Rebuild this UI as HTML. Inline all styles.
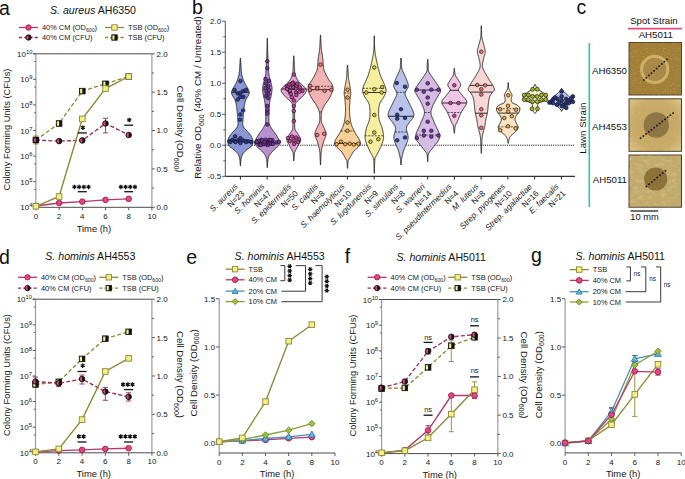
<!DOCTYPE html>
<html><head><meta charset="utf-8"><style>
html,body{margin:0;padding:0;background:#fff;}
svg{display:block;}
text{font-family:"Liberation Sans", sans-serif;}
</style></head><body>
<svg width="685" height="479" viewBox="0 0 685 479" font-family='"Liberation Sans", sans-serif'>
<rect width="685" height="479" fill="#ffffff"/>
<text x="-1.00" y="14.50" font-size="19.5" text-anchor="start" fill="#111" >a</text>
<text x="192.00" y="13.50" font-size="19.5" text-anchor="start" fill="#111" >b</text>
<text x="576.50" y="13.80" font-size="19.5" text-anchor="start" fill="#111" >c</text>
<text x="-1.00" y="264.00" font-size="19.5" text-anchor="start" fill="#111" >d</text>
<text x="186.20" y="264.30" font-size="19.5" text-anchor="start" fill="#111" >e</text>
<text x="344.80" y="263.10" font-size="19.5" text-anchor="start" fill="#111" >f</text>
<text x="531.00" y="262.20" font-size="19.5" text-anchor="start" fill="#111" >g</text>
<line x1="33.10" y1="53.80" x2="151.90" y2="53.80" stroke="#4a4a4a" stroke-width="1.0"/>
<line x1="35.90" y1="53.80" x2="35.90" y2="207.30" stroke="#9a9a9a" stroke-width="1.2"/>
<line x1="151.90" y1="53.80" x2="151.90" y2="207.30" stroke="#9a9a9a" stroke-width="1.2"/>
<line x1="35.90" y1="207.30" x2="151.90" y2="207.30" stroke="#4a4a4a" stroke-width="1.0"/>
<line x1="33.10" y1="207.30" x2="35.90" y2="207.30" stroke="#4a4a4a" stroke-width="0.9"/>
<text x="32.40" y="210.30" font-size="8" text-anchor="end" fill="#161616">10<tspan font-size="5.8" dy="-2.9">4</tspan></text>
<line x1="34.10" y1="189.42" x2="35.90" y2="189.42" stroke="#4a4a4a" stroke-width="0.8"/>
<line x1="33.10" y1="181.72" x2="35.90" y2="181.72" stroke="#4a4a4a" stroke-width="0.9"/>
<text x="32.40" y="184.72" font-size="8" text-anchor="end" fill="#161616">10<tspan font-size="5.8" dy="-2.9">5</tspan></text>
<line x1="34.10" y1="163.83" x2="35.90" y2="163.83" stroke="#4a4a4a" stroke-width="0.8"/>
<line x1="33.10" y1="156.13" x2="35.90" y2="156.13" stroke="#4a4a4a" stroke-width="0.9"/>
<text x="32.40" y="159.13" font-size="8" text-anchor="end" fill="#161616">10<tspan font-size="5.8" dy="-2.9">6</tspan></text>
<line x1="34.10" y1="138.25" x2="35.90" y2="138.25" stroke="#4a4a4a" stroke-width="0.8"/>
<line x1="33.10" y1="130.55" x2="35.90" y2="130.55" stroke="#4a4a4a" stroke-width="0.9"/>
<text x="32.40" y="133.55" font-size="8" text-anchor="end" fill="#161616">10<tspan font-size="5.8" dy="-2.9">7</tspan></text>
<line x1="34.10" y1="112.67" x2="35.90" y2="112.67" stroke="#4a4a4a" stroke-width="0.8"/>
<line x1="33.10" y1="104.97" x2="35.90" y2="104.97" stroke="#4a4a4a" stroke-width="0.9"/>
<text x="32.40" y="107.97" font-size="8" text-anchor="end" fill="#161616">10<tspan font-size="5.8" dy="-2.9">8</tspan></text>
<line x1="34.10" y1="87.08" x2="35.90" y2="87.08" stroke="#4a4a4a" stroke-width="0.8"/>
<line x1="33.10" y1="79.38" x2="35.90" y2="79.38" stroke="#4a4a4a" stroke-width="0.9"/>
<text x="32.40" y="82.38" font-size="8" text-anchor="end" fill="#161616">10<tspan font-size="5.8" dy="-2.9">9</tspan></text>
<line x1="34.10" y1="61.50" x2="35.90" y2="61.50" stroke="#4a4a4a" stroke-width="0.8"/>
<line x1="33.10" y1="53.80" x2="35.90" y2="53.80" stroke="#4a4a4a" stroke-width="0.9"/>
<text x="32.40" y="56.80" font-size="8" text-anchor="end" fill="#161616">10<tspan font-size="5.8" dy="-2.9">10</tspan></text>
<line x1="151.90" y1="207.30" x2="154.90" y2="207.30" stroke="#4a4a4a" stroke-width="0.9"/>
<text x="156.50" y="210.20" font-size="8" text-anchor="start" fill="#161616" >0.0</text>
<line x1="151.90" y1="188.11" x2="153.90" y2="188.11" stroke="#4a4a4a" stroke-width="0.9"/>
<line x1="151.90" y1="168.93" x2="154.90" y2="168.93" stroke="#4a4a4a" stroke-width="0.9"/>
<text x="156.50" y="171.83" font-size="8" text-anchor="start" fill="#161616" >0.5</text>
<line x1="151.90" y1="149.74" x2="153.90" y2="149.74" stroke="#4a4a4a" stroke-width="0.9"/>
<line x1="151.90" y1="130.55" x2="154.90" y2="130.55" stroke="#4a4a4a" stroke-width="0.9"/>
<text x="156.50" y="133.45" font-size="8" text-anchor="start" fill="#161616" >1.0</text>
<line x1="151.90" y1="111.36" x2="153.90" y2="111.36" stroke="#4a4a4a" stroke-width="0.9"/>
<line x1="151.90" y1="92.18" x2="154.90" y2="92.18" stroke="#4a4a4a" stroke-width="0.9"/>
<text x="156.50" y="95.08" font-size="8" text-anchor="start" fill="#161616" >1.5</text>
<line x1="151.90" y1="72.99" x2="153.90" y2="72.99" stroke="#4a4a4a" stroke-width="0.9"/>
<line x1="151.90" y1="53.80" x2="154.90" y2="53.80" stroke="#4a4a4a" stroke-width="0.9"/>
<text x="156.50" y="56.70" font-size="8" text-anchor="start" fill="#161616" >2.0</text>
<line x1="35.90" y1="207.30" x2="35.90" y2="210.30" stroke="#4a4a4a" stroke-width="0.9"/>
<text x="35.90" y="218.90" font-size="8" text-anchor="middle" fill="#161616" >0</text>
<line x1="59.10" y1="207.30" x2="59.10" y2="210.30" stroke="#4a4a4a" stroke-width="0.9"/>
<text x="59.10" y="218.90" font-size="8" text-anchor="middle" fill="#161616" >2</text>
<line x1="82.30" y1="207.30" x2="82.30" y2="210.30" stroke="#4a4a4a" stroke-width="0.9"/>
<text x="82.30" y="218.90" font-size="8" text-anchor="middle" fill="#161616" >4</text>
<line x1="105.50" y1="207.30" x2="105.50" y2="210.30" stroke="#4a4a4a" stroke-width="0.9"/>
<text x="105.50" y="218.90" font-size="8" text-anchor="middle" fill="#161616" >6</text>
<line x1="128.70" y1="207.30" x2="128.70" y2="210.30" stroke="#4a4a4a" stroke-width="0.9"/>
<text x="128.70" y="218.90" font-size="8" text-anchor="middle" fill="#161616" >8</text>
<line x1="151.90" y1="207.30" x2="151.90" y2="210.30" stroke="#4a4a4a" stroke-width="0.9"/>
<text x="151.90" y="218.90" font-size="8" text-anchor="middle" fill="#161616" >10</text>
<text x="93.90" y="231.60" font-size="9.4" text-anchor="middle" fill="#161616" >Time (h)</text>
<text x="0" y="0" font-size="9.3" text-anchor="middle" fill="#161616" transform="translate(10.10,129.55) rotate(-90)">Colony Forming Units (CFUs)</text>
<text x="0" y="0" font-size="9.7" text-anchor="middle" fill="#161616" transform="translate(176.60,129.05) rotate(90)">Cell Density (OD<tspan font-size="7" dy="2.4">600</tspan><tspan dy="-2.4">)</tspan></text>
<text x="50.00" y="14.20" font-size="10.6" fill="#111"><tspan font-style="italic">S. aureus</tspan> AH6350</text>
<line x1="19.00" y1="27.50" x2="38.00" y2="27.50" stroke="#b3386c" stroke-width="1.3"/>
<circle cx="28.50" cy="27.50" r="2.7" fill="#e2477f" stroke="#a11f50" stroke-width="0.9"/>
<text x="42.00" y="30.10" font-size="7.4" fill="#161616">40% CM (OD<tspan font-size="5.2" dy="1.6">600</tspan><tspan dy="-1.6">)</tspan></text>
<line x1="19.00" y1="37.50" x2="38.00" y2="37.50" stroke="#9a2c5c" stroke-width="1.3" stroke-dasharray="3.2,2"/>
<circle cx="28.50" cy="37.50" r="2.7" fill="#111" stroke="#111" stroke-width="0.8"/>
<path d="M28.50,35.40 A2.1,2.1 0 0 0 28.50,39.60 Z" fill="#e2477f"/>
<text x="42.00" y="40.10" font-size="7.4" text-anchor="start" fill="#161616" >40% CM (CFU)</text>
<line x1="105.00" y1="27.50" x2="124.00" y2="27.50" stroke="#8c8a38" stroke-width="1.3"/>
<rect x="111.80" y="24.80" width="5.4" height="5.4" fill="#f6ef86" stroke="#8a8836" stroke-width="0.9"/>
<text x="128.00" y="30.10" font-size="7.4" fill="#161616">TSB (OD<tspan font-size="5.2" dy="1.6">600</tspan><tspan dy="-1.6">)</tspan></text>
<line x1="105.00" y1="37.50" x2="124.00" y2="37.50" stroke="#8c8a38" stroke-width="1.3" stroke-dasharray="3.2,2"/>
<rect x="111.80" y="34.80" width="5.4" height="5.4" fill="#111" stroke="#111" stroke-width="0.8"/>
<rect x="112.40" y="35.40" width="2.10" height="4.20" fill="#f6ef86"/>
<text x="128.00" y="40.10" font-size="7.4" text-anchor="start" fill="#161616" >TSB (CFU)</text>
<path d="M105.50,118.30 V132.90 M102.90,118.30 H108.10 M102.90,132.90 H108.10" stroke="#9a2c5c" stroke-width="0.9" fill="none"/>
<path d="M35.90,136.00 V144.00 M33.30,136.00 H38.50 M33.30,144.00 H38.50" stroke="#8a8836" stroke-width="0.9" fill="none"/>
<polyline points="35.90,140.00 59.10,123.50 82.30,91.10 105.50,83.80 128.70,76.50" fill="none" stroke="#8c8a38" stroke-width="1.35" stroke-dasharray="4,2.2"/>
<polyline points="35.90,140.10 59.10,141.10 82.30,140.40 105.50,123.50 128.70,135.00" fill="none" stroke="#9a2c5c" stroke-width="1.35" stroke-dasharray="4,2.2"/>
<polyline points="35.90,206.00 59.10,203.00 82.30,201.60 105.50,199.90 128.70,198.90" fill="none" stroke="#b3386c" stroke-width="1.4"/>
<polyline points="35.90,206.30 59.10,196.50 82.30,118.90 105.50,88.60 128.70,76.50" fill="none" stroke="#8c8a38" stroke-width="1.4"/>
<rect x="33.10" y="137.20" width="5.6" height="5.6" fill="#111" stroke="#111" stroke-width="0.8"/>
<rect x="33.70" y="137.80" width="2.20" height="4.40" fill="#f6ef86"/>
<rect x="56.30" y="120.70" width="5.6" height="5.6" fill="#111" stroke="#111" stroke-width="0.8"/>
<rect x="56.90" y="121.30" width="2.20" height="4.40" fill="#f6ef86"/>
<rect x="79.50" y="88.30" width="5.6" height="5.6" fill="#111" stroke="#111" stroke-width="0.8"/>
<rect x="80.10" y="88.90" width="2.20" height="4.40" fill="#f6ef86"/>
<rect x="102.70" y="81.00" width="5.6" height="5.6" fill="#111" stroke="#111" stroke-width="0.8"/>
<rect x="103.30" y="81.60" width="2.20" height="4.40" fill="#f6ef86"/>
<rect x="125.90" y="73.70" width="5.6" height="5.6" fill="#111" stroke="#111" stroke-width="0.8"/>
<rect x="126.50" y="74.30" width="2.20" height="4.40" fill="#f6ef86"/>
<circle cx="35.90" cy="140.10" r="2.8" fill="#111" stroke="#111" stroke-width="0.8"/>
<path d="M35.90,137.90 A2.1999999999999997,2.1999999999999997 0 0 0 35.90,142.30 Z" fill="#e2477f"/>
<circle cx="59.10" cy="141.10" r="2.8" fill="#111" stroke="#111" stroke-width="0.8"/>
<path d="M59.10,138.90 A2.1999999999999997,2.1999999999999997 0 0 0 59.10,143.30 Z" fill="#e2477f"/>
<circle cx="82.30" cy="140.40" r="2.8" fill="#111" stroke="#111" stroke-width="0.8"/>
<path d="M82.30,138.20 A2.1999999999999997,2.1999999999999997 0 0 0 82.30,142.60 Z" fill="#e2477f"/>
<circle cx="105.50" cy="123.50" r="2.8" fill="#111" stroke="#111" stroke-width="0.8"/>
<path d="M105.50,121.30 A2.1999999999999997,2.1999999999999997 0 0 0 105.50,125.70 Z" fill="#e2477f"/>
<circle cx="128.70" cy="135.00" r="2.8" fill="#111" stroke="#111" stroke-width="0.8"/>
<path d="M128.70,132.80 A2.1999999999999997,2.1999999999999997 0 0 0 128.70,137.20 Z" fill="#e2477f"/>
<circle cx="35.90" cy="206.00" r="2.8" fill="#e2477f" stroke="#a11f50" stroke-width="0.9"/>
<circle cx="59.10" cy="203.00" r="2.8" fill="#e2477f" stroke="#a11f50" stroke-width="0.9"/>
<circle cx="82.30" cy="201.60" r="2.8" fill="#e2477f" stroke="#a11f50" stroke-width="0.9"/>
<circle cx="105.50" cy="199.90" r="2.8" fill="#e2477f" stroke="#a11f50" stroke-width="0.9"/>
<circle cx="128.70" cy="198.90" r="2.8" fill="#e2477f" stroke="#a11f50" stroke-width="0.9"/>
<rect x="33.10" y="203.50" width="5.6" height="5.6" fill="#f6ef86" stroke="#8a8836" stroke-width="0.9"/>
<rect x="56.30" y="193.70" width="5.6" height="5.6" fill="#f6ef86" stroke="#8a8836" stroke-width="0.9"/>
<rect x="79.50" y="116.10" width="5.6" height="5.6" fill="#f6ef86" stroke="#8a8836" stroke-width="0.9"/>
<rect x="102.70" y="85.80" width="5.6" height="5.6" fill="#f6ef86" stroke="#8a8836" stroke-width="0.9"/>
<rect x="125.90" y="73.70" width="5.6" height="5.6" fill="#f6ef86" stroke="#8a8836" stroke-width="0.9"/>
<path d="M82.90,125.45 L82.90,129.95 M80.95,126.58 L84.85,128.82 M84.85,126.58 L80.95,128.82 " stroke="#111" stroke-width="1.25" fill="none"/>
<line x1="77.80" y1="132.90" x2="86.80" y2="132.90" stroke="#111" stroke-width="1.3"/>
<path d="M129.30,117.75 L129.30,122.25 M127.35,118.88 L131.25,121.12 M131.25,118.88 L127.35,121.12 " stroke="#111" stroke-width="1.25" fill="none"/>
<line x1="124.20" y1="125.20" x2="133.20" y2="125.20" stroke="#111" stroke-width="1.3"/>
<path d="M74.45,184.65 L74.45,189.15 M72.50,185.78 L76.40,188.03 M76.40,185.78 L72.50,188.03 " stroke="#111" stroke-width="1.25" fill="none"/>
<path d="M79.15,184.65 L79.15,189.15 M77.20,185.78 L81.10,188.03 M81.10,185.78 L77.20,188.03 " stroke="#111" stroke-width="1.25" fill="none"/>
<path d="M83.85,184.65 L83.85,189.15 M81.90,185.78 L85.80,188.03 M85.80,185.78 L81.90,188.03 " stroke="#111" stroke-width="1.25" fill="none"/>
<path d="M88.55,184.65 L88.55,189.15 M86.60,185.78 L90.50,188.03 M90.50,185.78 L86.60,188.03 " stroke="#111" stroke-width="1.25" fill="none"/>
<line x1="77.80" y1="191.70" x2="86.80" y2="191.70" stroke="#111" stroke-width="1.3"/>
<path d="M120.85,184.65 L120.85,189.15 M118.90,185.78 L122.80,188.03 M122.80,185.78 L118.90,188.03 " stroke="#111" stroke-width="1.25" fill="none"/>
<path d="M125.55,184.65 L125.55,189.15 M123.60,185.78 L127.50,188.03 M127.50,185.78 L123.60,188.03 " stroke="#111" stroke-width="1.25" fill="none"/>
<path d="M130.25,184.65 L130.25,189.15 M128.30,185.78 L132.20,188.03 M132.20,185.78 L128.30,188.03 " stroke="#111" stroke-width="1.25" fill="none"/>
<path d="M134.95,184.65 L134.95,189.15 M133.00,185.78 L136.90,188.03 M136.90,185.78 L133.00,188.03 " stroke="#111" stroke-width="1.25" fill="none"/>
<line x1="124.20" y1="191.70" x2="133.20" y2="191.70" stroke="#111" stroke-width="1.3"/>
<line x1="32.70" y1="299.20" x2="151.90" y2="299.20" stroke="#4a4a4a" stroke-width="1.0"/>
<line x1="35.50" y1="299.20" x2="35.50" y2="452.80" stroke="#9a9a9a" stroke-width="1.2"/>
<line x1="151.90" y1="299.20" x2="151.90" y2="452.80" stroke="#9a9a9a" stroke-width="1.2"/>
<line x1="35.50" y1="452.80" x2="151.90" y2="452.80" stroke="#4a4a4a" stroke-width="1.0"/>
<line x1="32.70" y1="452.80" x2="35.50" y2="452.80" stroke="#4a4a4a" stroke-width="0.9"/>
<text x="32.00" y="455.80" font-size="8" text-anchor="end" fill="#161616">10<tspan font-size="5.8" dy="-2.9">4</tspan></text>
<line x1="33.70" y1="434.91" x2="35.50" y2="434.91" stroke="#4a4a4a" stroke-width="0.8"/>
<line x1="32.70" y1="427.20" x2="35.50" y2="427.20" stroke="#4a4a4a" stroke-width="0.9"/>
<text x="32.00" y="430.20" font-size="8" text-anchor="end" fill="#161616">10<tspan font-size="5.8" dy="-2.9">5</tspan></text>
<line x1="33.70" y1="409.31" x2="35.50" y2="409.31" stroke="#4a4a4a" stroke-width="0.8"/>
<line x1="32.70" y1="401.60" x2="35.50" y2="401.60" stroke="#4a4a4a" stroke-width="0.9"/>
<text x="32.00" y="404.60" font-size="8" text-anchor="end" fill="#161616">10<tspan font-size="5.8" dy="-2.9">6</tspan></text>
<line x1="33.70" y1="383.71" x2="35.50" y2="383.71" stroke="#4a4a4a" stroke-width="0.8"/>
<line x1="32.70" y1="376.00" x2="35.50" y2="376.00" stroke="#4a4a4a" stroke-width="0.9"/>
<text x="32.00" y="379.00" font-size="8" text-anchor="end" fill="#161616">10<tspan font-size="5.8" dy="-2.9">7</tspan></text>
<line x1="33.70" y1="358.11" x2="35.50" y2="358.11" stroke="#4a4a4a" stroke-width="0.8"/>
<line x1="32.70" y1="350.40" x2="35.50" y2="350.40" stroke="#4a4a4a" stroke-width="0.9"/>
<text x="32.00" y="353.40" font-size="8" text-anchor="end" fill="#161616">10<tspan font-size="5.8" dy="-2.9">8</tspan></text>
<line x1="33.70" y1="332.51" x2="35.50" y2="332.51" stroke="#4a4a4a" stroke-width="0.8"/>
<line x1="32.70" y1="324.80" x2="35.50" y2="324.80" stroke="#4a4a4a" stroke-width="0.9"/>
<text x="32.00" y="327.80" font-size="8" text-anchor="end" fill="#161616">10<tspan font-size="5.8" dy="-2.9">9</tspan></text>
<line x1="33.70" y1="306.91" x2="35.50" y2="306.91" stroke="#4a4a4a" stroke-width="0.8"/>
<line x1="32.70" y1="299.20" x2="35.50" y2="299.20" stroke="#4a4a4a" stroke-width="0.9"/>
<text x="32.00" y="302.20" font-size="8" text-anchor="end" fill="#161616">10<tspan font-size="5.8" dy="-2.9">10</tspan></text>
<line x1="151.90" y1="452.80" x2="154.90" y2="452.80" stroke="#4a4a4a" stroke-width="0.9"/>
<text x="156.50" y="455.70" font-size="8" text-anchor="start" fill="#161616" >0.0</text>
<line x1="151.90" y1="433.60" x2="153.90" y2="433.60" stroke="#4a4a4a" stroke-width="0.9"/>
<line x1="151.90" y1="414.40" x2="154.90" y2="414.40" stroke="#4a4a4a" stroke-width="0.9"/>
<text x="156.50" y="417.30" font-size="8" text-anchor="start" fill="#161616" >0.5</text>
<line x1="151.90" y1="395.20" x2="153.90" y2="395.20" stroke="#4a4a4a" stroke-width="0.9"/>
<line x1="151.90" y1="376.00" x2="154.90" y2="376.00" stroke="#4a4a4a" stroke-width="0.9"/>
<text x="156.50" y="378.90" font-size="8" text-anchor="start" fill="#161616" >1.0</text>
<line x1="151.90" y1="356.80" x2="153.90" y2="356.80" stroke="#4a4a4a" stroke-width="0.9"/>
<line x1="151.90" y1="337.60" x2="154.90" y2="337.60" stroke="#4a4a4a" stroke-width="0.9"/>
<text x="156.50" y="340.50" font-size="8" text-anchor="start" fill="#161616" >1.5</text>
<line x1="151.90" y1="318.40" x2="153.90" y2="318.40" stroke="#4a4a4a" stroke-width="0.9"/>
<line x1="151.90" y1="299.20" x2="154.90" y2="299.20" stroke="#4a4a4a" stroke-width="0.9"/>
<text x="156.50" y="302.10" font-size="8" text-anchor="start" fill="#161616" >2.0</text>
<line x1="35.50" y1="452.80" x2="35.50" y2="455.80" stroke="#4a4a4a" stroke-width="0.9"/>
<text x="35.50" y="464.40" font-size="8" text-anchor="middle" fill="#161616" >0</text>
<line x1="58.78" y1="452.80" x2="58.78" y2="455.80" stroke="#4a4a4a" stroke-width="0.9"/>
<text x="58.78" y="464.40" font-size="8" text-anchor="middle" fill="#161616" >2</text>
<line x1="82.06" y1="452.80" x2="82.06" y2="455.80" stroke="#4a4a4a" stroke-width="0.9"/>
<text x="82.06" y="464.40" font-size="8" text-anchor="middle" fill="#161616" >4</text>
<line x1="105.34" y1="452.80" x2="105.34" y2="455.80" stroke="#4a4a4a" stroke-width="0.9"/>
<text x="105.34" y="464.40" font-size="8" text-anchor="middle" fill="#161616" >6</text>
<line x1="128.62" y1="452.80" x2="128.62" y2="455.80" stroke="#4a4a4a" stroke-width="0.9"/>
<text x="128.62" y="464.40" font-size="8" text-anchor="middle" fill="#161616" >8</text>
<line x1="151.90" y1="452.80" x2="151.90" y2="455.80" stroke="#4a4a4a" stroke-width="0.9"/>
<text x="151.90" y="464.40" font-size="8" text-anchor="middle" fill="#161616" >10</text>
<text x="93.70" y="477.10" font-size="9.4" text-anchor="middle" fill="#161616" >Time (h)</text>
<text x="0" y="0" font-size="9.3" text-anchor="middle" fill="#161616" transform="translate(9.70,375.00) rotate(-90)">Colony Forming Units (CFUs)</text>
<text x="0" y="0" font-size="9.7" text-anchor="middle" fill="#161616" transform="translate(176.60,374.50) rotate(90)">Cell Density (OD<tspan font-size="7" dy="2.4">600</tspan><tspan dy="-2.4">)</tspan></text>
<text x="45.30" y="259.80" font-size="10.6" fill="#111"><tspan font-style="italic">S. hominis</tspan> AH4553</text>
<line x1="18.00" y1="277.30" x2="37.00" y2="277.30" stroke="#b3386c" stroke-width="1.3"/>
<circle cx="27.50" cy="277.30" r="2.7" fill="#e2477f" stroke="#a11f50" stroke-width="0.9"/>
<text x="41.00" y="279.90" font-size="7.4" fill="#161616">40% CM (OD<tspan font-size="5.2" dy="1.6">600</tspan><tspan dy="-1.6">)</tspan></text>
<line x1="18.00" y1="288.10" x2="37.00" y2="288.10" stroke="#9a2c5c" stroke-width="1.3" stroke-dasharray="3.2,2"/>
<circle cx="27.50" cy="288.10" r="2.7" fill="#111" stroke="#111" stroke-width="0.8"/>
<path d="M27.50,286.00 A2.1,2.1 0 0 0 27.50,290.20 Z" fill="#e2477f"/>
<text x="41.00" y="290.70" font-size="7.4" text-anchor="start" fill="#161616" >40% CM (CFU)</text>
<line x1="99.30" y1="277.30" x2="118.30" y2="277.30" stroke="#8c8a38" stroke-width="1.3"/>
<rect x="106.10" y="274.60" width="5.4" height="5.4" fill="#f6ef86" stroke="#8a8836" stroke-width="0.9"/>
<text x="122.30" y="279.90" font-size="7.4" fill="#161616">TSB (OD<tspan font-size="5.2" dy="1.6">600</tspan><tspan dy="-1.6">)</tspan></text>
<line x1="99.30" y1="288.10" x2="118.30" y2="288.10" stroke="#8c8a38" stroke-width="1.3" stroke-dasharray="3.2,2"/>
<rect x="106.10" y="285.40" width="5.4" height="5.4" fill="#111" stroke="#111" stroke-width="0.8"/>
<rect x="106.70" y="286.00" width="2.10" height="4.20" fill="#f6ef86"/>
<text x="122.30" y="290.70" font-size="7.4" text-anchor="start" fill="#161616" >TSB (CFU)</text>
<path d="M35.50,377.00 V386.90 M32.90,377.00 H38.10 M32.90,386.90 H38.10" stroke="#9a2c5c" stroke-width="0.9" fill="none"/>
<path d="M58.78,380.00 V386.50 M56.18,380.00 H61.38 M56.18,386.50 H61.38" stroke="#9a2c5c" stroke-width="0.9" fill="none"/>
<path d="M82.06,375.00 V384.00 M79.46,375.00 H84.66 M79.46,384.00 H84.66" stroke="#9a2c5c" stroke-width="0.9" fill="none"/>
<path d="M105.34,387.40 V400.30 M102.74,387.40 H107.94 M102.74,400.30 H107.94" stroke="#9a2c5c" stroke-width="0.9" fill="none"/>
<path d="M128.62,392.80 V401.00 M126.02,392.80 H131.22 M126.02,401.00 H131.22" stroke="#9a2c5c" stroke-width="0.9" fill="none"/>
<polyline points="35.50,384.40 58.78,381.80 82.06,358.90 105.34,338.70 128.62,331.80" fill="none" stroke="#8c8a38" stroke-width="1.35" stroke-dasharray="4,2.2"/>
<polyline points="35.50,381.50 58.78,383.30 82.06,379.00 105.34,391.60 128.62,396.80" fill="none" stroke="#9a2c5c" stroke-width="1.35" stroke-dasharray="4,2.2"/>
<polyline points="35.50,452.00 58.78,450.60 82.06,449.90 105.34,448.90 128.62,448.20" fill="none" stroke="#b3386c" stroke-width="1.4"/>
<polyline points="35.50,451.90 58.78,448.90 82.06,419.60 105.34,371.50 128.62,358.40" fill="none" stroke="#8c8a38" stroke-width="1.4"/>
<rect x="32.70" y="381.60" width="5.6" height="5.6" fill="#111" stroke="#111" stroke-width="0.8"/>
<rect x="33.30" y="382.20" width="2.20" height="4.40" fill="#f6ef86"/>
<rect x="55.98" y="379.00" width="5.6" height="5.6" fill="#111" stroke="#111" stroke-width="0.8"/>
<rect x="56.58" y="379.60" width="2.20" height="4.40" fill="#f6ef86"/>
<rect x="79.26" y="356.10" width="5.6" height="5.6" fill="#111" stroke="#111" stroke-width="0.8"/>
<rect x="79.86" y="356.70" width="2.20" height="4.40" fill="#f6ef86"/>
<rect x="102.54" y="335.90" width="5.6" height="5.6" fill="#111" stroke="#111" stroke-width="0.8"/>
<rect x="103.14" y="336.50" width="2.20" height="4.40" fill="#f6ef86"/>
<rect x="125.82" y="329.00" width="5.6" height="5.6" fill="#111" stroke="#111" stroke-width="0.8"/>
<rect x="126.42" y="329.60" width="2.20" height="4.40" fill="#f6ef86"/>
<circle cx="35.50" cy="381.50" r="2.8" fill="#111" stroke="#111" stroke-width="0.8"/>
<path d="M35.50,379.30 A2.1999999999999997,2.1999999999999997 0 0 0 35.50,383.70 Z" fill="#e2477f"/>
<circle cx="58.78" cy="383.30" r="2.8" fill="#111" stroke="#111" stroke-width="0.8"/>
<path d="M58.78,381.10 A2.1999999999999997,2.1999999999999997 0 0 0 58.78,385.50 Z" fill="#e2477f"/>
<circle cx="82.06" cy="379.00" r="2.8" fill="#111" stroke="#111" stroke-width="0.8"/>
<path d="M82.06,376.80 A2.1999999999999997,2.1999999999999997 0 0 0 82.06,381.20 Z" fill="#e2477f"/>
<circle cx="105.34" cy="391.60" r="2.8" fill="#111" stroke="#111" stroke-width="0.8"/>
<path d="M105.34,389.40 A2.1999999999999997,2.1999999999999997 0 0 0 105.34,393.80 Z" fill="#e2477f"/>
<circle cx="128.62" cy="396.80" r="2.8" fill="#111" stroke="#111" stroke-width="0.8"/>
<path d="M128.62,394.60 A2.1999999999999997,2.1999999999999997 0 0 0 128.62,399.00 Z" fill="#e2477f"/>
<circle cx="35.50" cy="452.00" r="2.8" fill="#e2477f" stroke="#a11f50" stroke-width="0.9"/>
<circle cx="58.78" cy="450.60" r="2.8" fill="#e2477f" stroke="#a11f50" stroke-width="0.9"/>
<circle cx="82.06" cy="449.90" r="2.8" fill="#e2477f" stroke="#a11f50" stroke-width="0.9"/>
<circle cx="105.34" cy="448.90" r="2.8" fill="#e2477f" stroke="#a11f50" stroke-width="0.9"/>
<circle cx="128.62" cy="448.20" r="2.8" fill="#e2477f" stroke="#a11f50" stroke-width="0.9"/>
<rect x="32.70" y="449.10" width="5.6" height="5.6" fill="#f6ef86" stroke="#8a8836" stroke-width="0.9"/>
<rect x="55.98" y="446.10" width="5.6" height="5.6" fill="#f6ef86" stroke="#8a8836" stroke-width="0.9"/>
<rect x="79.26" y="416.80" width="5.6" height="5.6" fill="#f6ef86" stroke="#8a8836" stroke-width="0.9"/>
<rect x="102.54" y="368.70" width="5.6" height="5.6" fill="#f6ef86" stroke="#8a8836" stroke-width="0.9"/>
<rect x="125.82" y="355.60" width="5.6" height="5.6" fill="#f6ef86" stroke="#8a8836" stroke-width="0.9"/>
<path d="M82.66,363.45 L82.66,367.95 M80.71,364.57 L84.61,366.82 M84.61,364.57 L80.71,366.82 " stroke="#111" stroke-width="1.25" fill="none"/>
<line x1="77.56" y1="371.50" x2="86.56" y2="371.50" stroke="#111" stroke-width="1.3"/>
<path d="M123.12,382.25 L123.12,386.75 M121.17,383.38 L125.07,385.62 M125.07,383.38 L121.17,385.62 " stroke="#111" stroke-width="1.25" fill="none"/>
<path d="M127.82,382.25 L127.82,386.75 M125.87,383.38 L129.77,385.62 M129.77,383.38 L125.87,385.62 " stroke="#111" stroke-width="1.25" fill="none"/>
<path d="M132.52,382.25 L132.52,386.75 M130.57,383.38 L134.47,385.62 M134.47,383.38 L130.57,385.62 " stroke="#111" stroke-width="1.25" fill="none"/>
<line x1="124.12" y1="389.60" x2="133.12" y2="389.60" stroke="#111" stroke-width="1.3"/>
<path d="M78.91,434.25 L78.91,438.75 M76.96,435.38 L80.86,437.62 M80.86,435.38 L76.96,437.62 " stroke="#111" stroke-width="1.25" fill="none"/>
<path d="M83.61,434.25 L83.61,438.75 M81.66,435.38 L85.56,437.62 M85.56,435.38 L81.66,437.62 " stroke="#111" stroke-width="1.25" fill="none"/>
<line x1="77.56" y1="442.00" x2="86.56" y2="442.00" stroke="#111" stroke-width="1.3"/>
<path d="M120.77,434.25 L120.77,438.75 M118.82,435.38 L122.72,437.62 M122.72,435.38 L118.82,437.62 " stroke="#111" stroke-width="1.25" fill="none"/>
<path d="M125.47,434.25 L125.47,438.75 M123.52,435.38 L127.42,437.62 M127.42,435.38 L123.52,437.62 " stroke="#111" stroke-width="1.25" fill="none"/>
<path d="M130.17,434.25 L130.17,438.75 M128.22,435.38 L132.12,437.62 M132.12,435.38 L128.22,437.62 " stroke="#111" stroke-width="1.25" fill="none"/>
<path d="M134.87,434.25 L134.87,438.75 M132.92,435.38 L136.82,437.62 M136.82,435.38 L132.92,437.62 " stroke="#111" stroke-width="1.25" fill="none"/>
<line x1="124.12" y1="442.00" x2="133.12" y2="442.00" stroke="#111" stroke-width="1.3"/>
<line x1="378.80" y1="299.50" x2="497.80" y2="299.50" stroke="#4a4a4a" stroke-width="1.0"/>
<line x1="381.60" y1="299.50" x2="381.60" y2="453.60" stroke="#9a9a9a" stroke-width="1.2"/>
<line x1="497.80" y1="299.50" x2="497.80" y2="453.60" stroke="#9a9a9a" stroke-width="1.2"/>
<line x1="381.60" y1="453.60" x2="497.80" y2="453.60" stroke="#4a4a4a" stroke-width="1.0"/>
<line x1="378.80" y1="453.60" x2="381.60" y2="453.60" stroke="#4a4a4a" stroke-width="0.9"/>
<text x="378.10" y="456.60" font-size="8" text-anchor="end" fill="#161616">10<tspan font-size="5.8" dy="-2.9">4</tspan></text>
<line x1="379.80" y1="435.65" x2="381.60" y2="435.65" stroke="#4a4a4a" stroke-width="0.8"/>
<line x1="378.80" y1="427.92" x2="381.60" y2="427.92" stroke="#4a4a4a" stroke-width="0.9"/>
<text x="378.10" y="430.92" font-size="8" text-anchor="end" fill="#161616">10<tspan font-size="5.8" dy="-2.9">5</tspan></text>
<line x1="379.80" y1="409.96" x2="381.60" y2="409.96" stroke="#4a4a4a" stroke-width="0.8"/>
<line x1="378.80" y1="402.23" x2="381.60" y2="402.23" stroke="#4a4a4a" stroke-width="0.9"/>
<text x="378.10" y="405.23" font-size="8" text-anchor="end" fill="#161616">10<tspan font-size="5.8" dy="-2.9">6</tspan></text>
<line x1="379.80" y1="384.28" x2="381.60" y2="384.28" stroke="#4a4a4a" stroke-width="0.8"/>
<line x1="378.80" y1="376.55" x2="381.60" y2="376.55" stroke="#4a4a4a" stroke-width="0.9"/>
<text x="378.10" y="379.55" font-size="8" text-anchor="end" fill="#161616">10<tspan font-size="5.8" dy="-2.9">7</tspan></text>
<line x1="379.80" y1="358.60" x2="381.60" y2="358.60" stroke="#4a4a4a" stroke-width="0.8"/>
<line x1="378.80" y1="350.87" x2="381.60" y2="350.87" stroke="#4a4a4a" stroke-width="0.9"/>
<text x="378.10" y="353.87" font-size="8" text-anchor="end" fill="#161616">10<tspan font-size="5.8" dy="-2.9">8</tspan></text>
<line x1="379.80" y1="332.91" x2="381.60" y2="332.91" stroke="#4a4a4a" stroke-width="0.8"/>
<line x1="378.80" y1="325.18" x2="381.60" y2="325.18" stroke="#4a4a4a" stroke-width="0.9"/>
<text x="378.10" y="328.18" font-size="8" text-anchor="end" fill="#161616">10<tspan font-size="5.8" dy="-2.9">9</tspan></text>
<line x1="379.80" y1="307.23" x2="381.60" y2="307.23" stroke="#4a4a4a" stroke-width="0.8"/>
<line x1="378.80" y1="299.50" x2="381.60" y2="299.50" stroke="#4a4a4a" stroke-width="0.9"/>
<text x="378.10" y="302.50" font-size="8" text-anchor="end" fill="#161616">10<tspan font-size="5.8" dy="-2.9">10</tspan></text>
<line x1="497.80" y1="453.60" x2="500.80" y2="453.60" stroke="#4a4a4a" stroke-width="0.9"/>
<text x="502.40" y="456.50" font-size="8" text-anchor="start" fill="#161616" >0.0</text>
<line x1="497.80" y1="434.34" x2="499.80" y2="434.34" stroke="#4a4a4a" stroke-width="0.9"/>
<line x1="497.80" y1="415.08" x2="500.80" y2="415.08" stroke="#4a4a4a" stroke-width="0.9"/>
<text x="502.40" y="417.98" font-size="8" text-anchor="start" fill="#161616" >0.5</text>
<line x1="497.80" y1="395.81" x2="499.80" y2="395.81" stroke="#4a4a4a" stroke-width="0.9"/>
<line x1="497.80" y1="376.55" x2="500.80" y2="376.55" stroke="#4a4a4a" stroke-width="0.9"/>
<text x="502.40" y="379.45" font-size="8" text-anchor="start" fill="#161616" >1.0</text>
<line x1="497.80" y1="357.29" x2="499.80" y2="357.29" stroke="#4a4a4a" stroke-width="0.9"/>
<line x1="497.80" y1="338.02" x2="500.80" y2="338.02" stroke="#4a4a4a" stroke-width="0.9"/>
<text x="502.40" y="340.92" font-size="8" text-anchor="start" fill="#161616" >1.5</text>
<line x1="497.80" y1="318.76" x2="499.80" y2="318.76" stroke="#4a4a4a" stroke-width="0.9"/>
<line x1="497.80" y1="299.50" x2="500.80" y2="299.50" stroke="#4a4a4a" stroke-width="0.9"/>
<text x="502.40" y="302.40" font-size="8" text-anchor="start" fill="#161616" >2.0</text>
<line x1="381.60" y1="453.60" x2="381.60" y2="456.60" stroke="#4a4a4a" stroke-width="0.9"/>
<text x="381.60" y="465.20" font-size="8" text-anchor="middle" fill="#161616" >0</text>
<line x1="404.84" y1="453.60" x2="404.84" y2="456.60" stroke="#4a4a4a" stroke-width="0.9"/>
<text x="404.84" y="465.20" font-size="8" text-anchor="middle" fill="#161616" >2</text>
<line x1="428.08" y1="453.60" x2="428.08" y2="456.60" stroke="#4a4a4a" stroke-width="0.9"/>
<text x="428.08" y="465.20" font-size="8" text-anchor="middle" fill="#161616" >4</text>
<line x1="451.32" y1="453.60" x2="451.32" y2="456.60" stroke="#4a4a4a" stroke-width="0.9"/>
<text x="451.32" y="465.20" font-size="8" text-anchor="middle" fill="#161616" >6</text>
<line x1="474.56" y1="453.60" x2="474.56" y2="456.60" stroke="#4a4a4a" stroke-width="0.9"/>
<text x="474.56" y="465.20" font-size="8" text-anchor="middle" fill="#161616" >8</text>
<line x1="497.80" y1="453.60" x2="497.80" y2="456.60" stroke="#4a4a4a" stroke-width="0.9"/>
<text x="497.80" y="465.20" font-size="8" text-anchor="middle" fill="#161616" >10</text>
<text x="439.70" y="477.90" font-size="9.4" text-anchor="middle" fill="#161616" >Time (h)</text>
<text x="0" y="0" font-size="9.3" text-anchor="middle" fill="#161616" transform="translate(355.70,375.55) rotate(-90)">Colony Forming Units (CFUs)</text>
<text x="0" y="0" font-size="9.7" text-anchor="middle" fill="#161616" transform="translate(521.20,375.05) rotate(90)">Cell Density (OD<tspan font-size="7" dy="2.4">600</tspan><tspan dy="-2.4">)</tspan></text>
<text x="396.50" y="260.50" font-size="10.6" fill="#111"><tspan font-style="italic">S. hominis</tspan> AH5011</text>
<line x1="367.60" y1="277.30" x2="386.60" y2="277.30" stroke="#b3386c" stroke-width="1.3"/>
<circle cx="377.10" cy="277.30" r="2.7" fill="#e2477f" stroke="#a11f50" stroke-width="0.9"/>
<text x="390.60" y="279.90" font-size="7.4" fill="#161616">40% CM (OD<tspan font-size="5.2" dy="1.6">600</tspan><tspan dy="-1.6">)</tspan></text>
<line x1="367.60" y1="288.10" x2="386.60" y2="288.10" stroke="#9a2c5c" stroke-width="1.3" stroke-dasharray="3.2,2"/>
<circle cx="377.10" cy="288.10" r="2.7" fill="#111" stroke="#111" stroke-width="0.8"/>
<path d="M377.10,286.00 A2.1,2.1 0 0 0 377.10,290.20 Z" fill="#e2477f"/>
<text x="390.60" y="290.70" font-size="7.4" text-anchor="start" fill="#161616" >40% CM (CFU)</text>
<line x1="448.20" y1="277.30" x2="467.20" y2="277.30" stroke="#8c8a38" stroke-width="1.3"/>
<rect x="455.00" y="274.60" width="5.4" height="5.4" fill="#f6ef86" stroke="#8a8836" stroke-width="0.9"/>
<text x="471.20" y="279.90" font-size="7.4" fill="#161616">TSB (OD<tspan font-size="5.2" dy="1.6">600</tspan><tspan dy="-1.6">)</tspan></text>
<line x1="448.20" y1="288.10" x2="467.20" y2="288.10" stroke="#8c8a38" stroke-width="1.3" stroke-dasharray="3.2,2"/>
<rect x="455.00" y="285.40" width="5.4" height="5.4" fill="#111" stroke="#111" stroke-width="0.8"/>
<rect x="455.60" y="286.00" width="2.10" height="4.20" fill="#f6ef86"/>
<text x="471.20" y="290.70" font-size="7.4" text-anchor="start" fill="#161616" >TSB (CFU)</text>
<path d="M428.08,425.70 V435.00 M425.48,425.70 H430.68 M425.48,435.00 H430.68" stroke="#a11f50" stroke-width="0.9" fill="none"/>
<path d="M474.56,393.60 V398.40 M471.96,393.60 H477.16 M471.96,398.40 H477.16" stroke="#a11f50" stroke-width="0.9" fill="none"/>
<path d="M451.32,395.00 V431.70 M448.72,395.00 H453.92 M448.72,431.70 H453.92" stroke="#8a8836" stroke-width="0.9" fill="none"/>
<path d="M474.56,381.80 V397.00 M471.96,381.80 H477.16 M471.96,397.00 H477.16" stroke="#8a8836" stroke-width="0.9" fill="none"/>
<path d="M451.32,340.00 V361.50 M448.72,340.00 H453.92 M448.72,361.50 H453.92" stroke="#8a8836" stroke-width="0.9" fill="none"/>
<path d="M428.08,348.50 V354.00 M425.48,348.50 H430.68 M425.48,354.00 H430.68" stroke="#9a2c5c" stroke-width="0.9" fill="none"/>
<polyline points="381.60,388.60 404.84,387.90 428.08,367.40 451.32,345.70 474.56,337.30" fill="none" stroke="#8c8a38" stroke-width="1.35" stroke-dasharray="4,2.2"/>
<polyline points="381.60,387.90 404.84,381.50 428.08,351.30 451.32,336.80 474.56,334.70" fill="none" stroke="#9a2c5c" stroke-width="1.35" stroke-dasharray="4,2.2"/>
<polyline points="381.60,453.00 404.84,450.10 428.08,430.40 451.32,395.50 474.56,395.50" fill="none" stroke="#b3386c" stroke-width="1.4"/>
<polyline points="381.60,452.80 404.84,450.70 428.08,437.80 451.32,414.10 474.56,389.70" fill="none" stroke="#8c8a38" stroke-width="1.4"/>
<rect x="378.80" y="385.80" width="5.6" height="5.6" fill="#111" stroke="#111" stroke-width="0.8"/>
<rect x="379.40" y="386.40" width="2.20" height="4.40" fill="#f6ef86"/>
<rect x="402.04" y="385.10" width="5.6" height="5.6" fill="#111" stroke="#111" stroke-width="0.8"/>
<rect x="402.64" y="385.70" width="2.20" height="4.40" fill="#f6ef86"/>
<rect x="425.28" y="364.60" width="5.6" height="5.6" fill="#111" stroke="#111" stroke-width="0.8"/>
<rect x="425.88" y="365.20" width="2.20" height="4.40" fill="#f6ef86"/>
<rect x="448.52" y="342.90" width="5.6" height="5.6" fill="#111" stroke="#111" stroke-width="0.8"/>
<rect x="449.12" y="343.50" width="2.20" height="4.40" fill="#f6ef86"/>
<rect x="471.76" y="334.50" width="5.6" height="5.6" fill="#111" stroke="#111" stroke-width="0.8"/>
<rect x="472.36" y="335.10" width="2.20" height="4.40" fill="#f6ef86"/>
<circle cx="381.60" cy="387.90" r="2.8" fill="#111" stroke="#111" stroke-width="0.8"/>
<path d="M381.60,385.70 A2.1999999999999997,2.1999999999999997 0 0 0 381.60,390.10 Z" fill="#e2477f"/>
<circle cx="404.84" cy="381.50" r="2.8" fill="#111" stroke="#111" stroke-width="0.8"/>
<path d="M404.84,379.30 A2.1999999999999997,2.1999999999999997 0 0 0 404.84,383.70 Z" fill="#e2477f"/>
<circle cx="428.08" cy="351.30" r="2.8" fill="#111" stroke="#111" stroke-width="0.8"/>
<path d="M428.08,349.10 A2.1999999999999997,2.1999999999999997 0 0 0 428.08,353.50 Z" fill="#e2477f"/>
<circle cx="451.32" cy="336.80" r="2.8" fill="#111" stroke="#111" stroke-width="0.8"/>
<path d="M451.32,334.60 A2.1999999999999997,2.1999999999999997 0 0 0 451.32,339.00 Z" fill="#e2477f"/>
<circle cx="474.56" cy="334.70" r="2.8" fill="#111" stroke="#111" stroke-width="0.8"/>
<path d="M474.56,332.50 A2.1999999999999997,2.1999999999999997 0 0 0 474.56,336.90 Z" fill="#e2477f"/>
<circle cx="381.60" cy="453.00" r="2.8" fill="#e2477f" stroke="#a11f50" stroke-width="0.9"/>
<circle cx="404.84" cy="450.10" r="2.8" fill="#e2477f" stroke="#a11f50" stroke-width="0.9"/>
<circle cx="428.08" cy="430.40" r="2.8" fill="#e2477f" stroke="#a11f50" stroke-width="0.9"/>
<circle cx="451.32" cy="395.50" r="2.8" fill="#e2477f" stroke="#a11f50" stroke-width="0.9"/>
<circle cx="474.56" cy="395.50" r="2.8" fill="#e2477f" stroke="#a11f50" stroke-width="0.9"/>
<rect x="378.80" y="450.00" width="5.6" height="5.6" fill="#f6ef86" stroke="#8a8836" stroke-width="0.9"/>
<rect x="402.04" y="447.90" width="5.6" height="5.6" fill="#f6ef86" stroke="#8a8836" stroke-width="0.9"/>
<rect x="425.28" y="435.00" width="5.6" height="5.6" fill="#f6ef86" stroke="#8a8836" stroke-width="0.9"/>
<rect x="448.52" y="411.30" width="5.6" height="5.6" fill="#f6ef86" stroke="#8a8836" stroke-width="0.9"/>
<rect x="471.76" y="386.90" width="5.6" height="5.6" fill="#f6ef86" stroke="#8a8836" stroke-width="0.9"/>
<text x="428.08" y="339.50" font-size="7.4" text-anchor="middle" fill="#161616" >ns</text>
<line x1="423.58" y1="342.40" x2="432.58" y2="342.40" stroke="#111" stroke-width="1.3"/>
<text x="474.56" y="322.30" font-size="7.4" text-anchor="middle" fill="#161616" >ns</text>
<line x1="470.06" y1="325.80" x2="479.06" y2="325.80" stroke="#111" stroke-width="1.3"/>
<text x="474.56" y="373.40" font-size="7.4" text-anchor="middle" fill="#161616" >ns</text>
<line x1="470.06" y1="376.90" x2="479.06" y2="376.90" stroke="#111" stroke-width="1.3"/>
<text x="428.08" y="411.60" font-size="7.4" text-anchor="middle" fill="#161616" >ns</text>
<line x1="423.58" y1="415.20" x2="432.58" y2="415.20" stroke="#111" stroke-width="1.3"/>
<line x1="219.20" y1="298.70" x2="219.20" y2="453.00" stroke="#9a9a9a" stroke-width="1.2"/>
<line x1="219.20" y1="453.00" x2="335.00" y2="453.00" stroke="#4a4a4a" stroke-width="1.0"/>
<line x1="216.00" y1="443.30" x2="219.20" y2="443.30" stroke="#4a4a4a" stroke-width="0.9"/>
<text x="215.20" y="446.20" font-size="8" text-anchor="end" fill="#161616" >0.0</text>
<line x1="216.00" y1="395.10" x2="219.20" y2="395.10" stroke="#4a4a4a" stroke-width="0.9"/>
<text x="215.20" y="398.00" font-size="8" text-anchor="end" fill="#161616" >0.5</text>
<line x1="216.00" y1="346.90" x2="219.20" y2="346.90" stroke="#4a4a4a" stroke-width="0.9"/>
<text x="215.20" y="349.80" font-size="8" text-anchor="end" fill="#161616" >1.0</text>
<line x1="216.00" y1="298.70" x2="219.20" y2="298.70" stroke="#4a4a4a" stroke-width="0.9"/>
<text x="215.20" y="301.60" font-size="8" text-anchor="end" fill="#161616" >1.5</text>
<line x1="219.20" y1="453.00" x2="219.20" y2="456.00" stroke="#4a4a4a" stroke-width="0.9"/>
<text x="219.20" y="464.60" font-size="8" text-anchor="middle" fill="#161616" >0</text>
<line x1="242.36" y1="453.00" x2="242.36" y2="456.00" stroke="#4a4a4a" stroke-width="0.9"/>
<text x="242.36" y="464.60" font-size="8" text-anchor="middle" fill="#161616" >2</text>
<line x1="265.52" y1="453.00" x2="265.52" y2="456.00" stroke="#4a4a4a" stroke-width="0.9"/>
<text x="265.52" y="464.60" font-size="8" text-anchor="middle" fill="#161616" >4</text>
<line x1="288.68" y1="453.00" x2="288.68" y2="456.00" stroke="#4a4a4a" stroke-width="0.9"/>
<text x="288.68" y="464.60" font-size="8" text-anchor="middle" fill="#161616" >6</text>
<line x1="311.84" y1="453.00" x2="311.84" y2="456.00" stroke="#4a4a4a" stroke-width="0.9"/>
<text x="311.84" y="464.60" font-size="8" text-anchor="middle" fill="#161616" >8</text>
<line x1="335.00" y1="453.00" x2="335.00" y2="456.00" stroke="#4a4a4a" stroke-width="0.9"/>
<text x="335.00" y="464.60" font-size="8" text-anchor="middle" fill="#161616" >10</text>
<text x="277.10" y="476.80" font-size="9.4" text-anchor="middle" fill="#161616" >Time (h)</text>
<text x="0" y="0" font-size="9.7" text-anchor="middle" fill="#161616" transform="translate(197.00,372.85) rotate(-90)">Cell Density (OD<tspan font-size="7" dy="2.4">600</tspan><tspan dy="-2.4">)</tspan></text>
<text x="234.60" y="259.9" font-size="10.6" fill="#111"><tspan font-style="italic">S. hominis</tspan> AH4553</text>
<line x1="225.60" y1="269.20" x2="244.60" y2="269.20" stroke="#8c8a38" stroke-width="1.3"/>
<rect x="232.40" y="266.50" width="5.4" height="5.4" fill="#f6ef86" stroke="#8a8836" stroke-width="0.9"/>
<text x="248.60" y="271.80" font-size="7.4" text-anchor="start" fill="#161616" >TSB</text>
<line x1="225.60" y1="279.80" x2="244.60" y2="279.80" stroke="#b3386c" stroke-width="1.3"/>
<circle cx="235.10" cy="279.80" r="2.8" fill="#e2477f" stroke="#a11f50" stroke-width="0.9"/>
<text x="248.60" y="282.40" font-size="7.4" text-anchor="start" fill="#161616" >40% CM</text>
<line x1="225.60" y1="291.10" x2="244.60" y2="291.10" stroke="#4f8fb3" stroke-width="1.3"/>
<path d="M235.10,288.27 L238.00,293.49 L232.20,293.49 Z" fill="#5fbfe8" stroke="#2f78a2" stroke-width="0.9"/>
<text x="248.60" y="293.70" font-size="7.4" text-anchor="start" fill="#161616" >20% CM</text>
<line x1="225.60" y1="301.60" x2="244.60" y2="301.60" stroke="#86a03a" stroke-width="1.3"/>
<path d="M235.10,298.60 L238.10,301.60 L235.10,304.60 L232.10,301.60 Z" fill="#a0c03e" stroke="#67861f" stroke-width="0.9"/>
<text x="248.60" y="304.20" font-size="7.4" text-anchor="start" fill="#161616" >10% CM</text>
<path d="M280.40,265.60 H284.80 V280.70 H280.40" fill="none" stroke="#222" stroke-width="0.9"/>
<path d="M287.45,266.30 L291.95,266.30 M288.57,264.35 L290.82,268.25 M290.82,264.35 L288.57,268.25 " stroke="#111" stroke-width="1.25" fill="none"/>
<path d="M287.45,270.90 L291.95,270.90 M288.57,268.95 L290.82,272.85 M290.82,268.95 L288.57,272.85 " stroke="#111" stroke-width="1.25" fill="none"/>
<path d="M287.45,275.50 L291.95,275.50 M288.57,273.55 L290.82,277.45 M290.82,273.55 L288.57,277.45 " stroke="#111" stroke-width="1.25" fill="none"/>
<path d="M287.45,280.10 L291.95,280.10 M288.57,278.15 L290.82,282.05 M290.82,278.15 L288.57,282.05 " stroke="#111" stroke-width="1.25" fill="none"/>
<path d="M295.70,265.60 H305.50 V291.20 H281.30" fill="none" stroke="#222" stroke-width="0.9"/>
<path d="M307.95,269.30 L312.45,269.30 M309.07,267.35 L311.32,271.25 M311.32,267.35 L309.07,271.25 " stroke="#111" stroke-width="1.25" fill="none"/>
<path d="M307.95,273.90 L312.45,273.90 M309.07,271.95 L311.32,275.85 M311.32,271.95 L309.07,275.85 " stroke="#111" stroke-width="1.25" fill="none"/>
<path d="M307.95,278.50 L312.45,278.50 M309.07,276.55 L311.32,280.45 M311.32,276.55 L309.07,280.45 " stroke="#111" stroke-width="1.25" fill="none"/>
<path d="M307.95,283.10 L312.45,283.10 M309.07,281.15 L311.32,285.05 M311.32,281.15 L309.07,285.05 " stroke="#111" stroke-width="1.25" fill="none"/>
<path d="M315.40,265.60 H322.10 V301.70 H281.30" fill="none" stroke="#222" stroke-width="0.9"/>
<path d="M324.55,276.70 L329.05,276.70 M325.68,274.75 L327.93,278.65 M327.93,274.75 L325.68,278.65 " stroke="#111" stroke-width="1.25" fill="none"/>
<path d="M324.55,281.30 L329.05,281.30 M325.68,279.35 L327.93,283.25 M327.93,279.35 L325.68,283.25 " stroke="#111" stroke-width="1.25" fill="none"/>
<path d="M324.55,285.90 L329.05,285.90 M325.68,283.95 L327.93,287.85 M327.93,283.95 L325.68,287.85 " stroke="#111" stroke-width="1.25" fill="none"/>
<path d="M324.55,290.50 L329.05,290.50 M325.68,288.55 L327.93,292.45 M327.93,288.55 L325.68,292.45 " stroke="#111" stroke-width="1.25" fill="none"/>
<polyline points="219.20,441.80 242.36,440.80 265.52,439.90 288.68,438.30 311.84,437.20" fill="none" stroke="#b3386c" stroke-width="1.3"/>
<polyline points="219.20,441.80 242.36,440.50 265.52,438.50 288.68,436.80 311.84,434.40" fill="none" stroke="#4f8fb3" stroke-width="1.3"/>
<polyline points="219.20,441.80 242.36,439.50 265.52,435.00 288.68,430.20 311.84,423.60" fill="none" stroke="#86a03a" stroke-width="1.3"/>
<polyline points="219.20,441.60 242.36,437.90 265.52,401.60 288.68,341.20 311.84,324.70" fill="none" stroke="#8c8a38" stroke-width="1.3"/>
<circle cx="219.20" cy="441.80" r="2.8" fill="#e2477f" stroke="#a11f50" stroke-width="0.9"/>
<circle cx="242.36" cy="440.80" r="2.8" fill="#e2477f" stroke="#a11f50" stroke-width="0.9"/>
<circle cx="265.52" cy="439.90" r="2.8" fill="#e2477f" stroke="#a11f50" stroke-width="0.9"/>
<circle cx="288.68" cy="438.30" r="2.8" fill="#e2477f" stroke="#a11f50" stroke-width="0.9"/>
<circle cx="311.84" cy="437.20" r="2.8" fill="#e2477f" stroke="#a11f50" stroke-width="0.9"/>
<path d="M219.20,438.44 L222.50,444.38 L215.90,444.38 Z" fill="#5fbfe8" stroke="#2f78a2" stroke-width="0.9"/>
<path d="M242.36,437.14 L245.66,443.08 L239.06,443.08 Z" fill="#5fbfe8" stroke="#2f78a2" stroke-width="0.9"/>
<path d="M265.52,435.14 L268.82,441.08 L262.22,441.08 Z" fill="#5fbfe8" stroke="#2f78a2" stroke-width="0.9"/>
<path d="M288.68,433.44 L291.98,439.38 L285.38,439.38 Z" fill="#5fbfe8" stroke="#2f78a2" stroke-width="0.9"/>
<path d="M311.84,431.04 L315.14,436.98 L308.54,436.98 Z" fill="#5fbfe8" stroke="#2f78a2" stroke-width="0.9"/>
<path d="M219.20,438.60 L222.40,441.80 L219.20,445.00 L216.00,441.80 Z" fill="#a0c03e" stroke="#67861f" stroke-width="0.9"/>
<path d="M242.36,436.30 L245.56,439.50 L242.36,442.70 L239.16,439.50 Z" fill="#a0c03e" stroke="#67861f" stroke-width="0.9"/>
<path d="M265.52,431.80 L268.72,435.00 L265.52,438.20 L262.32,435.00 Z" fill="#a0c03e" stroke="#67861f" stroke-width="0.9"/>
<path d="M288.68,427.00 L291.88,430.20 L288.68,433.40 L285.48,430.20 Z" fill="#a0c03e" stroke="#67861f" stroke-width="0.9"/>
<path d="M311.84,420.40 L315.04,423.60 L311.84,426.80 L308.64,423.60 Z" fill="#a0c03e" stroke="#67861f" stroke-width="0.9"/>
<rect x="216.40" y="438.80" width="5.6" height="5.6" fill="#f6ef86" stroke="#8a8836" stroke-width="0.9"/>
<rect x="239.56" y="435.10" width="5.6" height="5.6" fill="#f6ef86" stroke="#8a8836" stroke-width="0.9"/>
<rect x="262.72" y="398.80" width="5.6" height="5.6" fill="#f6ef86" stroke="#8a8836" stroke-width="0.9"/>
<rect x="285.88" y="338.40" width="5.6" height="5.6" fill="#f6ef86" stroke="#8a8836" stroke-width="0.9"/>
<rect x="309.04" y="321.90" width="5.6" height="5.6" fill="#f6ef86" stroke="#8a8836" stroke-width="0.9"/>
<line x1="565.10" y1="298.70" x2="565.10" y2="452.90" stroke="#9a9a9a" stroke-width="1.2"/>
<line x1="565.10" y1="452.90" x2="681.20" y2="452.90" stroke="#4a4a4a" stroke-width="1.0"/>
<line x1="561.90" y1="443.50" x2="565.10" y2="443.50" stroke="#4a4a4a" stroke-width="0.9"/>
<text x="561.10" y="446.40" font-size="8" text-anchor="end" fill="#161616" >0.0</text>
<line x1="561.90" y1="395.23" x2="565.10" y2="395.23" stroke="#4a4a4a" stroke-width="0.9"/>
<text x="561.10" y="398.13" font-size="8" text-anchor="end" fill="#161616" >0.5</text>
<line x1="561.90" y1="346.97" x2="565.10" y2="346.97" stroke="#4a4a4a" stroke-width="0.9"/>
<text x="561.10" y="349.87" font-size="8" text-anchor="end" fill="#161616" >1.0</text>
<line x1="561.90" y1="298.70" x2="565.10" y2="298.70" stroke="#4a4a4a" stroke-width="0.9"/>
<text x="561.10" y="301.60" font-size="8" text-anchor="end" fill="#161616" >1.5</text>
<line x1="565.10" y1="452.90" x2="565.10" y2="455.90" stroke="#4a4a4a" stroke-width="0.9"/>
<text x="565.10" y="464.50" font-size="8" text-anchor="middle" fill="#161616" >0</text>
<line x1="588.32" y1="452.90" x2="588.32" y2="455.90" stroke="#4a4a4a" stroke-width="0.9"/>
<text x="588.32" y="464.50" font-size="8" text-anchor="middle" fill="#161616" >2</text>
<line x1="611.54" y1="452.90" x2="611.54" y2="455.90" stroke="#4a4a4a" stroke-width="0.9"/>
<text x="611.54" y="464.50" font-size="8" text-anchor="middle" fill="#161616" >4</text>
<line x1="634.76" y1="452.90" x2="634.76" y2="455.90" stroke="#4a4a4a" stroke-width="0.9"/>
<text x="634.76" y="464.50" font-size="8" text-anchor="middle" fill="#161616" >6</text>
<line x1="657.98" y1="452.90" x2="657.98" y2="455.90" stroke="#4a4a4a" stroke-width="0.9"/>
<text x="657.98" y="464.50" font-size="8" text-anchor="middle" fill="#161616" >8</text>
<line x1="681.20" y1="452.90" x2="681.20" y2="455.90" stroke="#4a4a4a" stroke-width="0.9"/>
<text x="681.20" y="464.50" font-size="8" text-anchor="middle" fill="#161616" >10</text>
<text x="623.15" y="476.70" font-size="9.4" text-anchor="middle" fill="#161616" >Time (h)</text>
<text x="0" y="0" font-size="9.7" text-anchor="middle" fill="#161616" transform="translate(541.80,374.60) rotate(-90)">Cell Density (OD<tspan font-size="7" dy="2.4">600</tspan><tspan dy="-2.4">)</tspan></text>
<text x="575.60" y="259.9" font-size="10.6" fill="#111"><tspan font-style="italic">S. hominis</tspan> AH5011</text>
<line x1="569.70" y1="269.60" x2="588.70" y2="269.60" stroke="#8c8a38" stroke-width="1.3"/>
<rect x="576.50" y="266.90" width="5.4" height="5.4" fill="#f6ef86" stroke="#8a8836" stroke-width="0.9"/>
<text x="592.70" y="272.20" font-size="7.4" text-anchor="start" fill="#161616" >TSB</text>
<line x1="569.70" y1="280.40" x2="588.70" y2="280.40" stroke="#b3386c" stroke-width="1.3"/>
<circle cx="579.20" cy="280.40" r="2.8" fill="#e2477f" stroke="#a11f50" stroke-width="0.9"/>
<text x="592.70" y="283.00" font-size="7.4" text-anchor="start" fill="#161616" >40% CM</text>
<line x1="569.70" y1="291.70" x2="588.70" y2="291.70" stroke="#4f8fb3" stroke-width="1.3"/>
<path d="M579.20,288.87 L582.10,294.09 L576.30,294.09 Z" fill="#5fbfe8" stroke="#2f78a2" stroke-width="0.9"/>
<text x="592.70" y="294.30" font-size="7.4" text-anchor="start" fill="#161616" >20% CM</text>
<line x1="569.70" y1="302.00" x2="588.70" y2="302.00" stroke="#86a03a" stroke-width="1.3"/>
<path d="M579.20,299.00 L582.20,302.00 L579.20,305.00 L576.20,302.00 Z" fill="#a0c03e" stroke="#67861f" stroke-width="0.9"/>
<text x="592.70" y="304.60" font-size="7.4" text-anchor="start" fill="#161616" >10% CM</text>
<path d="M626.40,266.90 H630.40 V280.90 H626.40" fill="none" stroke="#222" stroke-width="0.9"/>
<text x="633.80" y="276.40" font-size="6.3" text-anchor="start" fill="#161616" >ns</text>
<path d="M641.00,266.90 H645.80 V291.70 H625.60" fill="none" stroke="#222" stroke-width="0.9"/>
<text x="649.30" y="280.90" font-size="6.3" text-anchor="start" fill="#161616" >ns</text>
<path d="M656.10,266.90 H660.70 V302.00 H625.60" fill="none" stroke="#222" stroke-width="0.9"/>
<text x="663.80" y="287.20" font-size="6.3" text-anchor="start" fill="#161616" >ns</text>
<path d="M634.76,355.50 V416.40 M632.16,355.50 H637.36 M632.16,416.40 H637.36" stroke="#8a8836" stroke-width="0.9" fill="none"/>
<path d="M611.54,408.20 V420.40 M608.94,408.20 H614.14 M608.94,420.40 H614.14" stroke="#a11f50" stroke-width="0.9" fill="none"/>
<path d="M657.98,368.80 V375.10 M655.38,368.80 H660.58 M655.38,375.10 H660.58" stroke="#a11f50" stroke-width="0.9" fill="none"/>
<path d="M611.54,407.40 V414.00 M608.94,407.40 H614.14 M608.94,414.00 H614.14" stroke="#2f78a2" stroke-width="0.9" fill="none"/>
<path d="M634.76,355.50 V362.00 M632.16,355.50 H637.36 M632.16,362.00 H637.36" stroke="#2f78a2" stroke-width="0.9" fill="none"/>
<polyline points="565.10,443.00 588.32,440.70 611.54,424.70 634.76,394.40 657.98,364.30" fill="none" stroke="#8c8a38" stroke-width="1.3"/>
<polyline points="565.10,443.00 588.32,441.00 611.54,411.40 634.76,358.80 657.98,353.80" fill="none" stroke="#4f8fb3" stroke-width="1.3"/>
<polyline points="565.10,443.00 588.32,441.00 611.54,419.00 634.76,365.00 657.98,351.30" fill="none" stroke="#86a03a" stroke-width="1.3"/>
<polyline points="565.10,442.80 588.32,441.00 611.54,414.70 634.76,371.30 657.98,372.10" fill="none" stroke="#b3386c" stroke-width="1.3"/>
<rect x="562.30" y="440.20" width="5.6" height="5.6" fill="#f6ef86" stroke="#8a8836" stroke-width="0.9"/>
<rect x="585.52" y="437.90" width="5.6" height="5.6" fill="#f6ef86" stroke="#8a8836" stroke-width="0.9"/>
<rect x="608.74" y="421.90" width="5.6" height="5.6" fill="#f6ef86" stroke="#8a8836" stroke-width="0.9"/>
<rect x="631.96" y="391.60" width="5.6" height="5.6" fill="#f6ef86" stroke="#8a8836" stroke-width="0.9"/>
<rect x="655.18" y="361.50" width="5.6" height="5.6" fill="#f6ef86" stroke="#8a8836" stroke-width="0.9"/>
<path d="M565.10,439.64 L568.40,445.58 L561.80,445.58 Z" fill="#5fbfe8" stroke="#2f78a2" stroke-width="0.9"/>
<path d="M588.32,437.64 L591.62,443.58 L585.02,443.58 Z" fill="#5fbfe8" stroke="#2f78a2" stroke-width="0.9"/>
<path d="M611.54,408.04 L614.84,413.98 L608.24,413.98 Z" fill="#5fbfe8" stroke="#2f78a2" stroke-width="0.9"/>
<path d="M634.76,355.44 L638.06,361.38 L631.46,361.38 Z" fill="#5fbfe8" stroke="#2f78a2" stroke-width="0.9"/>
<path d="M657.98,350.44 L661.28,356.38 L654.68,356.38 Z" fill="#5fbfe8" stroke="#2f78a2" stroke-width="0.9"/>
<path d="M565.10,439.80 L568.30,443.00 L565.10,446.20 L561.90,443.00 Z" fill="#a0c03e" stroke="#67861f" stroke-width="0.9"/>
<path d="M588.32,437.80 L591.52,441.00 L588.32,444.20 L585.12,441.00 Z" fill="#a0c03e" stroke="#67861f" stroke-width="0.9"/>
<path d="M611.54,415.80 L614.74,419.00 L611.54,422.20 L608.34,419.00 Z" fill="#a0c03e" stroke="#67861f" stroke-width="0.9"/>
<path d="M634.76,361.80 L637.96,365.00 L634.76,368.20 L631.56,365.00 Z" fill="#a0c03e" stroke="#67861f" stroke-width="0.9"/>
<path d="M657.98,348.10 L661.18,351.30 L657.98,354.50 L654.78,351.30 Z" fill="#a0c03e" stroke="#67861f" stroke-width="0.9"/>
<circle cx="565.10" cy="442.80" r="2.8" fill="#e2477f" stroke="#a11f50" stroke-width="0.9"/>
<circle cx="588.32" cy="441.00" r="2.8" fill="#e2477f" stroke="#a11f50" stroke-width="0.9"/>
<circle cx="611.54" cy="414.70" r="2.8" fill="#e2477f" stroke="#a11f50" stroke-width="0.9"/>
<circle cx="634.76" cy="371.30" r="2.8" fill="#e2477f" stroke="#a11f50" stroke-width="0.9"/>
<circle cx="657.98" cy="372.10" r="2.8" fill="#e2477f" stroke="#a11f50" stroke-width="0.9"/>
<line x1="225.30" y1="21.20" x2="225.30" y2="176.33" stroke="#555" stroke-width="1.0"/>
<line x1="225.30" y1="176.33" x2="575.00" y2="176.33" stroke="#333" stroke-width="1.1"/>
<line x1="222.10" y1="176.33" x2="225.30" y2="176.33" stroke="#444" stroke-width="0.9"/>
<text x="221.10" y="179.23" font-size="8" text-anchor="end" fill="#161616" >-0.5</text>
<line x1="223.30" y1="160.81" x2="225.30" y2="160.81" stroke="#444" stroke-width="0.9"/>
<line x1="222.10" y1="145.30" x2="225.30" y2="145.30" stroke="#444" stroke-width="0.9"/>
<text x="221.10" y="148.20" font-size="8" text-anchor="end" fill="#161616" >0.0</text>
<line x1="223.30" y1="129.79" x2="225.30" y2="129.79" stroke="#444" stroke-width="0.9"/>
<line x1="222.10" y1="114.28" x2="225.30" y2="114.28" stroke="#444" stroke-width="0.9"/>
<text x="221.10" y="117.18" font-size="8" text-anchor="end" fill="#161616" >0.5</text>
<line x1="223.30" y1="98.76" x2="225.30" y2="98.76" stroke="#444" stroke-width="0.9"/>
<line x1="222.10" y1="83.25" x2="225.30" y2="83.25" stroke="#444" stroke-width="0.9"/>
<text x="221.10" y="86.15" font-size="8" text-anchor="end" fill="#161616" >1.0</text>
<line x1="223.30" y1="67.74" x2="225.30" y2="67.74" stroke="#444" stroke-width="0.9"/>
<line x1="222.10" y1="52.23" x2="225.30" y2="52.23" stroke="#444" stroke-width="0.9"/>
<text x="221.10" y="55.13" font-size="8" text-anchor="end" fill="#161616" >1.5</text>
<line x1="223.30" y1="36.71" x2="225.30" y2="36.71" stroke="#444" stroke-width="0.9"/>
<line x1="222.10" y1="21.20" x2="225.30" y2="21.20" stroke="#444" stroke-width="0.9"/>
<text x="221.10" y="24.10" font-size="8" text-anchor="end" fill="#161616" >2.0</text>
<text x="0" y="0" font-size="9.8" text-anchor="middle" fill="#161616" transform="translate(201.3,97.60) rotate(-90)">Relative OD<tspan font-size="7" dy="2.2">600</tspan><tspan dy="-2.2"> (40% CM / Untreated)</tspan></text>
<line x1="225.30" y1="145.20" x2="574.00" y2="145.20" stroke="#111" stroke-width="1.0" stroke-dasharray="1.1,1.1"/>
<polygon points="240.50,58.00 240.52,58.29 240.54,58.64 240.56,59.05 240.59,59.51 240.62,60.01 240.66,60.55 240.69,61.11 240.72,61.69 240.76,62.28 240.80,62.87 240.83,63.45 240.87,64.02 240.91,64.57 240.94,65.09 240.97,65.57 241.00,66.00 241.04,66.63 241.08,67.21 241.12,67.75 241.16,68.26 241.20,68.75 241.24,69.22 241.28,69.67 241.32,70.11 241.36,70.55 241.40,71.00 241.45,71.54 241.49,72.05 241.54,72.53 241.58,73.00 241.63,73.47 241.70,73.95 241.79,74.46 241.90,75.00 242.01,75.46 242.13,75.96 242.27,76.46 242.42,76.99 242.58,77.51 242.74,78.04 242.91,78.56 243.08,79.06 243.24,79.54 243.40,80.00 243.60,80.56 243.77,81.03 243.94,81.46 244.13,81.89 244.35,82.39 244.63,83.01 245.00,83.80 245.19,84.18 245.42,84.60 245.69,85.04 245.98,85.51 246.29,86.01 246.61,86.52 246.94,87.04 247.27,87.58 247.60,88.13 247.91,88.69 248.20,89.25 248.47,89.81 248.71,90.36 248.90,90.91 249.06,91.46 249.16,91.99 249.20,92.50 249.18,93.00 249.11,93.51 248.98,94.01 248.81,94.50 248.60,95.00 248.36,95.49 248.10,95.99 247.81,96.48 247.51,96.98 247.21,97.47 246.90,97.97 246.60,98.47 246.31,98.97 246.04,99.47 245.80,99.98 245.58,100.49 245.40,101.00 245.26,101.49 245.12,101.97 245.00,102.46 244.88,102.95 244.77,103.44 244.67,103.93 244.58,104.42 244.49,104.91 244.41,105.41 244.34,105.90 244.26,106.40 244.19,106.91 244.13,107.41 244.06,107.92 243.99,108.44 243.93,108.95 243.87,109.47 243.80,110.00 243.74,110.48 243.68,110.98 243.63,111.49 243.58,112.02 243.53,112.55 243.48,113.08 243.44,113.63 243.39,114.17 243.35,114.71 243.31,115.25 243.27,115.78 243.24,116.31 243.20,116.83 243.17,117.34 243.14,117.83 243.11,118.30 243.08,118.76 243.05,119.20 243.03,119.61 243.00,120.00 242.95,120.71 242.89,121.35 242.84,121.93 242.80,122.46 242.76,122.94 242.73,123.38 242.72,123.80 242.72,124.21 242.75,124.60 242.80,125.00 242.93,125.60 243.10,126.11 243.31,126.56 243.58,127.00 243.91,127.47 244.30,128.00 244.65,128.45 245.06,128.93 245.51,129.43 245.99,129.94 246.49,130.46 246.98,130.98 247.45,131.49 247.90,132.00 248.33,132.49 248.76,132.98 249.19,133.46 249.61,133.94 250.02,134.43 250.41,134.93 250.77,135.45 251.10,136.00 251.35,136.46 251.60,136.94 251.84,137.43 252.07,137.93 252.28,138.44 252.47,138.95 252.63,139.47 252.76,139.98 252.85,140.50 252.90,141.00 252.91,141.50 252.90,142.02 252.86,142.53 252.79,143.05 252.68,143.56 252.54,144.07 252.37,144.57 252.15,145.06 251.90,145.54 251.60,146.00 251.13,146.55 250.56,147.07 249.90,147.57 249.20,148.06 248.48,148.54 247.77,149.02 247.10,149.51 246.50,150.00 245.95,150.50 245.42,151.01 244.91,151.52 244.42,152.03 243.96,152.54 243.53,153.04 243.14,153.52 242.80,154.00 242.47,154.53 242.21,155.07 241.99,155.59 241.82,156.10 241.67,156.59 241.53,157.06 241.40,157.50 241.24,158.01 241.13,158.41 241.05,158.81 240.98,159.30 240.90,160.00 240.86,160.43 240.82,160.93 240.77,161.50 240.73,162.11 240.69,162.74 240.65,163.37 240.61,163.98 240.58,164.55 240.55,165.05 240.52,165.48 240.50,165.80 240.30,165.80 240.28,165.48 240.25,165.05 240.22,164.55 240.19,163.98 240.15,163.37 240.11,162.74 240.07,162.11 240.03,161.50 239.98,160.93 239.94,160.43 239.90,160.00 239.82,159.30 239.75,158.81 239.67,158.41 239.56,158.01 239.40,157.50 239.27,157.06 239.13,156.59 238.98,156.10 238.81,155.59 238.59,155.07 238.33,154.53 238.00,154.00 237.66,153.52 237.27,153.04 236.84,152.54 236.38,152.03 235.89,151.52 235.38,151.01 234.85,150.50 234.30,150.00 233.70,149.51 233.03,149.02 232.32,148.54 231.60,148.06 230.90,147.57 230.24,147.07 229.67,146.55 229.20,146.00 228.90,145.54 228.65,145.06 228.43,144.57 228.26,144.07 228.12,143.56 228.01,143.05 227.94,142.53 227.90,142.02 227.89,141.50 227.90,141.00 227.95,140.50 228.04,139.98 228.17,139.47 228.33,138.95 228.52,138.44 228.73,137.93 228.96,137.43 229.20,136.94 229.45,136.46 229.70,136.00 230.03,135.45 230.39,134.93 230.78,134.43 231.19,133.94 231.61,133.46 232.04,132.98 232.47,132.49 232.90,132.00 233.35,131.49 233.82,130.98 234.31,130.46 234.81,129.94 235.29,129.43 235.74,128.93 236.15,128.45 236.50,128.00 236.89,127.47 237.22,127.00 237.49,126.56 237.70,126.11 237.87,125.60 238.00,125.00 238.05,124.60 238.08,124.21 238.08,123.80 238.07,123.38 238.04,122.94 238.00,122.46 237.96,121.93 237.91,121.35 237.85,120.71 237.80,120.00 237.77,119.61 237.75,119.20 237.72,118.76 237.69,118.30 237.66,117.83 237.63,117.34 237.60,116.83 237.56,116.31 237.53,115.78 237.49,115.25 237.45,114.71 237.41,114.17 237.36,113.63 237.32,113.08 237.27,112.55 237.22,112.02 237.17,111.49 237.12,110.98 237.06,110.48 237.00,110.00 236.93,109.47 236.87,108.95 236.81,108.44 236.74,107.92 236.67,107.41 236.61,106.91 236.54,106.40 236.46,105.90 236.39,105.41 236.31,104.91 236.22,104.42 236.13,103.93 236.03,103.44 235.92,102.95 235.80,102.46 235.68,101.97 235.54,101.49 235.40,101.00 235.22,100.49 235.00,99.98 234.76,99.47 234.49,98.97 234.20,98.47 233.90,97.97 233.59,97.47 233.29,96.98 232.99,96.48 232.70,95.99 232.44,95.49 232.20,95.00 231.99,94.50 231.82,94.01 231.69,93.51 231.62,93.00 231.60,92.50 231.64,91.99 231.74,91.46 231.90,90.91 232.09,90.36 232.33,89.81 232.60,89.25 232.89,88.69 233.20,88.13 233.53,87.58 233.86,87.04 234.19,86.52 234.51,86.01 234.82,85.51 235.11,85.04 235.38,84.60 235.61,84.18 235.80,83.80 236.17,83.01 236.45,82.39 236.67,81.89 236.86,81.46 237.03,81.03 237.20,80.56 237.40,80.00 237.56,79.54 237.72,79.06 237.89,78.56 238.06,78.04 238.22,77.51 238.38,76.99 238.53,76.46 238.67,75.96 238.79,75.46 238.90,75.00 239.01,74.46 239.10,73.95 239.17,73.47 239.22,73.00 239.26,72.53 239.31,72.05 239.35,71.54 239.40,71.00 239.44,70.55 239.48,70.11 239.52,69.67 239.56,69.22 239.60,68.75 239.64,68.26 239.68,67.75 239.72,67.21 239.76,66.63 239.80,66.00 239.83,65.57 239.86,65.09 239.89,64.57 239.93,64.02 239.97,63.45 240.00,62.87 240.04,62.28 240.08,61.69 240.11,61.11 240.14,60.55 240.18,60.01 240.21,59.51 240.24,59.05 240.26,58.64 240.28,58.29 240.30,58.00" fill="#8a98d8" stroke="#151515" stroke-width="0.85"/>
<line x1="231.60" y1="92.30" x2="249.20" y2="92.30" stroke="#111" stroke-width="0.85"/>
<line x1="227.95" y1="140.50" x2="252.85" y2="140.50" stroke="#1a1a1a" stroke-width="0.75" stroke-dasharray="2,1.2"/>
<circle cx="240.40" cy="81.10" r="1.8" fill="#2b3a9f" stroke="#151515" stroke-width="0.7"/>
<circle cx="234.60" cy="89.90" r="1.8" fill="#2b3a9f" stroke="#151515" stroke-width="0.7"/>
<circle cx="243.00" cy="91.20" r="1.8" fill="#2b3a9f" stroke="#151515" stroke-width="0.7"/>
<circle cx="246.00" cy="89.90" r="1.8" fill="#2b3a9f" stroke="#151515" stroke-width="0.7"/>
<circle cx="237.70" cy="93.40" r="1.8" fill="#2b3a9f" stroke="#151515" stroke-width="0.7"/>
<circle cx="240.40" cy="93.00" r="1.8" fill="#2b3a9f" stroke="#151515" stroke-width="0.7"/>
<circle cx="240.40" cy="96.90" r="1.8" fill="#2b3a9f" stroke="#151515" stroke-width="0.7"/>
<circle cx="243.40" cy="96.90" r="1.8" fill="#2b3a9f" stroke="#151515" stroke-width="0.7"/>
<circle cx="237.70" cy="99.60" r="1.8" fill="#2b3a9f" stroke="#151515" stroke-width="0.7"/>
<circle cx="243.20" cy="110.50" r="1.8" fill="#2b3a9f" stroke="#151515" stroke-width="0.7"/>
<circle cx="240.40" cy="114.50" r="1.8" fill="#2b3a9f" stroke="#151515" stroke-width="0.7"/>
<circle cx="240.00" cy="119.70" r="1.8" fill="#2b3a9f" stroke="#151515" stroke-width="0.7"/>
<circle cx="235.10" cy="136.40" r="1.8" fill="#2b3a9f" stroke="#151515" stroke-width="0.7"/>
<circle cx="240.40" cy="138.20" r="1.8" fill="#2b3a9f" stroke="#151515" stroke-width="0.7"/>
<circle cx="232.50" cy="139.90" r="1.8" fill="#2b3a9f" stroke="#151515" stroke-width="0.7"/>
<circle cx="237.70" cy="140.40" r="1.8" fill="#2b3a9f" stroke="#151515" stroke-width="0.7"/>
<circle cx="243.00" cy="140.40" r="1.8" fill="#2b3a9f" stroke="#151515" stroke-width="0.7"/>
<circle cx="229.40" cy="141.20" r="1.8" fill="#2b3a9f" stroke="#151515" stroke-width="0.7"/>
<circle cx="234.60" cy="141.20" r="1.8" fill="#2b3a9f" stroke="#151515" stroke-width="0.7"/>
<circle cx="240.40" cy="141.20" r="1.8" fill="#2b3a9f" stroke="#151515" stroke-width="0.7"/>
<circle cx="245.60" cy="141.20" r="1.8" fill="#2b3a9f" stroke="#151515" stroke-width="0.7"/>
<circle cx="248.20" cy="141.20" r="1.8" fill="#2b3a9f" stroke="#151515" stroke-width="0.7"/>
<circle cx="251.30" cy="142.10" r="1.8" fill="#2b3a9f" stroke="#151515" stroke-width="0.7"/>
<circle cx="240.40" cy="143.00" r="1.8" fill="#2b3a9f" stroke="#151515" stroke-width="0.7"/>
<circle cx="246.00" cy="142.10" r="1.8" fill="#2b3a9f" stroke="#151515" stroke-width="0.7"/>
<circle cx="235.50" cy="142.10" r="1.8" fill="#2b3a9f" stroke="#151515" stroke-width="0.7"/>
<circle cx="230.30" cy="142.10" r="1.8" fill="#2b3a9f" stroke="#151515" stroke-width="0.7"/>
<line x1="240.40" y1="176.33" x2="240.40" y2="179.53" stroke="#222" stroke-width="1.0"/>
<g transform="translate(238.20,187.13) rotate(-45)"><text x="0" y="0" font-size="8.3" text-anchor="end" font-style="italic" fill="#161616">S. aureus</text><text x="0" y="9.6" font-size="8.3" text-anchor="end" fill="#161616">N=23</text></g>
<polygon points="267.40,38.30 267.41,38.57 267.41,38.88 267.42,39.23 267.43,39.61 267.44,40.01 267.45,40.45 267.46,40.91 267.47,41.40 267.48,41.91 267.49,42.44 267.50,42.99 267.52,43.55 267.53,44.13 267.54,44.71 267.55,45.31 267.57,45.91 267.58,46.52 267.60,47.12 267.61,47.73 267.62,48.34 267.64,48.94 267.65,49.53 267.67,50.12 267.68,50.69 267.69,51.25 267.71,51.80 267.72,52.33 267.74,52.84 267.75,53.32 267.76,53.78 267.78,54.22 267.79,54.62 267.80,55.00 267.83,55.80 267.86,56.50 267.89,57.12 267.91,57.68 267.94,58.17 267.97,58.63 268.00,59.04 268.03,59.44 268.06,59.82 268.09,60.21 268.11,60.61 268.14,61.03 268.17,61.49 268.20,62.00 268.23,62.48 268.25,62.97 268.28,63.48 268.30,64.00 268.32,64.53 268.35,65.06 268.38,65.59 268.40,66.12 268.43,66.65 268.45,67.18 268.48,67.69 268.50,68.19 268.53,68.67 268.55,69.14 268.57,69.58 268.60,70.00 268.64,70.62 268.67,71.19 268.69,71.72 268.72,72.22 268.74,72.69 268.78,73.14 268.81,73.59 268.86,74.05 268.92,74.51 269.00,75.00 269.09,75.49 269.20,75.95 269.31,76.41 269.44,76.86 269.57,77.31 269.71,77.78 269.85,78.28 270.00,78.81 270.15,79.38 270.30,80.00 270.40,80.42 270.51,80.86 270.63,81.31 270.76,81.79 270.89,82.28 271.02,82.78 271.16,83.29 271.29,83.81 271.41,84.34 271.54,84.87 271.65,85.40 271.75,85.93 271.84,86.46 271.91,86.98 271.96,87.49 272.00,88.00 272.02,88.51 272.01,89.02 272.00,89.54 271.96,90.07 271.92,90.60 271.87,91.13 271.80,91.66 271.73,92.19 271.65,92.71 271.57,93.22 271.49,93.72 271.41,94.21 271.32,94.69 271.24,95.14 271.17,95.58 271.10,96.00 270.99,96.60 270.87,97.13 270.75,97.59 270.62,98.02 270.49,98.44 270.37,98.86 270.24,99.30 270.12,99.79 270.01,100.35 269.90,101.00 269.84,101.40 269.79,101.81 269.74,102.24 269.68,102.68 269.63,103.13 269.58,103.60 269.53,104.08 269.48,104.58 269.44,105.08 269.39,105.60 269.35,106.12 269.31,106.65 269.27,107.19 269.23,107.74 269.19,108.30 269.16,108.86 269.13,109.43 269.10,110.00 269.08,110.46 269.06,110.95 269.04,111.46 269.02,111.98 269.00,112.52 268.98,113.07 268.96,113.63 268.95,114.20 268.93,114.77 268.92,115.35 268.91,115.92 268.89,116.49 268.89,117.05 268.88,117.60 268.87,118.15 268.87,118.67 268.87,119.18 268.87,119.67 268.87,120.13 268.87,120.57 268.88,120.98 268.89,121.36 268.90,121.70 268.95,122.72 269.01,123.36 269.11,123.77 269.24,124.09 269.43,124.45 269.70,125.00 269.90,125.43 270.13,125.89 270.39,126.38 270.67,126.88 270.97,127.39 271.28,127.92 271.61,128.45 271.94,128.97 272.27,129.49 272.60,130.00 272.94,130.49 273.29,130.96 273.66,131.42 274.03,131.88 274.41,132.34 274.80,132.82 275.18,133.32 275.56,133.84 275.93,134.40 276.30,135.00 276.55,135.43 276.82,135.90 277.11,136.39 277.40,136.90 277.70,137.43 278.00,137.96 278.30,138.51 278.58,139.05 278.84,139.60 279.09,140.13 279.30,140.65 279.49,141.15 279.64,141.63 279.74,142.08 279.80,142.50 279.80,143.13 279.68,143.71 279.48,144.24 279.20,144.73 278.86,145.20 278.49,145.65 278.09,146.09 277.69,146.54 277.30,147.00 276.84,147.52 276.33,148.04 275.78,148.54 275.21,149.03 274.63,149.52 274.06,150.01 273.51,150.50 273.00,151.00 272.51,151.50 272.01,152.02 271.53,152.53 271.06,153.04 270.61,153.55 270.19,154.05 269.82,154.53 269.50,155.00 269.16,155.60 268.90,156.17 268.71,156.73 268.56,157.27 268.43,157.79 268.30,158.30 268.15,158.82 268.04,159.24 267.96,159.68 267.88,160.23 267.80,161.00 267.76,161.39 267.73,161.86 267.69,162.37 267.66,162.93 267.62,163.52 267.59,164.12 267.55,164.72 267.52,165.30 267.49,165.85 267.46,166.37 267.44,166.82 267.42,167.20 267.40,167.50 267.20,167.50 267.18,167.20 267.16,166.82 267.14,166.37 267.11,165.85 267.08,165.30 267.05,164.72 267.01,164.12 266.98,163.52 266.94,162.93 266.91,162.37 266.87,161.86 266.84,161.39 266.80,161.00 266.72,160.23 266.64,159.68 266.56,159.24 266.45,158.82 266.30,158.30 266.17,157.79 266.04,157.27 265.89,156.73 265.70,156.17 265.44,155.60 265.10,155.00 264.78,154.53 264.41,154.05 263.99,153.55 263.54,153.04 263.07,152.53 262.59,152.02 262.09,151.50 261.60,151.00 261.09,150.50 260.54,150.01 259.97,149.52 259.39,149.03 258.82,148.54 258.27,148.04 257.76,147.52 257.30,147.00 256.91,146.54 256.51,146.09 256.11,145.65 255.74,145.20 255.40,144.73 255.12,144.24 254.92,143.71 254.80,143.13 254.80,142.50 254.86,142.08 254.96,141.63 255.11,141.15 255.30,140.65 255.51,140.13 255.76,139.60 256.02,139.05 256.30,138.51 256.60,137.96 256.90,137.43 257.20,136.90 257.49,136.39 257.78,135.90 258.05,135.43 258.30,135.00 258.67,134.40 259.04,133.84 259.42,133.32 259.80,132.82 260.19,132.34 260.57,131.88 260.94,131.42 261.31,130.96 261.66,130.49 262.00,130.00 262.33,129.49 262.66,128.97 262.99,128.45 263.32,127.92 263.63,127.39 263.93,126.88 264.21,126.38 264.47,125.89 264.70,125.43 264.90,125.00 265.17,124.45 265.36,124.09 265.49,123.77 265.59,123.36 265.65,122.72 265.70,121.70 265.71,121.36 265.72,120.98 265.73,120.57 265.73,120.13 265.73,119.67 265.73,119.18 265.73,118.67 265.73,118.15 265.72,117.60 265.71,117.05 265.71,116.49 265.69,115.92 265.68,115.35 265.67,114.77 265.65,114.20 265.64,113.63 265.62,113.07 265.60,112.52 265.58,111.98 265.56,111.46 265.54,110.95 265.52,110.46 265.50,110.00 265.47,109.43 265.44,108.86 265.41,108.30 265.37,107.74 265.33,107.19 265.29,106.65 265.25,106.12 265.21,105.60 265.16,105.08 265.12,104.58 265.07,104.08 265.02,103.60 264.97,103.13 264.92,102.68 264.86,102.24 264.81,101.81 264.76,101.40 264.70,101.00 264.59,100.35 264.48,99.79 264.36,99.30 264.23,98.86 264.11,98.44 263.98,98.02 263.85,97.59 263.73,97.13 263.61,96.60 263.50,96.00 263.43,95.58 263.36,95.14 263.28,94.69 263.19,94.21 263.11,93.72 263.03,93.22 262.95,92.71 262.87,92.19 262.80,91.66 262.73,91.13 262.68,90.60 262.64,90.07 262.60,89.54 262.59,89.02 262.58,88.51 262.60,88.00 262.64,87.49 262.69,86.98 262.76,86.46 262.85,85.93 262.95,85.40 263.06,84.87 263.19,84.34 263.31,83.81 263.44,83.29 263.58,82.78 263.71,82.28 263.84,81.79 263.97,81.31 264.09,80.86 264.20,80.42 264.30,80.00 264.45,79.38 264.60,78.81 264.75,78.28 264.89,77.78 265.03,77.31 265.16,76.86 265.29,76.41 265.40,75.95 265.51,75.49 265.60,75.00 265.68,74.51 265.74,74.05 265.79,73.59 265.82,73.14 265.86,72.69 265.88,72.22 265.91,71.72 265.93,71.19 265.96,70.62 266.00,70.00 266.03,69.58 266.05,69.14 266.07,68.67 266.10,68.19 266.12,67.69 266.15,67.18 266.18,66.65 266.20,66.12 266.23,65.59 266.25,65.06 266.28,64.53 266.30,64.00 266.32,63.48 266.35,62.97 266.38,62.48 266.40,62.00 266.43,61.49 266.46,61.03 266.49,60.61 266.51,60.21 266.54,59.82 266.57,59.44 266.60,59.04 266.63,58.63 266.66,58.17 266.69,57.68 266.71,57.12 266.74,56.50 266.77,55.80 266.80,55.00 266.81,54.62 266.82,54.22 266.84,53.78 266.85,53.32 266.86,52.84 266.88,52.33 266.89,51.80 266.91,51.25 266.92,50.69 266.93,50.12 266.95,49.53 266.96,48.94 266.98,48.34 266.99,47.73 267.00,47.12 267.02,46.52 267.03,45.91 267.05,45.31 267.06,44.71 267.07,44.13 267.08,43.55 267.10,42.99 267.11,42.44 267.12,41.91 267.13,41.40 267.14,40.91 267.15,40.45 267.16,40.01 267.17,39.61 267.18,39.23 267.19,38.88 267.19,38.57 267.20,38.30" fill="#b891d0" stroke="#151515" stroke-width="0.85"/>
<line x1="262.64" y1="90.00" x2="271.96" y2="90.00" stroke="#1a1a1a" stroke-width="0.75" stroke-dasharray="2,1.2"/>
<line x1="254.80" y1="142.50" x2="279.80" y2="142.50" stroke="#111" stroke-width="0.85"/>
<circle cx="267.30" cy="61.30" r="1.8" fill="#7a31a6" stroke="#151515" stroke-width="0.7"/>
<circle cx="267.30" cy="68.20" r="1.8" fill="#7a31a6" stroke="#151515" stroke-width="0.7"/>
<circle cx="265.50" cy="79.00" r="1.8" fill="#7a31a6" stroke="#151515" stroke-width="0.7"/>
<circle cx="269.00" cy="81.00" r="1.8" fill="#7a31a6" stroke="#151515" stroke-width="0.7"/>
<circle cx="266.00" cy="83.50" r="1.8" fill="#7a31a6" stroke="#151515" stroke-width="0.7"/>
<circle cx="268.50" cy="86.00" r="1.8" fill="#7a31a6" stroke="#151515" stroke-width="0.7"/>
<circle cx="265.50" cy="88.00" r="1.8" fill="#7a31a6" stroke="#151515" stroke-width="0.7"/>
<circle cx="269.00" cy="90.00" r="1.8" fill="#7a31a6" stroke="#151515" stroke-width="0.7"/>
<circle cx="266.50" cy="92.00" r="1.8" fill="#7a31a6" stroke="#151515" stroke-width="0.7"/>
<circle cx="268.50" cy="94.00" r="1.8" fill="#7a31a6" stroke="#151515" stroke-width="0.7"/>
<circle cx="266.00" cy="96.00" r="1.8" fill="#7a31a6" stroke="#151515" stroke-width="0.7"/>
<circle cx="268.00" cy="98.00" r="1.8" fill="#7a31a6" stroke="#151515" stroke-width="0.7"/>
<circle cx="267.30" cy="106.00" r="1.8" fill="#7a31a6" stroke="#151515" stroke-width="0.7"/>
<circle cx="267.30" cy="110.50" r="1.8" fill="#7a31a6" stroke="#151515" stroke-width="0.7"/>
<circle cx="267.30" cy="113.60" r="1.8" fill="#7a31a6" stroke="#151515" stroke-width="0.7"/>
<circle cx="267.30" cy="124.50" r="1.8" fill="#7a31a6" stroke="#151515" stroke-width="0.7"/>
<circle cx="266.50" cy="141.50" r="1.8" fill="#7a31a6" stroke="#151515" stroke-width="0.7"/>
<circle cx="259.30" cy="144.60" r="1.8" fill="#7a31a6" stroke="#151515" stroke-width="0.7"/>
<circle cx="256.40" cy="142.30" r="1.8" fill="#7a31a6" stroke="#151515" stroke-width="0.7"/>
<circle cx="268.50" cy="143.00" r="1.8" fill="#7a31a6" stroke="#151515" stroke-width="0.7"/>
<circle cx="257.20" cy="141.50" r="1.8" fill="#7a31a6" stroke="#151515" stroke-width="0.7"/>
<circle cx="271.80" cy="142.00" r="1.8" fill="#7a31a6" stroke="#151515" stroke-width="0.7"/>
<circle cx="272.30" cy="140.10" r="1.8" fill="#7a31a6" stroke="#151515" stroke-width="0.7"/>
<circle cx="261.50" cy="139.80" r="1.8" fill="#7a31a6" stroke="#151515" stroke-width="0.7"/>
<circle cx="267.40" cy="145.00" r="1.8" fill="#7a31a6" stroke="#151515" stroke-width="0.7"/>
<circle cx="269.30" cy="144.10" r="1.8" fill="#7a31a6" stroke="#151515" stroke-width="0.7"/>
<circle cx="264.70" cy="143.90" r="1.8" fill="#7a31a6" stroke="#151515" stroke-width="0.7"/>
<circle cx="258.50" cy="141.00" r="1.8" fill="#7a31a6" stroke="#151515" stroke-width="0.7"/>
<circle cx="271.10" cy="143.70" r="1.8" fill="#7a31a6" stroke="#151515" stroke-width="0.7"/>
<circle cx="265.60" cy="139.70" r="1.8" fill="#7a31a6" stroke="#151515" stroke-width="0.7"/>
<circle cx="262.20" cy="140.40" r="1.8" fill="#7a31a6" stroke="#151515" stroke-width="0.7"/>
<circle cx="262.50" cy="144.30" r="1.8" fill="#7a31a6" stroke="#151515" stroke-width="0.7"/>
<circle cx="260.70" cy="144.80" r="1.8" fill="#7a31a6" stroke="#151515" stroke-width="0.7"/>
<circle cx="264.60" cy="142.20" r="1.8" fill="#7a31a6" stroke="#151515" stroke-width="0.7"/>
<circle cx="256.80" cy="141.80" r="1.8" fill="#7a31a6" stroke="#151515" stroke-width="0.7"/>
<circle cx="269.40" cy="139.90" r="1.8" fill="#7a31a6" stroke="#151515" stroke-width="0.7"/>
<circle cx="276.50" cy="142.50" r="1.8" fill="#7a31a6" stroke="#151515" stroke-width="0.7"/>
<circle cx="279.00" cy="141.80" r="1.8" fill="#7a31a6" stroke="#151515" stroke-width="0.7"/>
<circle cx="273.00" cy="144.00" r="1.8" fill="#7a31a6" stroke="#151515" stroke-width="0.7"/>
<circle cx="270.50" cy="140.00" r="1.8" fill="#7a31a6" stroke="#151515" stroke-width="0.7"/>
<line x1="267.15" y1="176.33" x2="267.15" y2="179.53" stroke="#222" stroke-width="1.0"/>
<g transform="translate(264.95,187.13) rotate(-45)"><text x="0" y="0" font-size="8.3" text-anchor="end" font-style="italic" fill="#161616">S. hominis</text><text x="0" y="9.6" font-size="8.3" text-anchor="end" fill="#161616">N=47</text></g>
<polygon points="293.90,55.80 293.92,56.08 293.93,56.42 293.96,56.81 293.98,57.25 294.01,57.72 294.03,58.23 294.06,58.77 294.09,59.32 294.12,59.90 294.16,60.49 294.19,61.08 294.22,61.68 294.25,62.28 294.29,62.86 294.32,63.43 294.35,63.98 294.37,64.51 294.40,65.00 294.43,65.54 294.45,66.10 294.48,66.66 294.50,67.23 294.53,67.79 294.55,68.35 294.58,68.91 294.60,69.45 294.62,69.98 294.65,70.49 294.67,70.98 294.70,71.45 294.72,71.89 294.75,72.30 294.77,72.67 294.80,73.00 294.88,73.85 294.94,74.19 295.05,74.43 295.30,75.00 295.44,75.38 295.59,75.81 295.76,76.28 295.94,76.78 296.14,77.31 296.37,77.86 296.61,78.41 296.88,78.95 297.18,79.49 297.50,80.00 297.86,80.50 298.27,81.00 298.71,81.51 299.18,82.01 299.66,82.52 300.16,83.02 300.66,83.52 301.15,84.02 301.64,84.51 302.10,85.00 302.64,85.53 303.23,86.05 303.84,86.57 304.46,87.08 305.04,87.59 305.57,88.10 306.00,88.62 306.32,89.15 306.50,89.70 306.53,90.21 306.45,90.73 306.29,91.26 306.05,91.79 305.75,92.33 305.40,92.87 305.02,93.41 304.61,93.95 304.20,94.48 303.80,95.00 303.37,95.52 302.88,96.05 302.35,96.59 301.78,97.12 301.21,97.64 300.63,98.16 300.06,98.66 299.53,99.13 299.03,99.58 298.60,100.00 297.97,100.62 297.42,101.15 296.94,101.62 296.51,102.07 296.13,102.52 295.80,103.00 295.52,103.47 295.30,103.90 295.14,104.33 295.01,104.80 294.90,105.34 294.80,106.00 294.75,106.39 294.71,106.77 294.68,107.15 294.66,107.55 294.64,107.98 294.63,108.44 294.62,108.95 294.61,109.52 294.61,110.16 294.60,110.89 294.60,111.70 294.60,112.08 294.60,112.50 294.60,112.94 294.59,113.41 294.59,113.90 294.59,114.42 294.59,114.95 294.59,115.50 294.59,116.07 294.59,116.64 294.60,117.22 294.60,117.81 294.60,118.39 294.60,118.98 294.61,119.57 294.61,120.14 294.62,120.71 294.62,121.27 294.63,121.81 294.64,122.34 294.64,122.85 294.65,123.33 294.66,123.80 294.68,124.23 294.69,124.63 294.70,125.00 294.73,125.84 294.74,126.53 294.76,127.11 294.77,127.60 294.80,128.02 294.84,128.40 294.91,128.76 295.00,129.13 295.13,129.54 295.30,130.00 295.53,130.50 295.81,130.99 296.13,131.48 296.49,131.98 296.86,132.47 297.24,132.96 297.62,133.46 297.98,133.97 298.31,134.48 298.60,135.00 298.85,135.48 299.10,135.98 299.36,136.49 299.60,137.01 299.84,137.52 300.05,138.04 300.24,138.55 300.40,139.06 300.52,139.55 300.58,140.04 300.60,140.50 300.53,141.05 300.36,141.59 300.13,142.12 299.83,142.63 299.51,143.14 299.17,143.63 298.85,144.10 298.55,144.56 298.30,145.00 298.00,145.61 297.73,146.17 297.48,146.70 297.23,147.21 296.98,147.74 296.70,148.30 296.43,148.81 296.14,149.35 295.83,149.89 295.53,150.44 295.25,150.98 295.00,151.50 294.80,152.00 294.63,152.51 294.53,152.95 294.46,153.37 294.41,153.82 294.36,154.35 294.30,155.00 294.26,155.44 294.22,155.96 294.17,156.54 294.13,157.15 294.09,157.77 294.05,158.40 294.01,159.00 293.98,159.56 293.95,160.06 293.92,160.48 293.90,160.80 293.70,160.80 293.68,160.48 293.65,160.06 293.62,159.56 293.59,159.00 293.55,158.40 293.51,157.77 293.47,157.15 293.43,156.54 293.38,155.96 293.34,155.44 293.30,155.00 293.24,154.35 293.19,153.82 293.14,153.37 293.07,152.95 292.97,152.51 292.80,152.00 292.60,151.50 292.35,150.98 292.07,150.44 291.77,149.89 291.46,149.35 291.17,148.81 290.90,148.30 290.62,147.74 290.37,147.21 290.12,146.70 289.87,146.17 289.60,145.61 289.30,145.00 289.05,144.56 288.75,144.10 288.43,143.63 288.09,143.14 287.77,142.63 287.47,142.12 287.24,141.59 287.07,141.05 287.00,140.50 287.02,140.04 287.08,139.55 287.20,139.06 287.36,138.55 287.55,138.04 287.76,137.52 288.00,137.01 288.24,136.49 288.50,135.98 288.75,135.48 289.00,135.00 289.29,134.48 289.62,133.97 289.98,133.46 290.36,132.96 290.74,132.47 291.11,131.98 291.47,131.48 291.79,130.99 292.07,130.50 292.30,130.00 292.47,129.54 292.60,129.13 292.69,128.76 292.76,128.40 292.80,128.02 292.83,127.60 292.84,127.11 292.86,126.53 292.87,125.84 292.90,125.00 292.91,124.63 292.92,124.23 292.94,123.80 292.95,123.33 292.96,122.85 292.96,122.34 292.97,121.81 292.98,121.27 292.98,120.71 292.99,120.14 292.99,119.57 293.00,118.98 293.00,118.39 293.00,117.81 293.00,117.22 293.01,116.64 293.01,116.07 293.01,115.50 293.01,114.95 293.01,114.42 293.01,113.90 293.01,113.41 293.00,112.94 293.00,112.50 293.00,112.08 293.00,111.70 293.00,110.89 292.99,110.16 292.99,109.52 292.98,108.95 292.97,108.44 292.96,107.98 292.94,107.55 292.92,107.15 292.89,106.77 292.85,106.39 292.80,106.00 292.70,105.34 292.59,104.80 292.46,104.33 292.30,103.90 292.08,103.47 291.80,103.00 291.47,102.52 291.09,102.07 290.66,101.62 290.18,101.15 289.63,100.62 289.00,100.00 288.57,99.58 288.07,99.13 287.54,98.66 286.97,98.16 286.39,97.64 285.82,97.12 285.25,96.59 284.72,96.05 284.23,95.52 283.80,95.00 283.40,94.48 282.99,93.95 282.58,93.41 282.20,92.87 281.85,92.33 281.55,91.79 281.31,91.26 281.15,90.73 281.07,90.21 281.10,89.70 281.28,89.15 281.60,88.62 282.03,88.10 282.56,87.59 283.14,87.08 283.76,86.57 284.37,86.05 284.96,85.53 285.50,85.00 285.96,84.51 286.45,84.02 286.94,83.52 287.44,83.02 287.94,82.52 288.42,82.01 288.89,81.51 289.33,81.00 289.74,80.50 290.10,80.00 290.42,79.49 290.72,78.95 290.99,78.41 291.23,77.86 291.46,77.31 291.66,76.78 291.84,76.28 292.01,75.81 292.16,75.38 292.30,75.00 292.55,74.43 292.66,74.19 292.72,73.85 292.80,73.00 292.83,72.67 292.85,72.30 292.88,71.89 292.90,71.45 292.93,70.98 292.95,70.49 292.98,69.98 293.00,69.45 293.02,68.91 293.05,68.35 293.07,67.79 293.10,67.23 293.12,66.66 293.15,66.10 293.17,65.54 293.20,65.00 293.23,64.51 293.25,63.98 293.28,63.43 293.31,62.86 293.35,62.28 293.38,61.68 293.41,61.08 293.44,60.49 293.48,59.90 293.51,59.32 293.54,58.77 293.57,58.23 293.59,57.72 293.62,57.25 293.64,56.81 293.67,56.42 293.68,56.08 293.70,55.80" fill="#e5a2d8" stroke="#151515" stroke-width="0.85"/>
<line x1="281.28" y1="89.00" x2="306.32" y2="89.00" stroke="#111" stroke-width="0.85"/>
<circle cx="293.80" cy="74.50" r="1.8" fill="#c7409f" stroke="#151515" stroke-width="0.7"/>
<circle cx="291.60" cy="83.80" r="1.8" fill="#c7409f" stroke="#151515" stroke-width="0.7"/>
<circle cx="294.60" cy="85.90" r="1.8" fill="#c7409f" stroke="#151515" stroke-width="0.7"/>
<circle cx="289.80" cy="91.90" r="1.8" fill="#c7409f" stroke="#151515" stroke-width="0.7"/>
<circle cx="296.00" cy="92.60" r="1.8" fill="#c7409f" stroke="#151515" stroke-width="0.7"/>
<circle cx="293.90" cy="84.20" r="1.8" fill="#c7409f" stroke="#151515" stroke-width="0.7"/>
<circle cx="293.20" cy="82.70" r="1.8" fill="#c7409f" stroke="#151515" stroke-width="0.7"/>
<circle cx="294.80" cy="86.30" r="1.8" fill="#c7409f" stroke="#151515" stroke-width="0.7"/>
<circle cx="302.40" cy="90.90" r="1.8" fill="#c7409f" stroke="#151515" stroke-width="0.7"/>
<circle cx="294.00" cy="88.20" r="1.8" fill="#c7409f" stroke="#151515" stroke-width="0.7"/>
<circle cx="295.90" cy="88.50" r="1.8" fill="#c7409f" stroke="#151515" stroke-width="0.7"/>
<circle cx="286.70" cy="86.40" r="1.8" fill="#c7409f" stroke="#151515" stroke-width="0.7"/>
<circle cx="289.20" cy="90.30" r="1.8" fill="#c7409f" stroke="#151515" stroke-width="0.7"/>
<circle cx="293.20" cy="87.00" r="1.8" fill="#c7409f" stroke="#151515" stroke-width="0.7"/>
<circle cx="292.00" cy="84.60" r="1.8" fill="#c7409f" stroke="#151515" stroke-width="0.7"/>
<circle cx="296.60" cy="85.90" r="1.8" fill="#c7409f" stroke="#151515" stroke-width="0.7"/>
<circle cx="290.80" cy="93.90" r="1.8" fill="#c7409f" stroke="#151515" stroke-width="0.7"/>
<circle cx="290.00" cy="90.70" r="1.8" fill="#c7409f" stroke="#151515" stroke-width="0.7"/>
<circle cx="299.40" cy="91.70" r="1.8" fill="#c7409f" stroke="#151515" stroke-width="0.7"/>
<circle cx="288.30" cy="86.80" r="1.8" fill="#c7409f" stroke="#151515" stroke-width="0.7"/>
<circle cx="287.00" cy="89.00" r="1.8" fill="#c7409f" stroke="#151515" stroke-width="0.7"/>
<circle cx="291.90" cy="97.20" r="1.8" fill="#c7409f" stroke="#151515" stroke-width="0.7"/>
<circle cx="296.30" cy="95.10" r="1.8" fill="#c7409f" stroke="#151515" stroke-width="0.7"/>
<circle cx="289.50" cy="84.50" r="1.8" fill="#c7409f" stroke="#151515" stroke-width="0.7"/>
<circle cx="292.60" cy="83.50" r="1.8" fill="#c7409f" stroke="#151515" stroke-width="0.7"/>
<circle cx="299.80" cy="87.40" r="1.8" fill="#c7409f" stroke="#151515" stroke-width="0.7"/>
<circle cx="297.50" cy="83.70" r="1.8" fill="#c7409f" stroke="#151515" stroke-width="0.7"/>
<circle cx="293.80" cy="100.50" r="1.8" fill="#c7409f" stroke="#151515" stroke-width="0.7"/>
<circle cx="293.80" cy="106.00" r="1.8" fill="#c7409f" stroke="#151515" stroke-width="0.7"/>
<circle cx="293.80" cy="111.00" r="1.8" fill="#c7409f" stroke="#151515" stroke-width="0.7"/>
<circle cx="293.80" cy="121.00" r="1.8" fill="#c7409f" stroke="#151515" stroke-width="0.7"/>
<circle cx="288.00" cy="138.00" r="1.8" fill="#c7409f" stroke="#151515" stroke-width="0.7"/>
<circle cx="292.00" cy="136.50" r="1.8" fill="#c7409f" stroke="#151515" stroke-width="0.7"/>
<circle cx="296.00" cy="137.50" r="1.8" fill="#c7409f" stroke="#151515" stroke-width="0.7"/>
<circle cx="299.00" cy="139.50" r="1.8" fill="#c7409f" stroke="#151515" stroke-width="0.7"/>
<circle cx="290.00" cy="141.00" r="1.8" fill="#c7409f" stroke="#151515" stroke-width="0.7"/>
<circle cx="294.00" cy="140.50" r="1.8" fill="#c7409f" stroke="#151515" stroke-width="0.7"/>
<circle cx="298.00" cy="142.00" r="1.8" fill="#c7409f" stroke="#151515" stroke-width="0.7"/>
<circle cx="294.00" cy="144.00" r="1.8" fill="#c7409f" stroke="#151515" stroke-width="0.7"/>
<line x1="293.90" y1="176.33" x2="293.90" y2="179.53" stroke="#222" stroke-width="1.0"/>
<g transform="translate(291.70,187.13) rotate(-45)"><text x="0" y="0" font-size="8.3" text-anchor="end" font-style="italic" fill="#161616">S. epidermidis</text><text x="0" y="9.6" font-size="8.3" text-anchor="end" fill="#161616">N=50</text></g>
<polygon points="320.60,35.00 320.61,35.28 320.63,35.62 320.65,36.01 320.67,36.44 320.69,36.91 320.72,37.42 320.74,37.96 320.77,38.52 320.80,39.10 320.82,39.69 320.85,40.28 320.88,40.88 320.91,41.47 320.94,42.05 320.97,42.62 321.00,43.16 321.03,43.68 321.05,44.16 321.08,44.60 321.10,45.00 321.14,45.69 321.17,46.27 321.20,46.77 321.23,47.22 321.26,47.62 321.29,48.02 321.32,48.44 321.37,48.89 321.43,49.40 321.50,50.00 321.55,50.42 321.62,50.86 321.68,51.33 321.76,51.81 321.84,52.31 321.92,52.82 322.00,53.35 322.09,53.88 322.17,54.41 322.26,54.94 322.34,55.47 322.42,56.00 322.50,56.52 322.57,57.03 322.64,57.52 322.70,58.00 322.76,58.54 322.82,59.07 322.87,59.60 322.91,60.13 322.95,60.66 322.99,61.17 323.03,61.69 323.07,62.19 323.10,62.69 323.14,63.17 323.18,63.65 323.21,64.11 323.26,64.56 323.30,65.00 323.36,65.58 323.41,66.13 323.46,66.65 323.50,67.14 323.55,67.62 323.61,68.10 323.68,68.56 323.76,69.03 323.87,69.51 324.00,70.00 324.16,70.50 324.33,71.00 324.53,71.50 324.74,72.00 324.97,72.50 325.20,73.00 325.45,73.50 325.70,74.00 325.95,74.50 326.20,75.00 326.45,75.50 326.71,76.00 326.98,76.50 327.25,77.00 327.53,77.50 327.82,78.00 328.10,78.50 328.40,79.00 328.70,79.50 329.00,80.00 329.32,80.50 329.67,81.01 330.04,81.52 330.41,82.02 330.79,82.53 331.15,83.04 331.49,83.54 331.80,84.03 332.08,84.52 332.30,85.00 332.50,85.52 332.66,86.01 332.79,86.50 332.89,86.98 332.95,87.46 332.99,87.94 332.99,88.44 332.96,88.96 332.90,89.50 332.82,89.96 332.72,90.45 332.59,90.94 332.43,91.45 332.26,91.96 332.07,92.48 331.86,92.99 331.65,93.51 331.43,94.02 331.22,94.52 331.00,95.00 330.76,95.52 330.51,96.03 330.25,96.54 329.98,97.04 329.70,97.53 329.41,98.02 329.12,98.52 328.82,99.01 328.51,99.50 328.20,100.00 327.87,100.50 327.53,101.00 327.17,101.50 326.80,102.00 326.43,102.50 326.05,103.00 325.69,103.50 325.34,104.00 325.01,104.50 324.70,105.00 324.41,105.51 324.13,106.03 323.85,106.55 323.59,107.08 323.34,107.61 323.10,108.12 322.88,108.62 322.67,109.11 322.47,109.57 322.30,110.00 322.05,110.59 321.86,111.04 321.70,111.44 321.58,111.89 321.48,112.47 321.40,113.30 321.37,113.69 321.34,114.13 321.31,114.60 321.28,115.11 321.26,115.65 321.23,116.21 321.21,116.79 321.20,117.37 321.19,117.97 321.19,118.55 321.20,119.13 321.22,119.70 321.24,120.24 321.28,120.76 321.34,121.25 321.40,121.70 321.54,122.35 321.71,122.93 321.92,123.46 322.15,123.95 322.40,124.43 322.66,124.89 322.93,125.37 323.20,125.87 323.46,126.41 323.70,127.00 323.88,127.45 324.08,127.92 324.30,128.41 324.52,128.90 324.75,129.41 324.98,129.92 325.21,130.44 325.42,130.97 325.61,131.51 325.78,132.04 325.91,132.58 326.02,133.12 326.08,133.66 326.10,134.20 326.07,134.70 326.00,135.21 325.89,135.72 325.75,136.23 325.58,136.75 325.39,137.27 325.18,137.79 324.96,138.31 324.74,138.84 324.51,139.36 324.28,139.89 324.06,140.42 323.86,140.95 323.67,141.47 323.50,142.00 323.36,142.50 323.21,143.01 323.07,143.53 322.92,144.06 322.78,144.59 322.64,145.12 322.50,145.65 322.37,146.18 322.24,146.70 322.11,147.21 321.99,147.71 321.88,148.21 321.77,148.68 321.67,149.14 321.58,149.58 321.50,150.00 321.39,150.60 321.30,151.11 321.24,151.56 321.19,151.98 321.15,152.38 321.12,152.78 321.10,153.23 321.07,153.73 321.04,154.31 321.00,155.00 320.98,155.40 320.95,155.84 320.93,156.32 320.91,156.84 320.88,157.38 320.86,157.95 320.84,158.53 320.81,159.12 320.79,159.72 320.77,160.31 320.75,160.90 320.73,161.48 320.71,162.04 320.69,162.58 320.67,163.09 320.65,163.56 320.64,163.99 320.62,164.38 320.61,164.72 320.60,165.00 320.40,165.00 320.39,164.72 320.38,164.38 320.36,163.99 320.35,163.56 320.33,163.09 320.31,162.58 320.29,162.04 320.27,161.48 320.25,160.90 320.23,160.31 320.21,159.72 320.19,159.12 320.16,158.53 320.14,157.95 320.12,157.38 320.09,156.84 320.07,156.32 320.05,155.84 320.02,155.40 320.00,155.00 319.96,154.31 319.93,153.73 319.90,153.23 319.88,152.78 319.85,152.38 319.81,151.98 319.76,151.56 319.70,151.11 319.61,150.60 319.50,150.00 319.42,149.58 319.33,149.14 319.23,148.68 319.12,148.21 319.01,147.71 318.89,147.21 318.76,146.70 318.63,146.18 318.50,145.65 318.36,145.12 318.22,144.59 318.08,144.06 317.93,143.53 317.79,143.01 317.64,142.50 317.50,142.00 317.33,141.47 317.14,140.95 316.94,140.42 316.72,139.89 316.49,139.36 316.26,138.84 316.04,138.31 315.82,137.79 315.61,137.27 315.42,136.75 315.25,136.23 315.11,135.72 315.00,135.21 314.93,134.70 314.90,134.20 314.92,133.66 314.98,133.12 315.09,132.58 315.22,132.04 315.39,131.51 315.58,130.97 315.79,130.44 316.02,129.92 316.25,129.41 316.48,128.90 316.70,128.41 316.92,127.92 317.12,127.45 317.30,127.00 317.54,126.41 317.80,125.87 318.07,125.37 318.34,124.89 318.60,124.43 318.85,123.95 319.08,123.46 319.29,122.93 319.46,122.35 319.60,121.70 319.66,121.25 319.72,120.76 319.76,120.24 319.78,119.70 319.80,119.13 319.81,118.55 319.81,117.97 319.80,117.37 319.79,116.79 319.77,116.21 319.74,115.65 319.72,115.11 319.69,114.60 319.66,114.13 319.63,113.69 319.60,113.30 319.52,112.47 319.42,111.89 319.30,111.44 319.14,111.04 318.95,110.59 318.70,110.00 318.53,109.57 318.33,109.11 318.12,108.62 317.90,108.12 317.66,107.61 317.41,107.08 317.15,106.55 316.87,106.03 316.59,105.51 316.30,105.00 315.99,104.50 315.66,104.00 315.31,103.50 314.95,103.00 314.57,102.50 314.20,102.00 313.83,101.50 313.47,101.00 313.13,100.50 312.80,100.00 312.49,99.50 312.18,99.01 311.88,98.52 311.59,98.02 311.30,97.53 311.02,97.04 310.75,96.54 310.49,96.03 310.24,95.52 310.00,95.00 309.78,94.52 309.57,94.02 309.35,93.51 309.14,92.99 308.93,92.48 308.74,91.96 308.57,91.45 308.41,90.94 308.28,90.45 308.18,89.96 308.10,89.50 308.04,88.96 308.01,88.44 308.01,87.94 308.05,87.46 308.11,86.98 308.21,86.50 308.34,86.01 308.50,85.52 308.70,85.00 308.92,84.52 309.20,84.03 309.51,83.54 309.85,83.04 310.21,82.53 310.59,82.02 310.96,81.52 311.33,81.01 311.68,80.50 312.00,80.00 312.30,79.50 312.60,79.00 312.90,78.50 313.18,78.00 313.47,77.50 313.75,77.00 314.02,76.50 314.29,76.00 314.55,75.50 314.80,75.00 315.05,74.50 315.30,74.00 315.55,73.50 315.80,73.00 316.03,72.50 316.26,72.00 316.47,71.50 316.67,71.00 316.84,70.50 317.00,70.00 317.13,69.51 317.24,69.03 317.32,68.56 317.39,68.10 317.45,67.62 317.50,67.14 317.54,66.65 317.59,66.13 317.64,65.58 317.70,65.00 317.74,64.56 317.79,64.11 317.82,63.65 317.86,63.17 317.90,62.69 317.93,62.19 317.97,61.69 318.01,61.17 318.05,60.66 318.09,60.13 318.13,59.60 318.18,59.07 318.24,58.54 318.30,58.00 318.36,57.52 318.43,57.03 318.50,56.52 318.58,56.00 318.66,55.47 318.74,54.94 318.83,54.41 318.91,53.88 319.00,53.35 319.08,52.82 319.16,52.31 319.24,51.81 319.32,51.33 319.38,50.86 319.45,50.42 319.50,50.00 319.57,49.40 319.63,48.89 319.68,48.44 319.71,48.02 319.74,47.62 319.77,47.22 319.80,46.77 319.83,46.27 319.86,45.69 319.90,45.00 319.92,44.60 319.95,44.16 319.97,43.68 320.00,43.16 320.03,42.62 320.06,42.05 320.09,41.47 320.12,40.88 320.15,40.28 320.18,39.69 320.20,39.10 320.23,38.52 320.26,37.96 320.28,37.42 320.31,36.91 320.33,36.44 320.35,36.01 320.37,35.62 320.39,35.28 320.40,35.00" fill="#f4b3b3" stroke="#151515" stroke-width="0.85"/>
<line x1="308.21" y1="86.30" x2="332.79" y2="86.30" stroke="#1a1a1a" stroke-width="0.75" stroke-dasharray="2,1.2"/>
<line x1="308.10" y1="89.70" x2="332.90" y2="89.70" stroke="#111" stroke-width="0.85"/>
<line x1="319.42" y1="112.00" x2="321.58" y2="112.00" stroke="#1a1a1a" stroke-width="0.75" stroke-dasharray="2,1.2"/>
<circle cx="320.50" cy="64.70" r="1.8" fill="#ef7370" stroke="#151515" stroke-width="0.7"/>
<circle cx="310.00" cy="85.80" r="1.8" fill="#ef7370" stroke="#151515" stroke-width="0.7"/>
<circle cx="310.00" cy="90.00" r="1.8" fill="#ef7370" stroke="#151515" stroke-width="0.7"/>
<circle cx="317.20" cy="88.30" r="1.8" fill="#ef7370" stroke="#151515" stroke-width="0.7"/>
<circle cx="324.70" cy="90.80" r="1.8" fill="#ef7370" stroke="#151515" stroke-width="0.7"/>
<circle cx="331.30" cy="89.70" r="1.8" fill="#ef7370" stroke="#151515" stroke-width="0.7"/>
<circle cx="317.20" cy="135.00" r="1.8" fill="#ef7370" stroke="#151515" stroke-width="0.7"/>
<circle cx="324.20" cy="133.70" r="1.8" fill="#ef7370" stroke="#151515" stroke-width="0.7"/>
<line x1="320.65" y1="176.33" x2="320.65" y2="179.53" stroke="#222" stroke-width="1.0"/>
<g transform="translate(318.45,187.13) rotate(-45)"><text x="0" y="0" font-size="8.3" text-anchor="end" font-style="italic" fill="#161616">S. capitis</text><text x="0" y="9.6" font-size="8.3" text-anchor="end" fill="#161616">N=8</text></g>
<polygon points="347.60,65.00 347.62,65.29 347.65,65.64 347.68,66.05 347.71,66.51 347.75,67.01 347.78,67.55 347.82,68.11 347.87,68.68 347.91,69.26 347.95,69.85 347.99,70.42 348.03,70.98 348.07,71.50 348.10,72.00 348.13,72.54 348.16,73.07 348.18,73.57 348.20,74.07 348.22,74.57 348.24,75.06 348.26,75.56 348.29,76.07 348.32,76.59 348.37,77.14 348.43,77.70 348.50,78.30 348.56,78.77 348.64,79.26 348.72,79.77 348.81,80.29 348.91,80.83 349.01,81.38 349.12,81.93 349.23,82.48 349.33,83.04 349.44,83.59 349.55,84.14 349.65,84.68 349.75,85.21 349.84,85.72 349.92,86.22 350.00,86.70 350.09,87.27 350.18,87.81 350.27,88.34 350.35,88.86 350.43,89.36 350.51,89.86 350.58,90.35 350.64,90.84 350.69,91.32 350.74,91.81 350.77,92.30 350.79,92.79 350.80,93.30 350.79,93.80 350.76,94.28 350.72,94.74 350.66,95.19 350.60,95.64 350.52,96.10 350.44,96.57 350.36,97.05 350.28,97.57 350.20,98.11 350.12,98.69 350.06,99.32 350.00,100.00 349.97,100.41 349.94,100.84 349.91,101.28 349.87,101.74 349.83,102.21 349.80,102.70 349.76,103.20 349.72,103.70 349.69,104.22 349.65,104.75 349.62,105.28 349.59,105.81 349.56,106.35 349.54,106.90 349.51,107.44 349.50,107.99 349.48,108.53 349.47,109.07 349.46,109.61 349.46,110.14 349.47,110.67 349.48,111.19 349.50,111.70 349.52,112.21 349.55,112.72 349.58,113.24 349.62,113.76 349.66,114.29 349.70,114.81 349.74,115.34 349.79,115.87 349.85,116.40 349.91,116.92 349.97,117.45 350.03,117.97 350.10,118.48 350.17,119.00 350.25,119.51 350.33,120.01 350.42,120.50 350.50,120.99 350.60,121.47 350.69,121.95 350.79,122.41 350.89,122.86 351.00,123.30 351.16,123.91 351.33,124.48 351.50,125.03 351.68,125.55 351.87,126.05 352.06,126.54 352.26,127.02 352.48,127.50 352.69,127.98 352.92,128.46 353.16,128.95 353.41,129.45 353.67,129.97 353.93,130.52 354.21,131.09 354.50,131.70 354.72,132.14 354.97,132.60 355.25,133.08 355.54,133.57 355.86,134.07 356.19,134.58 356.53,135.10 356.88,135.62 357.23,136.16 357.58,136.69 357.93,137.23 358.27,137.77 358.60,138.31 358.91,138.84 359.20,139.38 359.47,139.90 359.71,140.42 359.93,140.93 360.10,141.43 360.24,141.92 360.34,142.40 360.40,142.86 360.40,143.30 360.32,143.91 360.13,144.51 359.86,145.09 359.52,145.65 359.11,146.19 358.64,146.72 358.14,147.24 357.60,147.76 357.04,148.26 356.47,148.76 355.91,149.25 355.36,149.74 354.83,150.23 354.34,150.71 353.89,151.21 353.50,151.70 353.12,152.24 352.75,152.78 352.39,153.33 352.04,153.89 351.69,154.44 351.36,154.99 351.04,155.53 350.73,156.06 350.43,156.58 350.15,157.08 349.89,157.56 349.64,158.02 349.41,158.44 349.19,158.84 349.00,159.20 348.57,160.00 348.32,160.49 348.19,160.85 348.11,161.29 348.00,162.00 347.94,162.42 347.89,162.92 347.85,163.48 347.81,164.07 347.77,164.70 347.74,165.32 347.71,165.94 347.68,166.54 347.66,167.09 347.64,167.57 347.62,167.98 347.60,168.30 347.40,168.30 347.38,167.98 347.36,167.57 347.34,167.09 347.32,166.54 347.29,165.94 347.26,165.32 347.23,164.70 347.19,164.07 347.15,163.48 347.11,162.92 347.06,162.42 347.00,162.00 346.89,161.29 346.81,160.85 346.68,160.49 346.43,160.00 346.00,159.20 345.81,158.84 345.59,158.44 345.36,158.02 345.11,157.56 344.85,157.08 344.57,156.58 344.27,156.06 343.96,155.53 343.64,154.99 343.31,154.44 342.96,153.89 342.61,153.33 342.25,152.78 341.88,152.24 341.50,151.70 341.11,151.21 340.66,150.71 340.17,150.23 339.64,149.74 339.09,149.25 338.53,148.76 337.96,148.26 337.40,147.76 336.86,147.24 336.36,146.72 335.89,146.19 335.48,145.65 335.14,145.09 334.87,144.51 334.68,143.91 334.60,143.30 334.60,142.86 334.66,142.40 334.76,141.92 334.90,141.43 335.07,140.93 335.29,140.42 335.53,139.90 335.80,139.38 336.09,138.84 336.40,138.31 336.73,137.77 337.07,137.23 337.42,136.69 337.77,136.16 338.12,135.62 338.47,135.10 338.81,134.58 339.14,134.07 339.46,133.57 339.75,133.08 340.03,132.60 340.28,132.14 340.50,131.70 340.79,131.09 341.07,130.52 341.33,129.97 341.59,129.45 341.84,128.95 342.08,128.46 342.31,127.98 342.52,127.50 342.74,127.02 342.94,126.54 343.13,126.05 343.32,125.55 343.50,125.03 343.67,124.48 343.84,123.91 344.00,123.30 344.11,122.86 344.21,122.41 344.31,121.95 344.40,121.47 344.50,120.99 344.58,120.50 344.67,120.01 344.75,119.51 344.83,119.00 344.90,118.48 344.97,117.97 345.03,117.45 345.09,116.92 345.15,116.40 345.21,115.87 345.26,115.34 345.30,114.81 345.34,114.29 345.38,113.76 345.42,113.24 345.45,112.72 345.48,112.21 345.50,111.70 345.52,111.19 345.53,110.67 345.54,110.14 345.54,109.61 345.53,109.07 345.52,108.53 345.50,107.99 345.49,107.44 345.46,106.90 345.44,106.35 345.41,105.81 345.38,105.28 345.35,104.75 345.31,104.22 345.28,103.70 345.24,103.20 345.20,102.70 345.17,102.21 345.13,101.74 345.09,101.28 345.06,100.84 345.03,100.41 345.00,100.00 344.94,99.32 344.88,98.69 344.80,98.11 344.72,97.57 344.64,97.05 344.56,96.57 344.48,96.10 344.40,95.64 344.34,95.19 344.28,94.74 344.24,94.28 344.21,93.80 344.20,93.30 344.21,92.79 344.23,92.30 344.26,91.81 344.31,91.32 344.36,90.84 344.42,90.35 344.49,89.86 344.57,89.36 344.65,88.86 344.73,88.34 344.82,87.81 344.91,87.27 345.00,86.70 345.08,86.22 345.16,85.72 345.25,85.21 345.35,84.68 345.45,84.14 345.56,83.59 345.67,83.04 345.77,82.48 345.88,81.93 345.99,81.38 346.09,80.83 346.19,80.29 346.28,79.77 346.36,79.26 346.44,78.77 346.50,78.30 346.57,77.70 346.63,77.14 346.68,76.59 346.71,76.07 346.74,75.56 346.76,75.06 346.78,74.57 346.80,74.07 346.82,73.57 346.84,73.07 346.87,72.54 346.90,72.00 346.93,71.50 346.97,70.98 347.01,70.42 347.05,69.85 347.09,69.26 347.13,68.68 347.18,68.11 347.22,67.55 347.25,67.01 347.29,66.51 347.32,66.05 347.35,65.64 347.38,65.29 347.40,65.00" fill="#fad09a" stroke="#151515" stroke-width="0.85"/>
<line x1="344.21" y1="93.00" x2="350.79" y2="93.00" stroke="#1a1a1a" stroke-width="0.75" stroke-dasharray="2,1.2"/>
<line x1="340.79" y1="131.00" x2="354.21" y2="131.00" stroke="#1a1a1a" stroke-width="0.75" stroke-dasharray="2,1.2"/>
<line x1="334.60" y1="143.50" x2="360.40" y2="143.50" stroke="#111" stroke-width="0.85"/>
<circle cx="347.50" cy="89.70" r="1.8" fill="#f4a637" stroke="#151515" stroke-width="0.7"/>
<circle cx="347.50" cy="97.50" r="1.8" fill="#f4a637" stroke="#151515" stroke-width="0.7"/>
<circle cx="347.50" cy="122.50" r="1.8" fill="#f4a637" stroke="#151515" stroke-width="0.7"/>
<circle cx="347.50" cy="130.80" r="1.8" fill="#f4a637" stroke="#151515" stroke-width="0.7"/>
<circle cx="336.70" cy="144.20" r="1.8" fill="#f4a637" stroke="#151515" stroke-width="0.7"/>
<circle cx="341.00" cy="141.70" r="1.8" fill="#f4a637" stroke="#151515" stroke-width="0.7"/>
<circle cx="345.20" cy="144.20" r="1.8" fill="#f4a637" stroke="#151515" stroke-width="0.7"/>
<circle cx="349.70" cy="143.70" r="1.8" fill="#f4a637" stroke="#151515" stroke-width="0.7"/>
<circle cx="353.80" cy="144.50" r="1.8" fill="#f4a637" stroke="#151515" stroke-width="0.7"/>
<circle cx="358.30" cy="143.70" r="1.8" fill="#f4a637" stroke="#151515" stroke-width="0.7"/>
<line x1="347.40" y1="176.33" x2="347.40" y2="179.53" stroke="#222" stroke-width="1.0"/>
<g transform="translate(345.20,187.13) rotate(-45)"><text x="0" y="0" font-size="8.3" text-anchor="end" font-style="italic" fill="#161616">S. haemolyticus</text><text x="0" y="9.6" font-size="8.3" text-anchor="end" fill="#161616">N=10</text></g>
<polygon points="374.40,35.80 374.41,36.07 374.41,36.38 374.42,36.73 374.42,37.11 374.43,37.51 374.43,37.95 374.43,38.41 374.44,38.90 374.44,39.40 374.45,39.93 374.45,40.47 374.46,41.02 374.47,41.59 374.48,42.17 374.48,42.75 374.50,43.34 374.51,43.94 374.52,44.53 374.54,45.12 374.56,45.71 374.58,46.29 374.60,46.87 374.63,47.43 374.66,47.98 374.69,48.51 374.72,49.03 374.76,49.53 374.80,50.00 374.85,50.56 374.91,51.10 374.97,51.64 375.03,52.16 375.10,52.68 375.17,53.19 375.24,53.69 375.32,54.19 375.40,54.68 375.48,55.18 375.56,55.66 375.65,56.15 375.74,56.64 375.83,57.12 375.93,57.61 376.03,58.10 376.13,58.60 376.24,59.10 376.34,59.60 376.45,60.11 376.57,60.63 376.68,61.16 376.80,61.70 376.91,62.18 377.02,62.68 377.13,63.17 377.24,63.67 377.36,64.18 377.47,64.69 377.59,65.21 377.72,65.73 377.84,66.25 377.97,66.77 378.10,67.30 378.23,67.82 378.36,68.35 378.50,68.88 378.64,69.40 378.78,69.93 378.92,70.45 379.06,70.97 379.21,71.49 379.36,72.01 379.51,72.52 379.66,73.03 379.82,73.53 379.98,74.02 380.14,74.52 380.30,75.00 380.49,75.55 380.70,76.10 380.91,76.65 381.14,77.21 381.37,77.77 381.61,78.33 381.86,78.88 382.11,79.44 382.36,79.99 382.61,80.54 382.86,81.08 383.11,81.62 383.36,82.14 383.60,82.66 383.83,83.17 384.06,83.66 384.28,84.14 384.48,84.61 384.68,85.06 384.86,85.50 385.02,85.92 385.17,86.32 385.30,86.70 385.54,87.49 385.73,88.17 385.86,88.77 385.94,89.30 385.99,89.77 386.00,90.21 385.98,90.63 385.93,91.06 385.87,91.51 385.80,92.00 385.71,92.50 385.60,92.97 385.46,93.43 385.30,93.88 385.11,94.33 384.90,94.80 384.66,95.29 384.40,95.81 384.11,96.38 383.80,97.00 383.58,97.41 383.33,97.82 383.05,98.24 382.75,98.66 382.44,99.10 382.12,99.55 381.78,100.01 381.45,100.48 381.12,100.97 380.80,101.48 380.49,102.01 380.20,102.56 379.93,103.13 379.68,103.73 379.47,104.35 379.30,105.00 379.21,105.42 379.12,105.86 379.05,106.31 378.98,106.79 378.91,107.27 378.85,107.77 378.80,108.29 378.75,108.81 378.71,109.34 378.68,109.88 378.65,110.42 378.63,110.97 378.61,111.53 378.60,112.08 378.60,112.63 378.60,113.18 378.60,113.73 378.62,114.28 378.63,114.82 378.66,115.35 378.68,115.87 378.72,116.38 378.75,116.88 378.80,117.37 378.85,117.84 378.90,118.30 378.98,118.87 379.09,119.43 379.21,119.98 379.36,120.51 379.51,121.03 379.68,121.54 379.86,122.04 380.05,122.54 380.24,123.02 380.44,123.51 380.65,123.98 380.85,124.46 381.05,124.93 381.24,125.40 381.43,125.88 381.61,126.35 381.78,126.83 381.93,127.31 382.08,127.80 382.20,128.30 382.32,128.80 382.43,129.30 382.55,129.80 382.66,130.30 382.78,130.80 382.89,131.30 382.99,131.80 383.09,132.30 383.18,132.80 383.27,133.30 383.35,133.80 383.41,134.30 383.47,134.80 383.52,135.30 383.55,135.80 383.57,136.30 383.58,136.80 383.57,137.30 383.54,137.80 383.50,138.30 383.44,138.80 383.35,139.31 383.25,139.82 383.14,140.33 383.00,140.84 382.85,141.35 382.69,141.86 382.52,142.38 382.34,142.89 382.15,143.40 381.95,143.91 381.75,144.42 381.54,144.92 381.33,145.42 381.12,145.91 380.91,146.40 380.70,146.89 380.50,147.36 380.30,147.84 380.10,148.30 379.85,148.88 379.58,149.46 379.30,150.05 379.01,150.63 378.71,151.21 378.41,151.79 378.10,152.36 377.80,152.92 377.50,153.46 377.21,153.99 376.93,154.51 376.66,155.00 376.41,155.46 376.19,155.90 375.98,156.32 375.80,156.70 375.44,157.43 375.20,157.81 375.06,158.04 374.97,158.35 374.89,158.93 374.80,160.00 374.77,160.34 374.75,160.73 374.72,161.16 374.70,161.63 374.68,162.13 374.66,162.66 374.64,163.21 374.62,163.79 374.60,164.38 374.58,164.99 374.57,165.61 374.55,166.23 374.54,166.86 374.52,167.48 374.51,168.09 374.50,168.70 374.49,169.29 374.47,169.86 374.46,170.41 374.45,170.93 374.44,171.43 374.43,171.89 374.42,172.31 374.42,172.69 374.41,173.02 374.40,173.30 374.20,173.30 374.19,173.02 374.18,172.69 374.18,172.31 374.17,171.89 374.16,171.43 374.15,170.93 374.14,170.41 374.13,169.86 374.11,169.29 374.10,168.70 374.09,168.09 374.08,167.48 374.06,166.86 374.05,166.23 374.03,165.61 374.02,164.99 374.00,164.38 373.98,163.79 373.96,163.21 373.94,162.66 373.92,162.13 373.90,161.63 373.88,161.16 373.85,160.73 373.83,160.34 373.80,160.00 373.71,158.93 373.63,158.35 373.54,158.04 373.40,157.81 373.16,157.43 372.80,156.70 372.62,156.32 372.41,155.90 372.19,155.46 371.94,155.00 371.67,154.51 371.39,153.99 371.10,153.46 370.80,152.92 370.50,152.36 370.19,151.79 369.89,151.21 369.59,150.63 369.30,150.05 369.02,149.46 368.75,148.88 368.50,148.30 368.30,147.84 368.10,147.36 367.90,146.89 367.69,146.40 367.48,145.91 367.27,145.42 367.06,144.92 366.85,144.42 366.65,143.91 366.45,143.40 366.26,142.89 366.08,142.38 365.91,141.86 365.75,141.35 365.60,140.84 365.46,140.33 365.35,139.82 365.25,139.31 365.16,138.80 365.10,138.30 365.06,137.80 365.03,137.30 365.02,136.80 365.03,136.30 365.05,135.80 365.08,135.30 365.13,134.80 365.19,134.30 365.25,133.80 365.33,133.30 365.42,132.80 365.51,132.30 365.61,131.80 365.71,131.30 365.82,130.80 365.94,130.30 366.05,129.80 366.17,129.30 366.28,128.80 366.40,128.30 366.52,127.80 366.67,127.31 366.82,126.83 366.99,126.35 367.17,125.88 367.36,125.40 367.55,124.93 367.75,124.46 367.95,123.98 368.16,123.51 368.36,123.02 368.55,122.54 368.74,122.04 368.92,121.54 369.09,121.03 369.24,120.51 369.39,119.98 369.51,119.43 369.62,118.87 369.70,118.30 369.75,117.84 369.80,117.37 369.85,116.88 369.88,116.38 369.92,115.87 369.94,115.35 369.97,114.82 369.98,114.28 370.00,113.73 370.00,113.18 370.00,112.63 370.00,112.08 369.99,111.53 369.97,110.97 369.95,110.42 369.92,109.88 369.89,109.34 369.85,108.81 369.80,108.29 369.75,107.77 369.69,107.27 369.62,106.79 369.55,106.31 369.48,105.86 369.39,105.42 369.30,105.00 369.13,104.35 368.92,103.73 368.67,103.13 368.40,102.56 368.11,102.01 367.80,101.48 367.48,100.97 367.15,100.48 366.82,100.01 366.48,99.55 366.16,99.10 365.85,98.66 365.55,98.24 365.27,97.82 365.02,97.41 364.80,97.00 364.49,96.38 364.20,95.81 363.94,95.29 363.70,94.80 363.49,94.33 363.30,93.88 363.14,93.43 363.00,92.97 362.89,92.50 362.80,92.00 362.73,91.51 362.67,91.06 362.62,90.63 362.60,90.21 362.61,89.77 362.66,89.30 362.74,88.77 362.87,88.17 363.06,87.49 363.30,86.70 363.43,86.32 363.58,85.92 363.74,85.50 363.92,85.06 364.12,84.61 364.32,84.14 364.54,83.66 364.77,83.17 365.00,82.66 365.24,82.14 365.49,81.62 365.74,81.08 365.99,80.54 366.24,79.99 366.49,79.44 366.74,78.88 366.99,78.33 367.23,77.77 367.46,77.21 367.69,76.65 367.90,76.10 368.11,75.55 368.30,75.00 368.46,74.52 368.62,74.02 368.78,73.53 368.94,73.03 369.09,72.52 369.24,72.01 369.39,71.49 369.54,70.97 369.68,70.45 369.82,69.93 369.96,69.40 370.10,68.88 370.24,68.35 370.37,67.82 370.50,67.30 370.63,66.77 370.76,66.25 370.88,65.73 371.01,65.21 371.13,64.69 371.24,64.18 371.36,63.67 371.47,63.17 371.58,62.68 371.69,62.18 371.80,61.70 371.92,61.16 372.03,60.63 372.15,60.11 372.26,59.60 372.36,59.10 372.47,58.60 372.57,58.10 372.67,57.61 372.77,57.12 372.86,56.64 372.95,56.15 373.04,55.66 373.12,55.18 373.20,54.68 373.28,54.19 373.36,53.69 373.43,53.19 373.50,52.68 373.57,52.16 373.63,51.64 373.69,51.10 373.75,50.56 373.80,50.00 373.84,49.53 373.88,49.03 373.91,48.51 373.94,47.98 373.97,47.43 374.00,46.87 374.02,46.29 374.04,45.71 374.06,45.12 374.08,44.53 374.09,43.94 374.10,43.34 374.12,42.75 374.12,42.17 374.13,41.59 374.14,41.02 374.15,40.47 374.15,39.93 374.16,39.40 374.16,38.90 374.17,38.41 374.17,37.95 374.17,37.51 374.18,37.11 374.18,36.73 374.19,36.38 374.19,36.07 374.20,35.80" fill="#f7ef9f" stroke="#151515" stroke-width="0.85"/>
<line x1="362.87" y1="88.30" x2="385.73" y2="88.30" stroke="#1a1a1a" stroke-width="0.75" stroke-dasharray="2,1.2"/>
<line x1="362.89" y1="92.50" x2="385.71" y2="92.50" stroke="#111" stroke-width="0.85"/>
<line x1="365.05" y1="135.80" x2="383.55" y2="135.80" stroke="#1a1a1a" stroke-width="0.75" stroke-dasharray="2,1.2"/>
<circle cx="374.30" cy="67.50" r="1.8" fill="#cdc438" stroke="#151515" stroke-width="0.7"/>
<circle cx="374.30" cy="89.20" r="1.8" fill="#cdc438" stroke="#151515" stroke-width="0.7"/>
<circle cx="382.20" cy="87.00" r="1.8" fill="#cdc438" stroke="#151515" stroke-width="0.7"/>
<circle cx="366.30" cy="92.50" r="1.8" fill="#cdc438" stroke="#151515" stroke-width="0.7"/>
<circle cx="381.70" cy="92.50" r="1.8" fill="#cdc438" stroke="#151515" stroke-width="0.7"/>
<circle cx="374.30" cy="115.00" r="1.8" fill="#cdc438" stroke="#151515" stroke-width="0.7"/>
<circle cx="374.30" cy="132.50" r="1.8" fill="#cdc438" stroke="#151515" stroke-width="0.7"/>
<circle cx="370.50" cy="141.70" r="1.8" fill="#cdc438" stroke="#151515" stroke-width="0.7"/>
<circle cx="378.30" cy="139.20" r="1.8" fill="#cdc438" stroke="#151515" stroke-width="0.7"/>
<line x1="374.15" y1="176.33" x2="374.15" y2="179.53" stroke="#222" stroke-width="1.0"/>
<g transform="translate(371.95,187.13) rotate(-45)"><text x="0" y="0" font-size="8.3" text-anchor="end" font-style="italic" fill="#161616">S. lugdunensis</text><text x="0" y="9.6" font-size="8.3" text-anchor="end" fill="#161616">N=9</text></g>
<polygon points="401.10,58.00 401.12,58.29 401.16,58.66 401.19,59.10 401.23,59.59 401.28,60.12 401.32,60.68 401.37,61.25 401.42,61.84 401.47,62.42 401.52,62.98 401.56,63.51 401.60,64.00 401.63,64.53 401.63,65.03 401.61,65.50 401.59,65.95 401.58,66.41 401.59,66.88 401.62,67.38 401.69,67.92 401.81,68.53 402.00,69.20 402.14,69.61 402.30,70.05 402.48,70.51 402.68,70.99 402.90,71.49 403.13,72.00 403.37,72.53 403.62,73.06 403.88,73.61 404.14,74.15 404.40,74.70 404.66,75.24 404.91,75.78 405.16,76.31 405.39,76.83 405.61,77.34 405.81,77.83 406.00,78.30 406.21,78.85 406.43,79.40 406.64,79.94 406.86,80.47 407.06,81.00 407.26,81.53 407.45,82.04 407.63,82.55 407.79,83.04 407.94,83.53 408.06,84.01 408.16,84.47 408.24,84.93 408.28,85.37 408.30,85.80 408.25,86.42 408.11,87.01 407.90,87.57 407.63,88.10 407.34,88.62 407.03,89.12 406.72,89.60 406.43,90.07 406.19,90.54 406.00,91.00 405.80,91.53 405.60,91.98 405.41,92.40 405.26,92.81 405.15,93.24 405.11,93.73 405.15,94.30 405.30,95.00 405.42,95.39 405.57,95.81 405.75,96.24 405.96,96.69 406.18,97.16 406.43,97.65 406.69,98.15 406.97,98.67 407.26,99.20 407.55,99.75 407.85,100.31 408.15,100.89 408.45,101.47 408.74,102.07 409.02,102.68 409.30,103.30 409.50,103.74 409.71,104.21 409.94,104.69 410.18,105.18 410.44,105.69 410.70,106.20 410.96,106.73 411.23,107.26 411.50,107.80 411.77,108.35 412.03,108.90 412.28,109.44 412.53,109.99 412.76,110.53 412.98,111.07 413.18,111.60 413.36,112.13 413.52,112.64 413.66,113.14 413.76,113.63 413.84,114.10 413.89,114.56 413.90,115.00 413.85,115.61 413.73,116.20 413.54,116.77 413.29,117.32 412.99,117.86 412.66,118.39 412.29,118.90 411.90,119.40 411.50,119.89 411.09,120.36 410.68,120.82 410.29,121.28 409.91,121.72 409.57,122.15 409.26,122.58 409.00,123.00 408.63,123.62 408.26,124.16 407.92,124.64 407.59,125.09 407.29,125.53 407.02,125.97 406.79,126.45 406.61,126.98 406.48,127.59 406.40,128.30 406.39,128.69 406.42,129.10 406.48,129.53 406.56,129.97 406.66,130.43 406.78,130.90 406.91,131.38 407.05,131.88 407.20,132.39 407.35,132.90 407.50,133.42 407.64,133.95 407.77,134.49 407.89,135.03 407.99,135.57 408.07,136.12 408.12,136.66 408.15,137.21 408.14,137.76 408.10,138.30 408.03,138.78 407.94,139.27 407.83,139.78 407.69,140.29 407.54,140.82 407.37,141.35 407.18,141.89 406.98,142.43 406.78,142.97 406.56,143.52 406.34,144.07 406.11,144.61 405.88,145.15 405.65,145.68 405.42,146.21 405.20,146.73 404.98,147.24 404.77,147.74 404.57,148.22 404.38,148.69 404.20,149.15 404.04,149.58 403.90,150.00 403.69,150.65 403.50,151.28 403.32,151.88 403.15,152.46 402.99,153.01 402.85,153.54 402.72,154.04 402.60,154.53 402.48,154.99 402.37,155.43 402.27,155.85 402.18,156.25 402.09,156.63 402.00,157.00 401.83,157.71 401.73,158.22 401.66,158.62 401.61,159.00 401.56,159.43 401.50,160.00 401.45,160.44 401.41,160.95 401.36,161.51 401.31,162.10 401.27,162.69 401.23,163.26 401.19,163.80 401.15,164.29 401.12,164.69 401.10,165.00 400.90,165.00 400.88,164.69 400.85,164.29 400.81,163.80 400.77,163.26 400.73,162.69 400.69,162.10 400.64,161.51 400.59,160.95 400.55,160.44 400.50,160.00 400.44,159.43 400.39,159.00 400.34,158.62 400.27,158.22 400.17,157.71 400.00,157.00 399.91,156.63 399.82,156.25 399.73,155.85 399.63,155.43 399.52,154.99 399.40,154.53 399.28,154.04 399.15,153.54 399.01,153.01 398.85,152.46 398.68,151.88 398.50,151.28 398.31,150.65 398.10,150.00 397.96,149.58 397.80,149.15 397.62,148.69 397.43,148.22 397.23,147.74 397.02,147.24 396.80,146.73 396.58,146.21 396.35,145.68 396.12,145.15 395.89,144.61 395.66,144.07 395.44,143.52 395.22,142.97 395.02,142.43 394.82,141.89 394.63,141.35 394.46,140.82 394.31,140.29 394.17,139.78 394.06,139.27 393.97,138.78 393.90,138.30 393.86,137.76 393.85,137.21 393.88,136.66 393.93,136.12 394.01,135.57 394.11,135.03 394.23,134.49 394.36,133.95 394.50,133.42 394.65,132.90 394.80,132.39 394.95,131.88 395.09,131.38 395.22,130.90 395.34,130.43 395.44,129.97 395.52,129.53 395.58,129.10 395.61,128.69 395.60,128.30 395.52,127.59 395.39,126.98 395.21,126.45 394.98,125.97 394.71,125.53 394.41,125.09 394.08,124.64 393.74,124.16 393.37,123.62 393.00,123.00 392.74,122.58 392.43,122.15 392.09,121.72 391.71,121.28 391.32,120.82 390.91,120.36 390.50,119.89 390.10,119.40 389.71,118.90 389.34,118.39 389.01,117.86 388.71,117.32 388.46,116.77 388.27,116.20 388.15,115.61 388.10,115.00 388.11,114.56 388.16,114.10 388.24,113.63 388.34,113.14 388.48,112.64 388.64,112.13 388.82,111.60 389.02,111.07 389.24,110.53 389.47,109.99 389.72,109.44 389.97,108.90 390.23,108.35 390.50,107.80 390.77,107.26 391.04,106.73 391.30,106.20 391.56,105.69 391.82,105.18 392.06,104.69 392.29,104.21 392.50,103.74 392.70,103.30 392.98,102.68 393.26,102.07 393.55,101.47 393.85,100.89 394.15,100.31 394.45,99.75 394.74,99.20 395.03,98.67 395.31,98.15 395.57,97.65 395.82,97.16 396.04,96.69 396.25,96.24 396.43,95.81 396.58,95.39 396.70,95.00 396.85,94.30 396.89,93.73 396.85,93.24 396.74,92.81 396.59,92.40 396.40,91.98 396.20,91.53 396.00,91.00 395.81,90.54 395.57,90.07 395.28,89.60 394.97,89.12 394.66,88.62 394.37,88.10 394.10,87.57 393.89,87.01 393.75,86.42 393.70,85.80 393.72,85.37 393.76,84.93 393.84,84.47 393.94,84.01 394.06,83.53 394.21,83.04 394.37,82.55 394.55,82.04 394.74,81.53 394.94,81.00 395.14,80.47 395.36,79.94 395.57,79.40 395.79,78.85 396.00,78.30 396.19,77.83 396.39,77.34 396.61,76.83 396.84,76.31 397.09,75.78 397.34,75.24 397.60,74.70 397.86,74.15 398.12,73.61 398.38,73.06 398.63,72.53 398.87,72.00 399.10,71.49 399.32,70.99 399.52,70.51 399.70,70.05 399.86,69.61 400.00,69.20 400.19,68.53 400.31,67.92 400.38,67.38 400.41,66.88 400.42,66.41 400.41,65.95 400.39,65.50 400.37,65.03 400.37,64.53 400.40,64.00 400.44,63.51 400.48,62.98 400.53,62.42 400.58,61.84 400.63,61.25 400.68,60.68 400.72,60.12 400.77,59.59 400.81,59.10 400.84,58.66 400.88,58.29 400.90,58.00" fill="#b8c2ea" stroke="#151515" stroke-width="0.85"/>
<line x1="396.59" y1="92.30" x2="405.41" y2="92.30" stroke="#1a1a1a" stroke-width="0.75" stroke-dasharray="2,1.2"/>
<line x1="388.27" y1="116.30" x2="413.73" y2="116.30" stroke="#111" stroke-width="0.85"/>
<line x1="394.95" y1="132.00" x2="407.05" y2="132.00" stroke="#1a1a1a" stroke-width="0.75" stroke-dasharray="2,1.2"/>
<circle cx="396.80" cy="83.00" r="1.8" fill="#2b3a9f" stroke="#151515" stroke-width="0.7"/>
<circle cx="405.00" cy="86.70" r="1.8" fill="#2b3a9f" stroke="#151515" stroke-width="0.7"/>
<circle cx="401.00" cy="109.20" r="1.8" fill="#2b3a9f" stroke="#151515" stroke-width="0.7"/>
<circle cx="397.20" cy="114.70" r="1.8" fill="#2b3a9f" stroke="#151515" stroke-width="0.7"/>
<circle cx="397.20" cy="118.70" r="1.8" fill="#2b3a9f" stroke="#151515" stroke-width="0.7"/>
<circle cx="405.00" cy="118.00" r="1.8" fill="#2b3a9f" stroke="#151515" stroke-width="0.7"/>
<circle cx="397.20" cy="140.30" r="1.8" fill="#2b3a9f" stroke="#151515" stroke-width="0.7"/>
<circle cx="405.00" cy="137.50" r="1.8" fill="#2b3a9f" stroke="#151515" stroke-width="0.7"/>
<line x1="400.90" y1="176.33" x2="400.90" y2="179.53" stroke="#222" stroke-width="1.0"/>
<g transform="translate(398.70,187.13) rotate(-45)"><text x="0" y="0" font-size="8.3" text-anchor="end" font-style="italic" fill="#161616">S. simulans</text><text x="0" y="9.6" font-size="8.3" text-anchor="end" fill="#161616">N=8</text></g>
<polygon points="427.80,59.20 427.82,59.50 427.85,59.88 427.88,60.33 427.92,60.83 427.96,61.37 428.00,61.95 428.05,62.55 428.09,63.16 428.14,63.77 428.18,64.37 428.22,64.95 428.26,65.49 428.30,66.00 428.32,66.55 428.31,67.07 428.28,67.56 428.24,68.04 428.20,68.52 428.18,69.00 428.18,69.48 428.23,69.99 428.32,70.52 428.47,71.09 428.70,71.70 428.90,72.14 429.14,72.60 429.40,73.07 429.70,73.55 430.02,74.04 430.36,74.55 430.71,75.06 431.08,75.58 431.47,76.11 431.86,76.65 432.25,77.19 432.65,77.74 433.05,78.30 433.44,78.86 433.83,79.43 434.20,80.00 434.51,80.47 434.83,80.95 435.18,81.46 435.53,81.97 435.90,82.50 436.28,83.03 436.66,83.57 437.04,84.12 437.42,84.66 437.79,85.21 438.15,85.75 438.50,86.28 438.84,86.80 439.15,87.31 439.45,87.81 439.71,88.29 439.95,88.75 440.15,89.19 440.32,89.61 440.45,90.00 440.60,90.68 440.64,91.24 440.58,91.71 440.43,92.12 440.20,92.50 439.92,92.88 439.60,93.29 439.24,93.76 438.87,94.32 438.50,95.00 438.30,95.39 438.08,95.81 437.85,96.25 437.59,96.71 437.32,97.19 437.03,97.69 436.73,98.20 436.43,98.72 436.12,99.25 435.81,99.79 435.50,100.34 435.19,100.88 434.88,101.43 434.59,101.97 434.30,102.50 434.02,103.03 433.76,103.54 433.52,104.05 433.30,104.53 433.10,105.00 432.87,105.56 432.64,106.11 432.42,106.64 432.21,107.15 432.01,107.66 431.82,108.16 431.64,108.66 431.48,109.15 431.34,109.64 431.22,110.14 431.12,110.64 431.04,111.15 430.99,111.66 430.96,112.19 430.97,112.74 431.00,113.30 431.05,113.76 431.13,114.22 431.23,114.68 431.35,115.14 431.49,115.60 431.64,116.07 431.81,116.54 432.00,117.01 432.20,117.49 432.41,117.98 432.62,118.47 432.85,118.97 433.08,119.48 433.31,120.00 433.55,120.52 433.78,121.06 434.02,121.60 434.25,122.15 434.48,122.72 434.70,123.30 434.88,123.76 435.07,124.23 435.28,124.71 435.51,125.21 435.74,125.71 435.99,126.23 436.24,126.75 436.50,127.28 436.77,127.82 437.03,128.36 437.29,128.91 437.55,129.45 437.81,130.00 438.05,130.55 438.29,131.09 438.52,131.64 438.73,132.18 438.93,132.72 439.11,133.25 439.27,133.77 439.41,134.29 439.52,134.79 439.61,135.29 439.67,135.77 439.70,136.24 439.70,136.70 439.65,137.28 439.54,137.86 439.38,138.42 439.18,138.98 438.94,139.54 438.66,140.08 438.35,140.62 438.02,141.15 437.67,141.67 437.29,142.17 436.91,142.68 436.52,143.17 436.13,143.65 435.74,144.12 435.35,144.57 434.98,145.02 434.62,145.46 434.29,145.89 433.98,146.30 433.70,146.70 433.22,147.40 432.74,148.05 432.27,148.67 431.81,149.26 431.36,149.81 430.92,150.32 430.52,150.81 430.13,151.27 429.78,151.70 429.47,152.11 429.20,152.50 428.77,153.14 428.52,153.54 428.39,153.86 428.31,154.28 428.20,155.00 428.15,155.40 428.10,155.87 428.06,156.40 428.02,156.97 427.98,157.58 427.95,158.20 427.92,158.82 427.90,159.42 427.87,159.99 427.85,160.53 427.83,161.00 427.82,161.39 427.80,161.70 427.60,161.70 427.58,161.39 427.57,161.00 427.55,160.53 427.53,159.99 427.50,159.42 427.48,158.82 427.45,158.20 427.42,157.58 427.38,156.97 427.34,156.40 427.30,155.87 427.25,155.40 427.20,155.00 427.09,154.28 427.01,153.86 426.88,153.54 426.63,153.14 426.20,152.50 425.93,152.11 425.62,151.70 425.27,151.27 424.88,150.81 424.48,150.32 424.04,149.81 423.59,149.26 423.13,148.67 422.66,148.05 422.18,147.40 421.70,146.70 421.42,146.30 421.11,145.89 420.78,145.46 420.42,145.02 420.05,144.57 419.66,144.12 419.27,143.65 418.88,143.17 418.49,142.68 418.11,142.17 417.73,141.67 417.38,141.15 417.05,140.62 416.74,140.08 416.46,139.54 416.22,138.98 416.02,138.42 415.86,137.86 415.75,137.28 415.70,136.70 415.70,136.24 415.73,135.77 415.79,135.29 415.88,134.79 415.99,134.29 416.13,133.77 416.29,133.25 416.47,132.72 416.67,132.18 416.88,131.64 417.11,131.09 417.35,130.55 417.59,130.00 417.85,129.45 418.11,128.91 418.37,128.36 418.63,127.82 418.90,127.28 419.16,126.75 419.41,126.23 419.66,125.71 419.89,125.21 420.12,124.71 420.33,124.23 420.52,123.76 420.70,123.30 420.92,122.72 421.15,122.15 421.38,121.60 421.62,121.06 421.85,120.52 422.09,120.00 422.32,119.48 422.55,118.97 422.78,118.47 422.99,117.98 423.20,117.49 423.40,117.01 423.59,116.54 423.76,116.07 423.91,115.60 424.05,115.14 424.17,114.68 424.27,114.22 424.35,113.76 424.40,113.30 424.43,112.74 424.44,112.19 424.41,111.66 424.36,111.15 424.28,110.64 424.18,110.14 424.06,109.64 423.92,109.15 423.76,108.66 423.58,108.16 423.39,107.66 423.19,107.15 422.98,106.64 422.76,106.11 422.53,105.56 422.30,105.00 422.10,104.53 421.88,104.05 421.64,103.54 421.38,103.03 421.10,102.50 420.81,101.97 420.52,101.43 420.21,100.88 419.90,100.34 419.59,99.79 419.28,99.25 418.97,98.72 418.67,98.20 418.37,97.69 418.08,97.19 417.81,96.71 417.55,96.25 417.32,95.81 417.10,95.39 416.90,95.00 416.53,94.32 416.16,93.76 415.80,93.29 415.48,92.88 415.20,92.50 414.97,92.12 414.82,91.71 414.76,91.24 414.80,90.68 414.95,90.00 415.08,89.61 415.25,89.19 415.45,88.75 415.69,88.29 415.95,87.81 416.25,87.31 416.56,86.80 416.90,86.28 417.25,85.75 417.61,85.21 417.98,84.66 418.36,84.12 418.74,83.57 419.12,83.03 419.50,82.50 419.87,81.97 420.22,81.46 420.57,80.95 420.89,80.47 421.20,80.00 421.57,79.43 421.96,78.86 422.35,78.30 422.75,77.74 423.15,77.19 423.54,76.65 423.93,76.11 424.32,75.58 424.69,75.06 425.04,74.55 425.38,74.04 425.70,73.55 426.00,73.07 426.26,72.60 426.50,72.14 426.70,71.70 426.93,71.09 427.08,70.52 427.17,69.99 427.22,69.48 427.22,69.00 427.20,68.52 427.16,68.04 427.12,67.56 427.09,67.07 427.08,66.55 427.10,66.00 427.14,65.49 427.18,64.95 427.22,64.37 427.26,63.77 427.31,63.16 427.35,62.55 427.40,61.95 427.44,61.37 427.48,60.83 427.52,60.33 427.55,59.88 427.58,59.50 427.60,59.20" fill="#d6bce4" stroke="#151515" stroke-width="0.85"/>
<line x1="414.95" y1="90.00" x2="440.45" y2="90.00" stroke="#111" stroke-width="0.85"/>
<line x1="424.43" y1="112.50" x2="430.97" y2="112.50" stroke="#1a1a1a" stroke-width="0.75" stroke-dasharray="2,1.2"/>
<line x1="415.88" y1="135.00" x2="439.52" y2="135.00" stroke="#1a1a1a" stroke-width="0.75" stroke-dasharray="2,1.2"/>
<circle cx="427.70" cy="83.30" r="1.8" fill="#7a31a6" stroke="#151515" stroke-width="0.7"/>
<circle cx="416.80" cy="89.70" r="1.8" fill="#7a31a6" stroke="#151515" stroke-width="0.7"/>
<circle cx="423.80" cy="91.70" r="1.8" fill="#7a31a6" stroke="#151515" stroke-width="0.7"/>
<circle cx="431.30" cy="89.70" r="1.8" fill="#7a31a6" stroke="#151515" stroke-width="0.7"/>
<circle cx="438.50" cy="89.70" r="1.8" fill="#7a31a6" stroke="#151515" stroke-width="0.7"/>
<circle cx="427.70" cy="97.50" r="1.8" fill="#7a31a6" stroke="#151515" stroke-width="0.7"/>
<circle cx="427.70" cy="103.70" r="1.8" fill="#7a31a6" stroke="#151515" stroke-width="0.7"/>
<circle cx="427.70" cy="121.70" r="1.8" fill="#7a31a6" stroke="#151515" stroke-width="0.7"/>
<circle cx="423.80" cy="130.80" r="1.8" fill="#7a31a6" stroke="#151515" stroke-width="0.7"/>
<circle cx="431.30" cy="130.80" r="1.8" fill="#7a31a6" stroke="#151515" stroke-width="0.7"/>
<circle cx="423.80" cy="135.50" r="1.8" fill="#7a31a6" stroke="#151515" stroke-width="0.7"/>
<circle cx="431.30" cy="136.70" r="1.8" fill="#7a31a6" stroke="#151515" stroke-width="0.7"/>
<circle cx="416.80" cy="138.00" r="1.8" fill="#7a31a6" stroke="#151515" stroke-width="0.7"/>
<circle cx="438.50" cy="135.50" r="1.8" fill="#7a31a6" stroke="#151515" stroke-width="0.7"/>
<line x1="427.65" y1="176.33" x2="427.65" y2="179.53" stroke="#222" stroke-width="1.0"/>
<g transform="translate(425.45,187.13) rotate(-45)"><text x="0" y="0" font-size="8.3" text-anchor="end" font-style="italic" fill="#161616">S. warneri</text><text x="0" y="9.6" font-size="8.3" text-anchor="end" fill="#161616">N=14</text></g>
<polygon points="454.40,68.30 454.43,68.60 454.47,68.98 454.50,69.42 454.54,69.92 454.59,70.47 454.63,71.04 454.69,71.64 454.76,72.24 454.84,72.84 454.93,73.43 455.04,74.00 455.16,74.52 455.30,75.00 455.52,75.57 455.77,76.11 456.06,76.62 456.37,77.12 456.70,77.61 457.04,78.08 457.37,78.55 457.70,79.03 458.01,79.51 458.30,80.00 458.59,80.50 458.91,81.00 459.24,81.50 459.57,82.00 459.88,82.50 460.17,83.00 460.42,83.50 460.62,84.00 460.75,84.50 460.80,85.00 460.73,85.50 460.54,85.98 460.25,86.47 459.91,86.95 459.54,87.44 459.18,87.93 458.86,88.43 458.61,88.94 458.48,89.46 458.50,90.00 458.63,90.46 458.84,90.94 459.12,91.42 459.46,91.91 459.84,92.40 460.26,92.91 460.70,93.41 461.14,93.93 461.59,94.44 462.02,94.96 462.43,95.48 462.80,96.00 463.14,96.48 463.52,96.95 463.93,97.41 464.36,97.87 464.78,98.34 465.20,98.81 465.59,99.29 465.95,99.78 466.26,100.28 466.51,100.81 466.70,101.35 466.80,101.91 466.80,102.50 466.74,102.94 466.62,103.40 466.45,103.87 466.24,104.35 465.98,104.84 465.70,105.34 465.38,105.84 465.05,106.36 464.69,106.88 464.32,107.41 463.95,107.94 463.57,108.47 463.19,109.01 462.83,109.55 462.47,110.09 462.14,110.63 461.83,111.17 461.55,111.70 461.31,112.19 461.07,112.69 460.84,113.21 460.60,113.74 460.36,114.28 460.13,114.83 459.90,115.38 459.67,115.93 459.44,116.47 459.22,117.02 459.00,117.56 458.79,118.09 458.58,118.60 458.38,119.11 458.18,119.60 457.99,120.06 457.81,120.51 457.63,120.94 457.46,121.33 457.30,121.70 456.93,122.47 456.62,123.06 456.34,123.52 456.09,123.91 455.87,124.27 455.67,124.67 455.48,125.17 455.30,125.80 455.21,126.22 455.12,126.69 455.04,127.20 454.96,127.75 454.89,128.33 454.82,128.92 454.75,129.51 454.70,130.10 454.64,130.68 454.59,131.23 454.55,131.75 454.50,132.23 454.47,132.65 454.43,133.01 454.40,133.30 454.20,133.30 454.17,133.01 454.13,132.65 454.10,132.23 454.05,131.75 454.01,131.23 453.96,130.68 453.90,130.10 453.85,129.51 453.78,128.92 453.71,128.33 453.64,127.75 453.56,127.20 453.48,126.69 453.39,126.22 453.30,125.80 453.12,125.17 452.93,124.67 452.73,124.27 452.51,123.91 452.26,123.52 451.98,123.06 451.67,122.47 451.30,121.70 451.14,121.33 450.97,120.94 450.79,120.51 450.61,120.06 450.42,119.60 450.22,119.11 450.02,118.60 449.81,118.09 449.60,117.56 449.38,117.02 449.16,116.47 448.93,115.93 448.70,115.38 448.47,114.83 448.24,114.28 448.00,113.74 447.76,113.21 447.53,112.69 447.29,112.19 447.05,111.70 446.77,111.17 446.46,110.63 446.13,110.09 445.77,109.55 445.41,109.01 445.03,108.47 444.65,107.94 444.28,107.41 443.91,106.88 443.55,106.36 443.22,105.84 442.90,105.34 442.62,104.84 442.36,104.35 442.15,103.87 441.98,103.40 441.86,102.94 441.80,102.50 441.80,101.91 441.90,101.35 442.09,100.81 442.34,100.28 442.65,99.78 443.01,99.29 443.40,98.81 443.82,98.34 444.24,97.87 444.67,97.41 445.08,96.95 445.46,96.48 445.80,96.00 446.17,95.48 446.58,94.96 447.01,94.44 447.46,93.93 447.90,93.41 448.34,92.91 448.76,92.40 449.14,91.91 449.48,91.42 449.76,90.94 449.97,90.46 450.10,90.00 450.12,89.46 449.99,88.94 449.74,88.43 449.42,87.93 449.06,87.44 448.69,86.95 448.35,86.47 448.06,85.98 447.87,85.50 447.80,85.00 447.85,84.50 447.98,84.00 448.18,83.50 448.43,83.00 448.72,82.50 449.03,82.00 449.36,81.50 449.69,81.00 450.01,80.50 450.30,80.00 450.59,79.51 450.90,79.03 451.23,78.55 451.56,78.08 451.90,77.61 452.23,77.12 452.54,76.62 452.83,76.11 453.08,75.57 453.30,75.00 453.44,74.52 453.56,74.00 453.67,73.43 453.76,72.84 453.84,72.24 453.91,71.64 453.97,71.04 454.01,70.47 454.06,69.92 454.10,69.42 454.13,68.98 454.17,68.60 454.20,68.30" fill="#f0c7e6" stroke="#151515" stroke-width="0.85"/>
<line x1="449.97" y1="90.30" x2="458.63" y2="90.30" stroke="#111" stroke-width="0.85"/>
<line x1="441.86" y1="103.00" x2="466.74" y2="103.00" stroke="#111" stroke-width="0.85"/>
<line x1="447.53" y1="112.50" x2="461.07" y2="112.50" stroke="#1a1a1a" stroke-width="0.75" stroke-dasharray="2,1.2"/>
<circle cx="454.30" cy="85.30" r="1.8" fill="#c7409f" stroke="#151515" stroke-width="0.7"/>
<circle cx="450.50" cy="103.00" r="1.8" fill="#c7409f" stroke="#151515" stroke-width="0.7"/>
<circle cx="458.50" cy="103.00" r="1.8" fill="#c7409f" stroke="#151515" stroke-width="0.7"/>
<circle cx="454.30" cy="115.80" r="1.8" fill="#c7409f" stroke="#151515" stroke-width="0.7"/>
<line x1="454.40" y1="176.33" x2="454.40" y2="179.53" stroke="#222" stroke-width="1.0"/>
<g transform="translate(452.20,187.13) rotate(-45)"><text x="0" y="0" font-size="8.3" text-anchor="end" font-style="italic" fill="#161616">S. pseudintermedius</text><text x="0" y="9.6" font-size="8.3" text-anchor="end" fill="#161616">N=4</text></g>
<polygon points="481.40,25.80 481.41,26.09 481.42,26.42 481.42,26.81 481.43,27.23 481.43,27.70 481.44,28.20 481.44,28.72 481.45,29.27 481.46,29.85 481.47,30.43 481.48,31.03 481.50,31.64 481.51,32.25 481.53,32.86 481.56,33.46 481.59,34.05 481.62,34.63 481.66,35.18 481.70,35.72 481.75,36.23 481.80,36.70 481.88,37.29 481.98,37.87 482.08,38.44 482.20,39.00 482.33,39.54 482.46,40.07 482.60,40.60 482.74,41.11 482.88,41.62 483.02,42.12 483.17,42.61 483.30,43.10 483.44,43.58 483.57,44.06 483.69,44.53 483.80,45.00 483.94,45.57 484.08,46.12 484.22,46.66 484.37,47.19 484.51,47.71 484.65,48.22 484.78,48.73 484.89,49.23 485.00,49.72 485.08,50.21 485.14,50.71 485.19,51.20 485.20,51.70 485.18,52.23 485.13,52.75 485.04,53.25 484.94,53.74 484.81,54.23 484.67,54.73 484.52,55.23 484.36,55.74 484.21,56.27 484.06,56.82 483.92,57.39 483.80,58.00 483.71,58.45 483.61,58.92 483.50,59.40 483.38,59.89 483.25,60.40 483.13,60.91 483.00,61.43 482.88,61.96 482.77,62.49 482.67,63.03 482.58,63.56 482.51,64.10 482.45,64.63 482.42,65.16 482.42,65.68 482.44,66.19 482.50,66.70 482.59,67.22 482.70,67.72 482.84,68.21 483.00,68.69 483.17,69.16 483.37,69.62 483.59,70.09 483.82,70.56 484.08,71.04 484.35,71.54 484.64,72.05 484.94,72.58 485.26,73.14 485.59,73.73 485.94,74.34 486.30,75.00 486.54,75.43 486.80,75.88 487.09,76.36 487.39,76.86 487.72,77.37 488.05,77.90 488.40,78.45 488.77,79.01 489.13,79.57 489.51,80.14 489.89,80.72 490.26,81.30 490.64,81.88 491.01,82.45 491.37,83.02 491.73,83.58 492.07,84.14 492.39,84.68 492.70,85.21 493.00,85.72 493.27,86.21 493.51,86.68 493.73,87.12 493.92,87.55 494.08,87.94 494.20,88.30 494.38,89.20 494.36,89.94 494.16,90.53 493.83,91.02 493.42,91.43 492.97,91.80 492.52,92.17 492.11,92.56 491.80,93.00 491.51,93.54 491.20,94.07 490.89,94.60 490.59,95.11 490.31,95.60 490.04,96.09 489.80,96.55 489.60,97.00 489.40,97.53 489.26,98.00 489.16,98.44 489.08,98.89 489.00,99.40 488.90,100.00 488.83,100.42 488.76,100.87 488.68,101.35 488.61,101.86 488.53,102.38 488.46,102.90 488.39,103.44 488.32,103.97 488.26,104.49 488.20,105.00 488.15,105.50 488.11,106.00 488.07,106.50 488.04,107.00 488.01,107.50 487.98,108.00 487.95,108.50 487.91,109.00 487.86,109.50 487.80,110.00 487.73,110.50 487.66,111.00 487.58,111.50 487.49,112.00 487.40,112.50 487.31,113.00 487.21,113.50 487.11,114.00 487.00,114.50 486.90,115.00 486.79,115.50 486.67,116.00 486.54,116.50 486.42,117.00 486.28,117.50 486.15,118.00 486.03,118.50 485.91,119.00 485.80,119.50 485.70,120.00 485.62,120.50 485.54,121.00 485.48,121.50 485.43,122.00 485.38,122.50 485.33,123.00 485.27,123.50 485.21,124.00 485.14,124.50 485.05,125.00 484.95,125.50 484.84,126.00 484.72,126.50 484.59,127.00 484.46,127.50 484.33,128.00 484.19,128.50 484.06,129.00 483.93,129.50 483.80,130.00 483.67,130.50 483.54,131.00 483.41,131.50 483.27,132.00 483.14,132.50 483.01,133.00 482.88,133.50 482.76,134.00 482.65,134.50 482.55,135.00 482.46,135.50 482.37,136.00 482.30,136.50 482.23,137.00 482.16,137.50 482.10,138.00 482.04,138.50 481.99,139.00 481.94,139.50 481.90,140.00 481.86,140.49 481.83,140.95 481.81,141.40 481.79,141.84 481.78,142.29 481.77,142.76 481.75,143.26 481.74,143.79 481.72,144.37 481.70,145.00 481.68,145.44 481.67,145.94 481.65,146.47 481.62,147.04 481.60,147.63 481.58,148.24 481.56,148.85 481.54,149.46 481.52,150.07 481.49,150.65 481.47,151.21 481.46,151.73 481.44,152.21 481.42,152.64 481.41,153.00 481.40,153.30 481.20,153.30 481.19,153.00 481.18,152.64 481.16,152.21 481.14,151.73 481.13,151.21 481.11,150.65 481.08,150.07 481.06,149.46 481.04,148.85 481.02,148.24 481.00,147.63 480.98,147.04 480.95,146.47 480.93,145.94 480.92,145.44 480.90,145.00 480.88,144.37 480.86,143.79 480.85,143.26 480.83,142.76 480.82,142.29 480.81,141.84 480.79,141.40 480.77,140.95 480.74,140.49 480.70,140.00 480.66,139.50 480.61,139.00 480.56,138.50 480.50,138.00 480.44,137.50 480.37,137.00 480.30,136.50 480.23,136.00 480.14,135.50 480.05,135.00 479.95,134.50 479.84,134.00 479.72,133.50 479.59,133.00 479.46,132.50 479.33,132.00 479.19,131.50 479.06,131.00 478.93,130.50 478.80,130.00 478.67,129.50 478.54,129.00 478.41,128.50 478.27,128.00 478.14,127.50 478.01,127.00 477.88,126.50 477.76,126.00 477.65,125.50 477.55,125.00 477.46,124.50 477.39,124.00 477.33,123.50 477.27,123.00 477.22,122.50 477.17,122.00 477.12,121.50 477.06,121.00 476.98,120.50 476.90,120.00 476.80,119.50 476.69,119.00 476.57,118.50 476.45,118.00 476.32,117.50 476.18,117.00 476.06,116.50 475.93,116.00 475.81,115.50 475.70,115.00 475.60,114.50 475.49,114.00 475.39,113.50 475.29,113.00 475.20,112.50 475.11,112.00 475.02,111.50 474.94,111.00 474.87,110.50 474.80,110.00 474.74,109.50 474.69,109.00 474.65,108.50 474.62,108.00 474.59,107.50 474.56,107.00 474.53,106.50 474.49,106.00 474.45,105.50 474.40,105.00 474.34,104.49 474.28,103.97 474.21,103.44 474.14,102.90 474.07,102.38 473.99,101.86 473.92,101.35 473.84,100.87 473.77,100.42 473.70,100.00 473.60,99.40 473.52,98.89 473.44,98.44 473.34,98.00 473.20,97.53 473.00,97.00 472.80,96.55 472.56,96.09 472.29,95.60 472.01,95.11 471.71,94.60 471.40,94.07 471.09,93.54 470.80,93.00 470.49,92.56 470.08,92.17 469.63,91.80 469.18,91.43 468.77,91.02 468.44,90.53 468.24,89.94 468.22,89.20 468.40,88.30 468.52,87.94 468.68,87.55 468.87,87.12 469.09,86.68 469.33,86.21 469.60,85.72 469.90,85.21 470.21,84.68 470.53,84.14 470.87,83.58 471.23,83.02 471.59,82.45 471.96,81.88 472.34,81.30 472.71,80.72 473.09,80.14 473.47,79.57 473.83,79.01 474.20,78.45 474.55,77.90 474.88,77.37 475.21,76.86 475.51,76.36 475.80,75.88 476.06,75.43 476.30,75.00 476.66,74.34 477.01,73.73 477.34,73.14 477.66,72.58 477.96,72.05 478.25,71.54 478.52,71.04 478.78,70.56 479.01,70.09 479.23,69.62 479.43,69.16 479.60,68.69 479.76,68.21 479.90,67.72 480.01,67.22 480.10,66.70 480.16,66.19 480.18,65.68 480.18,65.16 480.15,64.63 480.09,64.10 480.02,63.56 479.93,63.03 479.83,62.49 479.72,61.96 479.60,61.43 479.47,60.91 479.35,60.40 479.22,59.89 479.10,59.40 478.99,58.92 478.89,58.45 478.80,58.00 478.68,57.39 478.54,56.82 478.39,56.27 478.24,55.74 478.08,55.23 477.93,54.73 477.79,54.23 477.66,53.74 477.56,53.25 477.47,52.75 477.42,52.23 477.40,51.70 477.41,51.20 477.46,50.71 477.52,50.21 477.60,49.72 477.71,49.23 477.82,48.73 477.95,48.22 478.09,47.71 478.23,47.19 478.38,46.66 478.52,46.12 478.66,45.57 478.80,45.00 478.91,44.53 479.03,44.06 479.16,43.58 479.30,43.10 479.43,42.61 479.58,42.12 479.72,41.62 479.86,41.11 480.00,40.60 480.14,40.07 480.27,39.54 480.40,39.00 480.52,38.44 480.62,37.87 480.72,37.29 480.80,36.70 480.85,36.23 480.90,35.72 480.94,35.18 480.98,34.63 481.01,34.05 481.04,33.46 481.07,32.86 481.09,32.25 481.10,31.64 481.12,31.03 481.13,30.43 481.14,29.85 481.15,29.27 481.16,28.72 481.16,28.20 481.17,27.70 481.17,27.23 481.18,26.81 481.18,26.42 481.19,26.09 481.20,25.80" fill="#f9d6d4" stroke="#151515" stroke-width="0.85"/>
<line x1="469.90" y1="85.40" x2="492.70" y2="85.40" stroke="#111" stroke-width="0.85"/>
<line x1="470.08" y1="92.10" x2="492.52" y2="92.10" stroke="#111" stroke-width="0.85"/>
<line x1="475.29" y1="113.20" x2="487.31" y2="113.20" stroke="#111" stroke-width="0.85"/>
<circle cx="481.30" cy="51.70" r="1.8" fill="#ef7370" stroke="#151515" stroke-width="0.7"/>
<circle cx="477.30" cy="85.00" r="1.8" fill="#ef7370" stroke="#151515" stroke-width="0.7"/>
<circle cx="485.20" cy="85.30" r="1.8" fill="#ef7370" stroke="#151515" stroke-width="0.7"/>
<circle cx="481.30" cy="89.20" r="1.8" fill="#ef7370" stroke="#151515" stroke-width="0.7"/>
<circle cx="481.30" cy="94.50" r="1.8" fill="#ef7370" stroke="#151515" stroke-width="0.7"/>
<circle cx="481.30" cy="109.20" r="1.8" fill="#ef7370" stroke="#151515" stroke-width="0.7"/>
<circle cx="481.30" cy="115.30" r="1.8" fill="#ef7370" stroke="#151515" stroke-width="0.7"/>
<circle cx="481.30" cy="127.80" r="1.8" fill="#ef7370" stroke="#151515" stroke-width="0.7"/>
<line x1="481.15" y1="176.33" x2="481.15" y2="179.53" stroke="#222" stroke-width="1.0"/>
<g transform="translate(478.95,187.13) rotate(-45)"><text x="0" y="0" font-size="8.3" text-anchor="end" font-style="italic" fill="#161616">M. luteus</text><text x="0" y="9.6" font-size="8.3" text-anchor="end" fill="#161616">N=8</text></g>
<polygon points="508.30,82.50 508.31,82.81 508.31,83.19 508.30,83.64 508.30,84.14 508.30,84.69 508.30,85.28 508.33,85.88 508.37,86.50 508.45,87.11 508.56,87.72 508.70,88.30 508.87,88.80 509.08,89.32 509.34,89.85 509.62,90.41 509.92,90.97 510.24,91.53 510.55,92.08 510.86,92.63 511.15,93.16 511.41,93.67 511.64,94.15 511.82,94.59 511.95,95.00 512.05,95.75 511.96,96.37 511.77,96.90 511.53,97.37 511.32,97.82 511.20,98.30 511.16,98.89 511.16,99.46 511.20,100.00 511.28,100.51 511.40,101.00 511.56,101.55 511.74,102.04 512.06,102.52 512.60,103.00 513.50,103.48 514.67,103.94 515.89,104.43 516.95,105.00 517.55,105.43 518.14,105.89 518.69,106.38 519.17,106.89 519.55,107.43 519.80,108.00 519.90,108.45 519.93,108.93 519.90,109.43 519.82,109.94 519.69,110.46 519.53,110.98 519.33,111.49 519.10,112.00 518.81,112.50 518.44,113.00 518.02,113.50 517.56,114.00 517.11,114.50 516.68,115.00 516.30,115.50 516.00,116.00 515.76,116.49 515.55,116.98 515.37,117.46 515.23,117.94 515.12,118.43 515.06,118.93 515.05,119.45 515.10,120.00 515.19,120.47 515.35,120.97 515.54,121.49 515.78,122.02 516.03,122.56 516.30,123.10 516.56,123.62 516.80,124.11 517.02,124.58 517.20,125.00 517.48,125.60 517.77,126.11 518.02,126.56 518.21,127.00 518.28,127.47 518.20,128.00 518.02,128.45 517.74,128.93 517.39,129.43 516.99,129.94 516.54,130.46 516.06,130.98 515.58,131.49 515.10,132.00 514.59,132.51 514.02,133.02 513.42,133.54 512.80,134.06 512.19,134.57 511.63,135.07 511.12,135.55 510.70,136.00 510.27,136.57 509.95,137.11 509.71,137.62 509.52,138.11 509.36,138.57 509.20,139.00 509.00,139.56 508.88,140.04 508.79,140.50 508.70,141.00 508.58,141.61 508.47,142.28 508.37,142.88 508.30,143.30 508.10,143.30 508.03,142.88 507.93,142.28 507.82,141.61 507.70,141.00 507.61,140.50 507.52,140.04 507.40,139.56 507.20,139.00 507.04,138.57 506.88,138.11 506.69,137.62 506.45,137.11 506.13,136.57 505.70,136.00 505.28,135.55 504.77,135.07 504.21,134.57 503.60,134.06 502.98,133.54 502.38,133.02 501.81,132.51 501.30,132.00 500.82,131.49 500.34,130.98 499.86,130.46 499.41,129.94 499.01,129.43 498.66,128.93 498.38,128.45 498.20,128.00 498.12,127.47 498.19,127.00 498.38,126.56 498.63,126.11 498.92,125.60 499.20,125.00 499.38,124.58 499.60,124.11 499.84,123.62 500.10,123.10 500.37,122.56 500.62,122.02 500.86,121.49 501.05,120.97 501.21,120.47 501.30,120.00 501.35,119.45 501.34,118.93 501.28,118.43 501.18,117.94 501.03,117.46 500.85,116.98 500.64,116.49 500.40,116.00 500.10,115.50 499.72,115.00 499.29,114.50 498.84,114.00 498.38,113.50 497.96,113.00 497.59,112.50 497.30,112.00 497.07,111.49 496.87,110.98 496.71,110.46 496.58,109.94 496.50,109.43 496.47,108.93 496.50,108.45 496.60,108.00 496.85,107.43 497.23,106.89 497.71,106.38 498.26,105.89 498.85,105.43 499.45,105.00 500.51,104.43 501.73,103.94 502.90,103.48 503.80,103.00 504.34,102.52 504.66,102.04 504.84,101.55 505.00,101.00 505.12,100.51 505.20,100.00 505.24,99.46 505.24,98.89 505.20,98.30 505.08,97.82 504.87,97.37 504.63,96.90 504.44,96.37 504.35,95.75 504.45,95.00 504.58,94.59 504.76,94.15 504.99,93.67 505.25,93.16 505.54,92.63 505.85,92.08 506.16,91.53 506.48,90.97 506.78,90.41 507.06,89.85 507.32,89.32 507.53,88.80 507.70,88.30 507.84,87.72 507.95,87.11 508.03,86.50 508.07,85.88 508.10,85.28 508.10,84.69 508.10,84.14 508.10,83.64 508.09,83.19 508.09,82.81 508.10,82.50" fill="#fde5c4" stroke="#151515" stroke-width="0.85"/>
<line x1="496.47" y1="108.75" x2="519.93" y2="108.75" stroke="#1a1a1a" stroke-width="0.75" stroke-dasharray="2,1.2"/>
<line x1="497.96" y1="113.10" x2="518.44" y2="113.10" stroke="#111" stroke-width="0.85"/>
<line x1="498.19" y1="126.90" x2="518.21" y2="126.90" stroke="#1a1a1a" stroke-width="0.75" stroke-dasharray="2,1.2"/>
<circle cx="508.20" cy="95.30" r="1.8" fill="#f4a637" stroke="#151515" stroke-width="0.7"/>
<circle cx="508.00" cy="105.80" r="1.8" fill="#f4a637" stroke="#151515" stroke-width="0.7"/>
<circle cx="500.20" cy="109.20" r="1.8" fill="#f4a637" stroke="#151515" stroke-width="0.7"/>
<circle cx="516.00" cy="109.70" r="1.8" fill="#f4a637" stroke="#151515" stroke-width="0.7"/>
<circle cx="508.00" cy="111.70" r="1.8" fill="#f4a637" stroke="#151515" stroke-width="0.7"/>
<circle cx="504.30" cy="118.00" r="1.8" fill="#f4a637" stroke="#151515" stroke-width="0.7"/>
<circle cx="511.80" cy="116.30" r="1.8" fill="#f4a637" stroke="#151515" stroke-width="0.7"/>
<circle cx="508.00" cy="126.30" r="1.8" fill="#f4a637" stroke="#151515" stroke-width="0.7"/>
<circle cx="500.20" cy="130.30" r="1.8" fill="#f4a637" stroke="#151515" stroke-width="0.7"/>
<circle cx="515.70" cy="128.30" r="1.8" fill="#f4a637" stroke="#151515" stroke-width="0.7"/>
<line x1="507.90" y1="176.33" x2="507.90" y2="179.53" stroke="#222" stroke-width="1.0"/>
<g transform="translate(505.70,187.13) rotate(-45)"><text x="0" y="0" font-size="8.3" text-anchor="end" font-style="italic" fill="#161616">Strep. pyogenes</text><text x="0" y="9.6" font-size="8.3" text-anchor="end" fill="#161616">N=10</text></g>
<polygon points="535.10,84.20 535.27,84.58 535.51,85.11 535.79,85.73 536.13,86.38 536.50,87.00 536.80,87.47 537.09,87.91 537.40,88.36 537.79,88.84 538.31,89.38 539.00,90.00 539.55,90.42 540.22,90.87 540.99,91.35 541.81,91.86 542.66,92.38 543.49,92.90 544.27,93.44 544.98,93.97 545.56,94.49 546.00,95.00 546.32,95.51 546.56,96.03 546.74,96.56 546.84,97.10 546.88,97.62 546.84,98.14 546.74,98.65 546.56,99.13 546.32,99.58 546.00,100.00 545.17,100.62 543.98,101.15 542.59,101.62 541.19,102.07 539.93,102.52 539.00,103.00 538.40,103.50 538.00,104.00 537.75,104.50 537.61,105.00 537.54,105.50 537.50,106.00 537.55,106.51 537.74,107.04 538.00,107.56 538.26,108.07 538.45,108.56 538.50,109.00 538.31,109.56 537.93,110.04 537.46,110.50 537.00,111.00 536.51,111.63 535.96,112.33 535.45,112.96 535.10,113.40 534.90,113.40 534.55,112.96 534.04,112.33 533.49,111.63 533.00,111.00 532.54,110.50 532.07,110.04 531.69,109.56 531.50,109.00 531.55,108.56 531.74,108.07 532.00,107.56 532.26,107.04 532.45,106.51 532.50,106.00 532.46,105.50 532.39,105.00 532.25,104.50 532.00,104.00 531.60,103.50 531.00,103.00 530.07,102.52 528.81,102.07 527.41,101.62 526.02,101.15 524.83,100.62 524.00,100.00 523.68,99.58 523.44,99.13 523.26,98.65 523.16,98.14 523.12,97.62 523.16,97.10 523.26,96.56 523.44,96.03 523.68,95.51 524.00,95.00 524.44,94.49 525.02,93.97 525.73,93.44 526.51,92.90 527.34,92.38 528.19,91.86 529.01,91.35 529.78,90.87 530.45,90.42 531.00,90.00 531.69,89.38 532.21,88.84 532.60,88.36 532.91,87.91 533.20,87.47 533.50,87.00 533.87,86.38 534.21,85.73 534.49,85.11 534.73,84.58 534.90,84.20" fill="#f4f2c4" stroke="#151515" stroke-width="0.85"/>
<circle cx="532.60" cy="89.30" r="1.95" fill="#a9b923" stroke="#151515" stroke-width="0.7"/>
<circle cx="537.30" cy="89.30" r="1.95" fill="#a9b923" stroke="#151515" stroke-width="0.7"/>
<circle cx="524.20" cy="95.00" r="1.95" fill="#a9b923" stroke="#151515" stroke-width="0.7"/>
<circle cx="528.30" cy="95.00" r="1.95" fill="#a9b923" stroke="#151515" stroke-width="0.7"/>
<circle cx="541.40" cy="95.00" r="1.95" fill="#a9b923" stroke="#151515" stroke-width="0.7"/>
<circle cx="545.70" cy="95.00" r="1.95" fill="#a9b923" stroke="#151515" stroke-width="0.7"/>
<circle cx="532.60" cy="96.50" r="1.95" fill="#a9b923" stroke="#151515" stroke-width="0.7"/>
<circle cx="537.00" cy="96.50" r="1.95" fill="#a9b923" stroke="#151515" stroke-width="0.7"/>
<circle cx="524.20" cy="99.60" r="1.95" fill="#a9b923" stroke="#151515" stroke-width="0.7"/>
<circle cx="528.30" cy="99.60" r="1.95" fill="#a9b923" stroke="#151515" stroke-width="0.7"/>
<circle cx="541.40" cy="99.60" r="1.95" fill="#a9b923" stroke="#151515" stroke-width="0.7"/>
<circle cx="545.70" cy="99.60" r="1.95" fill="#a9b923" stroke="#151515" stroke-width="0.7"/>
<circle cx="532.60" cy="101.60" r="1.95" fill="#a9b923" stroke="#151515" stroke-width="0.7"/>
<circle cx="537.30" cy="101.60" r="1.95" fill="#a9b923" stroke="#151515" stroke-width="0.7"/>
<circle cx="532.00" cy="108.80" r="1.95" fill="#a9b923" stroke="#151515" stroke-width="0.7"/>
<circle cx="537.50" cy="108.80" r="1.95" fill="#a9b923" stroke="#151515" stroke-width="0.7"/>
<line x1="534.65" y1="176.33" x2="534.65" y2="179.53" stroke="#222" stroke-width="1.0"/>
<g transform="translate(532.45,187.13) rotate(-45)"><text x="0" y="0" font-size="8.3" text-anchor="end" font-style="italic" fill="#161616">Strep. agalactiae</text><text x="0" y="9.6" font-size="8.3" text-anchor="end" fill="#161616">N=16</text></g>
<polygon points="561.70,88.30 561.82,88.63 561.96,89.08 562.18,89.62 562.54,90.27 563.10,91.00 563.49,91.41 563.96,91.85 564.50,92.33 565.08,92.83 565.69,93.36 566.31,93.89 566.93,94.43 567.53,94.96 568.09,95.49 568.60,96.00 569.10,96.50 569.64,97.02 570.19,97.53 570.74,98.05 571.26,98.56 571.72,99.07 572.11,99.57 572.40,100.06 572.57,100.54 572.60,101.00 572.40,101.55 571.97,102.07 571.36,102.57 570.63,103.06 569.83,103.54 569.03,104.02 568.26,104.51 567.60,105.00 566.99,105.51 566.37,106.04 565.74,106.57 565.12,107.11 564.54,107.62 564.00,108.12 563.51,108.58 563.10,109.00 562.50,109.75 562.12,110.40 561.88,110.93 561.70,111.30 561.50,111.30 561.32,110.93 561.08,110.40 560.70,109.75 560.10,109.00 559.69,108.58 559.20,108.12 558.66,107.62 558.08,107.11 557.46,106.57 556.83,106.04 556.21,105.51 555.60,105.00 554.94,104.51 554.17,104.02 553.37,103.54 552.57,103.06 551.84,102.57 551.23,102.07 550.80,101.55 550.60,101.00 550.63,100.54 550.80,100.06 551.09,99.57 551.48,99.07 551.94,98.56 552.46,98.05 553.01,97.53 553.56,97.02 554.10,96.50 554.60,96.00 555.11,95.49 555.67,94.96 556.27,94.43 556.89,93.89 557.51,93.36 558.12,92.83 558.70,92.33 559.24,91.85 559.71,91.41 560.10,91.00 560.66,90.27 561.02,89.62 561.24,89.08 561.38,88.63 561.50,88.30" fill="#b8c0ec" stroke="#151515" stroke-width="0.85"/>
<circle cx="561.60" cy="91.40" r="1.95" fill="#27358f" stroke="#151515" stroke-width="0.7"/>
<circle cx="561.60" cy="96.50" r="1.95" fill="#27358f" stroke="#151515" stroke-width="0.7"/>
<circle cx="572.80" cy="96.50" r="1.95" fill="#27358f" stroke="#151515" stroke-width="0.7"/>
<circle cx="553.40" cy="99.00" r="1.95" fill="#27358f" stroke="#151515" stroke-width="0.7"/>
<circle cx="557.50" cy="99.00" r="1.95" fill="#27358f" stroke="#151515" stroke-width="0.7"/>
<circle cx="566.20" cy="99.00" r="1.95" fill="#27358f" stroke="#151515" stroke-width="0.7"/>
<circle cx="561.60" cy="100.60" r="1.95" fill="#27358f" stroke="#151515" stroke-width="0.7"/>
<circle cx="550.80" cy="101.80" r="1.95" fill="#27358f" stroke="#151515" stroke-width="0.7"/>
<circle cx="572.80" cy="101.80" r="1.95" fill="#27358f" stroke="#151515" stroke-width="0.7"/>
<circle cx="552.90" cy="103.10" r="1.95" fill="#27358f" stroke="#151515" stroke-width="0.7"/>
<circle cx="559.00" cy="103.10" r="1.95" fill="#27358f" stroke="#151515" stroke-width="0.7"/>
<circle cx="566.20" cy="103.10" r="1.95" fill="#27358f" stroke="#151515" stroke-width="0.7"/>
<circle cx="568.70" cy="103.10" r="1.95" fill="#27358f" stroke="#151515" stroke-width="0.7"/>
<circle cx="557.00" cy="104.70" r="1.95" fill="#27358f" stroke="#151515" stroke-width="0.7"/>
<circle cx="563.60" cy="104.70" r="1.95" fill="#27358f" stroke="#151515" stroke-width="0.7"/>
<circle cx="566.20" cy="107.80" r="1.95" fill="#27358f" stroke="#151515" stroke-width="0.7"/>
<circle cx="555.00" cy="97.50" r="1.95" fill="#27358f" stroke="#151515" stroke-width="0.7"/>
<circle cx="570.00" cy="100.00" r="1.95" fill="#27358f" stroke="#151515" stroke-width="0.7"/>
<circle cx="562.00" cy="106.00" r="1.95" fill="#27358f" stroke="#151515" stroke-width="0.7"/>
<circle cx="549.50" cy="102.50" r="1.95" fill="#27358f" stroke="#151515" stroke-width="0.7"/>
<circle cx="571.50" cy="98.50" r="1.95" fill="#27358f" stroke="#151515" stroke-width="0.7"/>
<line x1="561.40" y1="176.33" x2="561.40" y2="179.53" stroke="#222" stroke-width="1.0"/>
<g transform="translate(559.20,187.13) rotate(-45)"><text x="0" y="0" font-size="8.3" text-anchor="end" font-style="italic" fill="#161616">E. faecalis</text><text x="0" y="9.6" font-size="8.3" text-anchor="end" fill="#161616">N=21</text></g>
<defs><filter id="tex1" x="0" y="0" width="100%" height="100%"><feTurbulence type="fractalNoise" baseFrequency="0.6" numOctaves="2" seed="3"/><feColorMatrix type="matrix" values="0 0 0 0 0.92  0 0 0 0 0.82  0 0 0 0 0.55  2.5 0 0 0 -1.35"/></filter><filter id="tex3" x="0" y="0" width="100%" height="100%"><feTurbulence type="fractalNoise" baseFrequency="0.18 0.3" numOctaves="3" seed="11"/><feColorMatrix type="matrix" values="0 0 0 0 0.86  0 0 0 0 0.76  0 0 0 0 0.48  2.2 0 0 0 -1.0"/></filter><filter id="tex3d" x="0" y="0" width="100%" height="100%"><feTurbulence type="fractalNoise" baseFrequency="0.22 0.35" numOctaves="3" seed="5"/><feColorMatrix type="matrix" values="0 0 0 0 0.5  0 0 0 0 0.38  0 0 0 0 0.15  -3.0 0 0 0 1.35"/></filter><radialGradient id="g2" cx="50%" cy="50%" r="70%"><stop offset="0" stop-color="#c4a562"/><stop offset="0.65" stop-color="#c9ab68"/><stop offset="1" stop-color="#dcc488"/></radialGradient></defs>
<text x="630.20" y="24.30" font-size="9.6" text-anchor="start" fill="#111" >Spot Strain</text>
<line x1="628.00" y1="28.60" x2="682.00" y2="28.60" stroke="#e84a7a" stroke-width="1.6"/>
<text x="655.80" y="38.40" font-size="9.7" text-anchor="middle" fill="#111" >AH5011</text>
<line x1="589.30" y1="43.00" x2="589.30" y2="207.00" stroke="#3dbf9f" stroke-width="1.6"/>
<text x="0" y="0" font-size="9.7" text-anchor="middle" fill="#111" transform="translate(585.8,128.1) rotate(-90)">Lawn Strain</text>
<text x="627.00" y="73.90" font-size="9.7" text-anchor="end" fill="#111" >AH6350</text>
<text x="627.00" y="129.60" font-size="9.7" text-anchor="end" fill="#111" >AH4553</text>
<text x="627.00" y="183.20" font-size="9.7" text-anchor="end" fill="#111" >AH5011</text>
<rect x="629.0" y="42.5" width="52.5" height="52.5" fill="#a17f36" stroke="#4a3c22" stroke-width="0.9"/>
<rect x="629.5" y="43" width="51.5" height="51.5" filter="url(#tex1)" opacity="0.3"/>
<circle cx="654.75" cy="69.4" r="13.0" fill="none" stroke="#cfb068" stroke-width="3.3"/>
<circle cx="654.75" cy="69.4" r="11.3" fill="#aa8a48"/>
<rect x="642.95" y="79.20" width="1.6" height="1.6" fill="#111"/>
<rect x="645.52" y="76.91" width="1.6" height="1.6" fill="#111"/>
<rect x="648.09" y="74.62" width="1.6" height="1.6" fill="#111"/>
<rect x="650.67" y="72.33" width="1.6" height="1.6" fill="#111"/>
<rect x="653.24" y="70.04" width="1.6" height="1.6" fill="#111"/>
<rect x="655.81" y="67.76" width="1.6" height="1.6" fill="#111"/>
<rect x="658.38" y="65.47" width="1.6" height="1.6" fill="#111"/>
<rect x="660.96" y="63.18" width="1.6" height="1.6" fill="#111"/>
<rect x="663.53" y="60.89" width="1.6" height="1.6" fill="#111"/>
<rect x="666.10" y="58.60" width="1.6" height="1.6" fill="#111"/>
<rect x="629.0" y="98.8" width="52.5" height="52.5" fill="url(#g2)" stroke="#3a3020" stroke-width="0.9"/>
<rect x="629.5" y="99.3" width="51.5" height="51.5" filter="url(#tex1)" opacity="0.2"/>
<circle cx="656.25" cy="125.0" r="12.7" fill="#8f7647"/>
<rect x="639.80" y="137.30" width="1.6" height="1.6" fill="#111"/>
<rect x="642.51" y="135.22" width="1.6" height="1.6" fill="#111"/>
<rect x="645.22" y="133.13" width="1.6" height="1.6" fill="#111"/>
<rect x="647.93" y="131.05" width="1.6" height="1.6" fill="#111"/>
<rect x="650.63" y="128.97" width="1.6" height="1.6" fill="#111"/>
<rect x="653.34" y="126.88" width="1.6" height="1.6" fill="#111"/>
<rect x="656.05" y="124.80" width="1.6" height="1.6" fill="#111"/>
<rect x="658.76" y="122.72" width="1.6" height="1.6" fill="#111"/>
<rect x="661.47" y="120.63" width="1.6" height="1.6" fill="#111"/>
<rect x="664.18" y="118.55" width="1.6" height="1.6" fill="#111"/>
<rect x="666.88" y="116.47" width="1.6" height="1.6" fill="#111"/>
<rect x="669.59" y="114.38" width="1.6" height="1.6" fill="#111"/>
<rect x="672.30" y="112.30" width="1.6" height="1.6" fill="#111"/>
<rect x="629.0" y="155.0" width="52.5" height="52.2" fill="#c2aa6c" stroke="#3a3020" stroke-width="0.9"/>
<rect x="629.5" y="155.5" width="51.5" height="51.2" filter="url(#tex3)" opacity="0.35"/>
<rect x="629.5" y="155.5" width="51.5" height="51.2" filter="url(#tex3d)" opacity="0.5"/>
<circle cx="655.7" cy="179.0" r="11.6" fill="#8c7238"/>
<rect x="645.50" y="185.70" width="1.6" height="1.6" fill="#111"/>
<rect x="648.24" y="183.46" width="1.6" height="1.6" fill="#111"/>
<rect x="650.99" y="181.21" width="1.6" height="1.6" fill="#111"/>
<rect x="653.73" y="178.97" width="1.6" height="1.6" fill="#111"/>
<rect x="656.47" y="176.73" width="1.6" height="1.6" fill="#111"/>
<rect x="659.21" y="174.49" width="1.6" height="1.6" fill="#111"/>
<rect x="661.96" y="172.24" width="1.6" height="1.6" fill="#111"/>
<rect x="664.70" y="170.00" width="1.6" height="1.6" fill="#111"/>
<line x1="630.50" y1="211.00" x2="658.20" y2="211.00" stroke="#111" stroke-width="1.2"/>
<text x="630.30" y="219.80" font-size="9.3" text-anchor="start" fill="#111" >10 mm</text>
</svg>
</body></html>
